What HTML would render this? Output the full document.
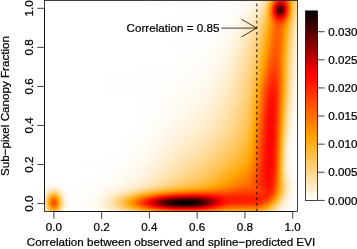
<!DOCTYPE html>
<html><head><meta charset="utf-8"><title>Density plot</title>
<style>
html,body{margin:0;padding:0;background:#fff}
#p{position:relative;width:357px;height:249px;overflow:hidden;background:#fff}
#h{position:absolute;left:44px;top:0px;width:255px;height:212px}
#h i{display:block;height:1px;width:255px}
</style></head><body>
<div id="p">
<div id="h">
<i style="background:linear-gradient(90deg,#ffffff 0.5px,#fffefe 181.5px,#fffefb 195.5px,#fffcf6 204.5px,#fff8ea 211.5px,#fff4e1 214.5px,#fff1d7 216.5px,#ffecc9 218.5px,#ffe4b4 220.5px,#ffd994 222.5px,#ffd280 223.5px,#ffca69 224.5px,#ffc04e 225.5px,#ffaa0e 227.5px,#ff9700 228.5px,#ff5000 231.5px,#ff2900 233.5px,#ff1a00 234.5px,#ff1100 235.5px,#ff0d00 236.5px,#ff0e00 237.5px,#ff1400 238.5px,#ff1e00 239.5px,#ff2d00 240.5px,#ff5200 242.5px,#ff9200 245.5px,#ffa602 246.5px,#ffbb3e 248.5px,#ffcd71 250.5px,#ffdb9a 252.5px,#ffe6b9 254.5px)"></i>
<i style="background:linear-gradient(90deg,#ffffff 0.5px,#fffefd 187.5px,#fffcf7 202.5px,#fff9ef 208.5px,#fff6e6 212.5px,#fff2da 215.5px,#ffeece 217.5px,#ffe7bb 219.5px,#ffe3af 220.5px,#ffd78e 222.5px,#ffd079 223.5px,#ffc760 224.5px,#ffbd43 225.5px,#ffa500 227.5px,#ff4000 231.5px,#ff2a00 232.5px,#ff1600 233.5px,#ff0800 234.5px,#fc0000 235.5px,#f60000 236.5px,#f90000 237.5px,#ff0300 238.5px,#ff0f00 239.5px,#ff1f00 240.5px,#ff3300 241.5px,#ffa400 246.5px,#ffbb3d 248.5px,#ffcd71 250.5px,#ffdc9b 252.5px,#ffe7bb 254.5px)"></i>
<i style="background:linear-gradient(90deg,#ffffff 0.5px,#fffefd 186.5px,#fffdfb 195.5px,#fffcf6 202.5px,#fff9ed 208.5px,#fff5e4 212.5px,#fff1d7 215.5px,#ffecca 217.5px,#ffe6b7 219.5px,#ffe1aa 220.5px,#ffdc9b 221.5px,#ffd588 222.5px,#ffcd71 223.5px,#ffc457 224.5px,#ffb939 225.5px,#ffad16 226.5px,#ff9b00 227.5px,#ff3000 231.5px,#ff1800 232.5px,#ff0300 233.5px,#ec0000 234.5px,#dd0000 235.5px,#d70000 236.5px,#db0000 237.5px,#e90000 238.5px,#fe0000 239.5px,#ff1100 240.5px,#ff2700 241.5px,#ffa100 246.5px,#ffaf1c 247.5px,#ffc458 249.5px,#ffcd72 250.5px,#ffdc9c 252.5px,#ffe7bc 254.5px)"></i>
<i style="background:linear-gradient(90deg,#ffffff 0.5px,#fffefd 185.5px,#fffdfb 194.5px,#fffcf6 201.5px,#fff9ee 207.5px,#fff6e4 211.5px,#fff2d9 214.5px,#ffeece 216.5px,#ffe8be 218.5px,#ffe4b3 219.5px,#ffda95 221.5px,#ffd381 222.5px,#ffca6a 223.5px,#ffc04e 224.5px,#ffb52e 225.5px,#ffa80a 226.5px,#ff9100 227.5px,#ff1f00 231.5px,#ff0600 232.5px,#e70000 233.5px,#cd0000 234.5px,#bd0000 235.5px,#b80000 236.5px,#be0000 237.5px,#cd0000 238.5px,#ff0300 240.5px,#ff1a00 241.5px,#ff9e00 246.5px,#ffae1a 247.5px,#ffba3b 248.5px,#ffc458 249.5px,#ffcd72 250.5px,#ffdc9d 252.5px,#ffe8bd 254.5px)"></i>
<i style="background:linear-gradient(90deg,#ffffff 0.5px,#fffefd 185.5px,#fffefb 193.5px,#fffcf6 200.5px,#fff9ee 206.5px,#fff5e2 211.5px,#fff1d6 214.5px,#ffedcb 216.5px,#ffe7ba 218.5px,#ffe2ae 219.5px,#ffdea0 220.5px,#ffd88f 221.5px,#ffd07a 222.5px,#ffc862 223.5px,#ffbd45 224.5px,#ffa300 226.5px,#ff6a00 228.5px,#ff0f00 231.5px,#ec0000 232.5px,#c90000 233.5px,#af0000 234.5px,#9f0000 235.5px,#9a0000 236.5px,#a10000 237.5px,#b10000 238.5px,#cc0000 239.5px,#ee0000 240.5px,#ff0f00 241.5px,#ff6500 244.5px,#ff9c00 246.5px,#ffad17 247.5px,#ffb939 248.5px,#ffc458 249.5px,#ffcd73 250.5px,#ffd68a 251.5px,#ffdd9e 252.5px,#ffe8be 254.5px)"></i>
<i style="background:linear-gradient(90deg,#ffffff 0.5px,#fffefd 185.5px,#fffdfa 193.5px,#fffcf5 200.5px,#fff8ec 206.5px,#fff4e0 211.5px,#fff0d4 214.5px,#ffebc7 216.5px,#ffe5b6 218.5px,#ffe1aa 219.5px,#ffdc9b 220.5px,#ffd589 221.5px,#ffce74 222.5px,#ffc55a 223.5px,#ffba3c 224.5px,#ffae19 225.5px,#ff9b00 226.5px,#ff5f00 228.5px,#ff0000 231.5px,#d30000 232.5px,#ae0000 233.5px,#930000 234.5px,#830000 235.5px,#7e0000 236.5px,#860000 237.5px,#980000 238.5px,#b50000 239.5px,#da0000 240.5px,#ff0400 241.5px,#ff6000 244.5px,#ff9900 246.5px,#ffac15 247.5px,#ffb939 248.5px,#ffc458 249.5px,#ffce73 250.5px,#ffd68b 251.5px,#ffdd9f 252.5px,#ffe8bf 254.5px)"></i>
<i style="background:linear-gradient(90deg,#ffffff 0.5px,#fffefd 184.5px,#fffdfa 192.5px,#fffcf5 199.5px,#fff9ed 205.5px,#fff4e1 210.5px,#fff0d5 213.5px,#ffedcb 215.5px,#ffe7bb 217.5px,#ffdfa5 219.5px,#ffda96 220.5px,#ffd384 221.5px,#ffcc6e 222.5px,#ffc253 223.5px,#ffb734 224.5px,#ffaa0f 225.5px,#ff9400 226.5px,#ff5600 228.5px,#ff1300 230.5px,#ea0000 231.5px,#bd0000 232.5px,#970000 233.5px,#7b0000 234.5px,#6a0000 235.5px,#660000 236.5px,#6e0000 237.5px,#830000 238.5px,#a10000 239.5px,#c90000 240.5px,#f60000 241.5px,#ff1a00 242.5px,#ff5b00 244.5px,#ff9700 246.5px,#ffac14 247.5px,#ffb938 248.5px,#ffc458 249.5px,#ffce74 250.5px,#ffd68c 251.5px,#ffdea0 252.5px,#ffe9c0 254.5px)"></i>
<i style="background:linear-gradient(90deg,#ffffff 0.5px,#fffefd 183.5px,#fffdfa 192.5px,#fffbf4 199.5px,#fff8eb 205.5px,#fff3de 210.5px,#ffefd2 213.5px,#ffebc7 215.5px,#ffe6b8 217.5px,#ffdea1 219.5px,#ffd891 220.5px,#ffd27e 221.5px,#ffca68 222.5px,#ffc04c 223.5px,#ffb52c 224.5px,#ffa707 225.5px,#ff8e00 226.5px,#ff6f00 227.5px,#ff0900 230.5px,#d90000 231.5px,#aa0000 232.5px,#840000 233.5px,#670000 234.5px,#560000 235.5px,#530000 236.5px,#5c0000 237.5px,#720000 238.5px,#920000 239.5px,#bb0000 240.5px,#eb0000 241.5px,#ff1400 242.5px,#ff5800 244.5px,#ff9600 246.5px,#ffac13 247.5px,#ffb938 248.5px,#ffc459 249.5px,#ffce75 250.5px,#ffd78d 251.5px,#ffdea2 252.5px,#ffe9c2 254.5px)"></i>
<i style="background:linear-gradient(90deg,#ffffff 0.5px,#fffefd 182.5px,#fffdfa 191.5px,#fffbf5 198.5px,#fff8eb 204.5px,#fff4df 209.5px,#fff0d4 212.5px,#ffecca 214.5px,#ffe8bc 216.5px,#ffe1a9 218.5px,#ffd78c 220.5px,#ffd079 221.5px,#ffc862 222.5px,#ffbe46 223.5px,#ffb225 224.5px,#ffa400 225.5px,#ff8800 226.5px,#ff6900 227.5px,#ff0100 230.5px,#cd0000 231.5px,#9e0000 232.5px,#760000 233.5px,#5a0000 234.5px,#490000 235.5px,#460000 236.5px,#500000 237.5px,#670000 238.5px,#880000 239.5px,#b30000 240.5px,#e40000 241.5px,#ff1100 242.5px,#ff5700 244.5px,#ff9600 246.5px,#ffac13 247.5px,#ffb939 248.5px,#ffc55a 249.5px,#ffcf76 250.5px,#ffd78e 251.5px,#ffdfa3 252.5px,#ffeac3 254.5px)"></i>
<i style="background:linear-gradient(90deg,#ffffff 0.5px,#fffefc 182.5px,#fffdfa 191.5px,#fffbf4 198.5px,#fff8ea 204.5px,#fff3dd 209.5px,#ffefd1 212.5px,#ffebc7 214.5px,#ffe6b9 216.5px,#ffdfa5 218.5px,#ffd588 220.5px,#ffce74 221.5px,#ffc65d 222.5px,#ffbc41 223.5px,#ffb020 224.5px,#ffa100 225.5px,#ff8400 226.5px,#ff6500 227.5px,#ff2000 229.5px,#fa0000 230.5px,#c60000 231.5px,#970000 232.5px,#6f0000 233.5px,#530000 234.5px,#430000 235.5px,#400000 236.5px,#4b0000 237.5px,#620000 238.5px,#850000 239.5px,#b00000 240.5px,#e20000 241.5px,#ff1000 242.5px,#ff5700 244.5px,#ff9700 246.5px,#ffac15 247.5px,#ffba3b 248.5px,#ffc55c 249.5px,#ffcf78 250.5px,#ffd890 251.5px,#ffdfa5 252.5px,#ffeac4 254.5px)"></i>
<i style="background:linear-gradient(90deg,#ffffff 0.5px,#fffefd 181.5px,#fffdfa 190.5px,#fffbf4 197.5px,#fff8ea 203.5px,#fff3dd 208.5px,#ffecc9 213.5px,#ffe8bd 215.5px,#ffe2ac 217.5px,#ffd993 219.5px,#ffd383 220.5px,#ffcc70 221.5px,#ffc458 222.5px,#ffba3c 223.5px,#ffaf1b 224.5px,#ff9e00 225.5px,#ff8200 226.5px,#ff6300 227.5px,#ff1e00 229.5px,#f80000 230.5px,#c40000 231.5px,#960000 232.5px,#6f0000 233.5px,#530000 234.5px,#440000 235.5px,#410000 236.5px,#4d0000 237.5px,#640000 238.5px,#870000 239.5px,#b30000 240.5px,#e50000 241.5px,#ff1200 242.5px,#ff5900 244.5px,#ff9800 246.5px,#ffad17 247.5px,#ffbb3d 248.5px,#ffc65e 249.5px,#ffd07a 250.5px,#ffd992 251.5px,#ffe0a6 252.5px,#ffebc5 254.5px)"></i>
<i style="background:linear-gradient(90deg,#ffffff 0.5px,#fffefd 180.5px,#fffdfa 189.5px,#fffbf4 196.5px,#fff8eb 202.5px,#fff3de 207.5px,#fff0d4 210.5px,#ffebc6 213.5px,#ffe6b9 215.5px,#ffe0a8 217.5px,#ffd88f 219.5px,#ffd27f 220.5px,#ffcb6c 221.5px,#ffc354 222.5px,#ffb939 223.5px,#ffad18 224.5px,#ff9c00 225.5px,#ff6200 227.5px,#ff1f00 229.5px,#fa0000 230.5px,#c80000 231.5px,#9b0000 232.5px,#760000 233.5px,#5b0000 234.5px,#4c0000 235.5px,#4a0000 236.5px,#560000 237.5px,#6e0000 238.5px,#900000 239.5px,#bc0000 240.5px,#ed0000 241.5px,#ff1700 242.5px,#ff5c00 244.5px,#ff9b00 246.5px,#ffaf1b 247.5px,#ffbc40 248.5px,#ffc761 249.5px,#ffd17d 250.5px,#ffd994 251.5px,#ffe0a8 252.5px,#ffebc7 254.5px)"></i>
<i style="background:linear-gradient(90deg,#ffffff 0.5px,#ffffff 116.5px,#fffefc 180.5px,#fffdf9 189.5px,#fffbf3 196.5px,#fff7e9 202.5px,#fff3dc 207.5px,#ffefd1 210.5px,#ffeac3 213.5px,#ffe5b6 215.5px,#ffdfa4 217.5px,#ffd68b 219.5px,#ffd17b 220.5px,#ffca68 221.5px,#ffc251 222.5px,#ffb836 223.5px,#ffad16 224.5px,#ff9b00 225.5px,#ff6300 227.5px,#ff0100 230.5px,#d10000 231.5px,#a60000 232.5px,#830000 233.5px,#690000 234.5px,#5b0000 235.5px,#5a0000 236.5px,#660000 237.5px,#7d0000 238.5px,#9f0000 239.5px,#c90000 240.5px,#fa0000 241.5px,#ff1e00 242.5px,#ff6200 244.5px,#ff9f00 246.5px,#ffb020 247.5px,#ffbd45 248.5px,#ffc864 249.5px,#ffd27f 250.5px,#ffda97 251.5px,#ffe1aa 252.5px,#ffecc8 254.5px)"></i>
<i style="background:linear-gradient(90deg,#ffffff 0.5px,#ffffff 116.5px,#fffefc 179.5px,#fffdf9 188.5px,#fffbf4 195.5px,#fff8ea 201.5px,#fff3dd 206.5px,#ffefd2 209.5px,#ffebc5 212.5px,#ffe4b2 215.5px,#ffdea0 217.5px,#ffd588 219.5px,#ffcf78 220.5px,#ffc965 221.5px,#ffc14e 222.5px,#ffb733 223.5px,#ffac14 224.5px,#ff9b00 225.5px,#ff6500 227.5px,#ff0800 230.5px,#df0000 231.5px,#b60000 232.5px,#950000 233.5px,#7d0000 234.5px,#700000 235.5px,#700000 236.5px,#7b0000 237.5px,#920000 238.5px,#b30000 239.5px,#dc0000 240.5px,#ff0700 241.5px,#ff6900 244.5px,#ffa400 246.5px,#ffb226 247.5px,#ffbf49 248.5px,#ffca68 249.5px,#ffd383 250.5px,#ffdb99 251.5px,#ffe2ac 252.5px,#ffecc9 254.5px)"></i>
<i style="background:linear-gradient(90deg,#ffffff 0.5px,#ffffff 116.5px,#fffefc 179.5px,#fffdf9 188.5px,#fffbf3 195.5px,#fff7e8 201.5px,#fff2db 206.5px,#ffeed0 209.5px,#ffe9c2 212.5px,#ffe3af 215.5px,#ffdc9d 217.5px,#ffd484 219.5px,#ffce74 220.5px,#ffc761 221.5px,#ffc04b 222.5px,#ffb732 223.5px,#ffac14 224.5px,#ff9c00 225.5px,#ff6800 227.5px,#ff1100 230.5px,#ef0000 231.5px,#ca0000 232.5px,#ab0000 233.5px,#950000 234.5px,#8a0000 235.5px,#8a0000 236.5px,#950000 237.5px,#ab0000 238.5px,#ca0000 239.5px,#f10000 240.5px,#ff1400 241.5px,#ff8e00 245.5px,#ffa707 246.5px,#ffb52d 247.5px,#ffc14f 248.5px,#ffcb6c 249.5px,#ffd486 250.5px,#ffdc9c 251.5px,#ffe3ae 252.5px,#ffedcb 254.5px)"></i>
<i style="background:linear-gradient(90deg,#ffffff 0.5px,#ffffff 116.5px,#fffefc 178.5px,#fffdf9 187.5px,#fffbf3 194.5px,#fff7e9 200.5px,#fff3dc 205.5px,#ffeac4 211.5px,#ffe4b2 214.5px,#ffdea3 216.5px,#ffd78e 218.5px,#ffcd71 220.5px,#ffc65f 221.5px,#ffbf49 222.5px,#ffb630 223.5px,#ffac14 224.5px,#ff9d00 225.5px,#ff6d00 227.5px,#ff0200 231.5px,#e00000 232.5px,#c40000 233.5px,#b00000 234.5px,#a60000 235.5px,#a70000 236.5px,#b20000 237.5px,#c70000 238.5px,#e50000 239.5px,#ff0700 240.5px,#ff9500 245.5px,#ffab10 246.5px,#ffb734 247.5px,#ffc355 248.5px,#ffcd71 249.5px,#ffd68a 250.5px,#ffdd9f 251.5px,#ffe3b0 252.5px,#ffedcc 254.5px)"></i>
<i style="background:linear-gradient(90deg,#ffffff 0.5px,#ffffff 115.5px,#fffefc 177.5px,#fffdf9 186.5px,#fffbf3 193.5px,#fff7ea 199.5px,#fff3dd 204.5px,#ffeecf 208.5px,#ffe9c1 211.5px,#ffe3af 214.5px,#ffdd9f 216.5px,#ffd68a 218.5px,#ffcc6d 220.5px,#ffbe47 222.5px,#ffb62f 223.5px,#ffac14 224.5px,#ff9e00 225.5px,#ff7100 227.5px,#ff0f00 231.5px,#f80000 232.5px,#de0000 233.5px,#cd0000 234.5px,#c50000 235.5px,#c60000 236.5px,#d10000 237.5px,#e40000 238.5px,#ff0100 239.5px,#ff1700 240.5px,#ff3000 241.5px,#ff9d00 245.5px,#ffae19 246.5px,#ffba3c 247.5px,#ffc55a 248.5px,#ffcf76 249.5px,#ffd78d 250.5px,#ffdea1 251.5px,#ffe4b3 252.5px,#ffedcd 254.5px)"></i>
<i style="background:linear-gradient(90deg,#ffffff 0.5px,#ffffff 116.5px,#fffefc 177.5px,#fffdf9 186.5px,#fffbf3 193.5px,#fff7e8 199.5px,#fff2db 204.5px,#ffedcc 208.5px,#ffe8be 211.5px,#ffe2ac 214.5px,#ffdc9b 216.5px,#ffd486 218.5px,#ffcb6a 220.5px,#ffbd45 222.5px,#ffb52e 223.5px,#ffac15 224.5px,#ffa000 225.5px,#ff7600 227.5px,#ff1d00 231.5px,#ff0b00 232.5px,#f90000 233.5px,#ea0000 234.5px,#e30000 235.5px,#e50000 236.5px,#ef0000 237.5px,#ff0200 238.5px,#ff1300 239.5px,#ff2800 240.5px,#ffa400 245.5px,#ffbd43 247.5px,#ffc760 248.5px,#ffd07a 249.5px,#ffd891 250.5px,#ffdfa4 251.5px,#ffe5b5 252.5px,#ffeecf 254.5px)"></i>
<i style="background:linear-gradient(90deg,#ffffff 0.5px,#ffffff 115.5px,#fffefc 176.5px,#fffdf9 185.5px,#fffbf3 192.5px,#fff7e9 198.5px,#fff3dc 203.5px,#ffeece 207.5px,#ffe9c0 210.5px,#ffe3af 213.5px,#ffdea1 215.5px,#ffd78e 217.5px,#ffcf76 219.5px,#ffc356 221.5px,#ffbd43 222.5px,#ffac15 224.5px,#ffa100 225.5px,#ff3c00 230.5px,#ff1a00 232.5px,#ff0d00 233.5px,#ff0500 234.5px,#ff0100 235.5px,#ff0200 236.5px,#ff0900 237.5px,#ff1500 238.5px,#ff2400 239.5px,#ff4d00 241.5px,#ff9500 244.5px,#ffa90a 245.5px,#ffbf4a 247.5px,#ffc966 248.5px,#ffd27f 249.5px,#ffe0a7 251.5px,#ffe6b7 252.5px,#ffeed0 254.5px)"></i>
<i style="background:linear-gradient(90deg,#ffffff 0.5px,#fffefd 166.5px,#fffdfb 181.5px,#fffbf5 190.5px,#fff9ee 195.5px,#fff5e3 200.5px,#fff0d3 205.5px,#ffeac2 209.5px,#ffe4b2 212.5px,#ffdc9d 215.5px,#ffd27f 218.5px,#ffc864 220.5px,#ffbc41 222.5px,#ffac15 224.5px,#ffa200 225.5px,#ff4600 230.5px,#ff3600 231.5px,#ff2700 232.5px,#ff1c00 233.5px,#ff1500 234.5px,#ff1300 235.5px,#ff1400 236.5px,#ff1b00 237.5px,#ff2600 238.5px,#ff3500 239.5px,#ff5b00 241.5px,#ff9d00 244.5px,#ffac15 245.5px,#ffc251 247.5px,#ffd383 249.5px,#ffe1aa 251.5px,#ffe6b9 252.5px,#ffefd1 254.5px)"></i>
<i style="background:linear-gradient(90deg,#ffffff 0.5px,#fffefd 166.5px,#fffdfa 181.5px,#fffbf4 190.5px,#fff7e9 197.5px,#fff1d8 203.5px,#ffeac5 208.5px,#ffe1a9 213.5px,#ffd891 216.5px,#ffcc6f 219.5px,#ffc251 221.5px,#ffbb3f 222.5px,#ffa300 225.5px,#ff4f00 230.5px,#ff3400 232.5px,#ff2a00 233.5px,#ff2400 234.5px,#ff2200 235.5px,#ff2500 236.5px,#ff2b00 237.5px,#ff3600 238.5px,#ff4300 239.5px,#ff6700 241.5px,#ffa500 244.5px,#ffba3c 246.5px,#ffc458 247.5px,#ffd587 249.5px,#ffe2ac 251.5px,#ffe7bb 252.5px,#ffefd3 254.5px)"></i>
<i style="background:linear-gradient(90deg,#ffffff 0.5px,#fffefd 164.5px,#fffdfb 179.5px,#fffbf4 189.5px,#fff7e9 196.5px,#fff2da 202.5px,#ffe9c2 208.5px,#ffe0a6 213.5px,#ffd78e 216.5px,#ffcb6c 219.5px,#ffc14e 221.5px,#ffba3d 222.5px,#ffa400 225.5px,#ff5700 230.5px,#ff3f00 232.5px,#ff3700 233.5px,#ff3200 234.5px,#ff3000 235.5px,#ff3300 236.5px,#ff3900 237.5px,#ff4300 238.5px,#ff5000 239.5px,#ff7200 241.5px,#ff9800 243.5px,#ffa90a 244.5px,#ffbd43 246.5px,#ffc65d 247.5px,#ffd68b 249.5px,#ffe3ae 251.5px,#ffe8bd 252.5px,#fff0d4 254.5px)"></i>
<i style="background:linear-gradient(90deg,#ffffff 0.5px,#fffefd 164.5px,#fffdfa 179.5px,#fffbf4 189.5px,#fff7e8 196.5px,#fff1d8 202.5px,#ffe9c0 208.5px,#ffdea3 213.5px,#ffd68a 216.5px,#ffca69 219.5px,#ffc04b 221.5px,#ffba3a 222.5px,#ffa400 225.5px,#ff6a00 229.5px,#ff5100 231.5px,#ff4100 233.5px,#ff3d00 234.5px,#ff3c00 235.5px,#ff3f00 236.5px,#ff4500 237.5px,#ff4f00 238.5px,#ff6a00 240.5px,#ff9f00 243.5px,#ffac14 244.5px,#ffbf4a 246.5px,#ffc863 247.5px,#ffd78e 249.5px,#ffe3b1 251.5px,#ffe8bf 252.5px,#fff0d5 254.5px)"></i>
<i style="background:linear-gradient(90deg,#ffffff 0.5px,#fffefd 163.5px,#fffdfb 178.5px,#fffbf4 188.5px,#fff7e9 195.5px,#fff2d9 201.5px,#ffe9c2 207.5px,#ffe0a7 212.5px,#ffdb98 214.5px,#ffd587 216.5px,#ffc965 219.5px,#ffb938 222.5px,#ffa400 225.5px,#ff6e00 229.5px,#ff5700 231.5px,#ff4900 233.5px,#ff4600 234.5px,#ff4600 235.5px,#ff4900 236.5px,#ff5900 238.5px,#ff7300 240.5px,#ffa501 243.5px,#ffc150 246.5px,#ffd17d 248.5px,#ffd891 249.5px,#ffe4b3 251.5px,#ffe9c0 252.5px,#fff1d6 254.5px)"></i>
<i style="background:linear-gradient(90deg,#ffffff 0.5px,#fffefd 163.5px,#fffdfa 178.5px,#fffbf3 188.5px,#fff7e8 195.5px,#fff1d7 201.5px,#ffe9c0 207.5px,#ffdfa4 212.5px,#ffd484 216.5px,#ffc862 219.5px,#ffbe45 221.5px,#ffa300 225.5px,#ff7c00 228.5px,#ff6500 230.5px,#ff5500 232.5px,#ff4d00 234.5px,#ff4e00 235.5px,#ff5100 236.5px,#ff6100 238.5px,#ff7a00 240.5px,#ff9a00 242.5px,#ffa809 243.5px,#ffc354 246.5px,#ffd281 248.5px,#ffd994 249.5px,#ffe5b5 251.5px,#ffe9c2 252.5px,#fff1d7 254.5px)"></i>
<i style="background:linear-gradient(90deg,#ffffff 0.5px,#fffefd 161.5px,#fffdfa 177.5px,#fffbf4 187.5px,#fff7e9 194.5px,#fff2d9 200.5px,#ffe9c2 206.5px,#ffe0a7 211.5px,#ffd68a 215.5px,#ffcb6b 218.5px,#ffbc42 221.5px,#ffaa0f 224.5px,#ffa200 225.5px,#ff7d00 228.5px,#ff6800 230.5px,#ff5900 232.5px,#ff5300 234.5px,#ff5800 236.5px,#ff6700 238.5px,#ff8000 240.5px,#ff9f00 242.5px,#ffaa0f 243.5px,#ffc459 246.5px,#ffd384 248.5px,#ffda96 249.5px,#ffe5b6 251.5px,#ffeac3 252.5px,#fff1d8 254.5px)"></i>
<i style="background:linear-gradient(90deg,#ffffff 0.5px,#fffefd 161.5px,#fffdfa 177.5px,#fffbf3 187.5px,#fff7e8 194.5px,#fff1d7 200.5px,#ffe9c0 206.5px,#ffdfa5 211.5px,#ffd587 215.5px,#ffca68 218.5px,#ffbb3f 221.5px,#ffa90d 224.5px,#ffa100 225.5px,#ff7e00 228.5px,#ff6a00 230.5px,#ff5c00 232.5px,#ff5700 234.5px,#ff5d00 236.5px,#ff6d00 238.5px,#ff8500 240.5px,#ffa300 242.5px,#ffac15 243.5px,#ffc65c 246.5px,#ffd486 248.5px,#ffdb99 249.5px,#ffe6b8 251.5px,#ffeac5 252.5px,#fff2d9 254.5px)"></i>
<i style="background:linear-gradient(90deg,#ffffff 0.5px,#fffefd 160.5px,#fffdfa 176.5px,#fffbf4 186.5px,#fff7e9 193.5px,#fff2d9 199.5px,#ffeac2 205.5px,#ffdea2 211.5px,#ffd484 215.5px,#ffc965 218.5px,#ffba3c 221.5px,#ffa90a 224.5px,#ffa000 225.5px,#ff7e00 228.5px,#ff6b00 230.5px,#ff5f00 232.5px,#ff5a00 234.5px,#ff6000 236.5px,#ff7100 238.5px,#ff8900 240.5px,#ffa602 242.5px,#ffc760 246.5px,#ffd589 248.5px,#ffdc9b 249.5px,#ffe6b9 251.5px,#ffebc6 252.5px,#fff2da 254.5px)"></i>
<i style="background:linear-gradient(90deg,#ffffff 0.5px,#ffffff 110.5px,#fffefd 160.5px,#fffdfa 176.5px,#fffbf3 186.5px,#fff7e8 193.5px,#fff1d8 199.5px,#ffe9c0 205.5px,#ffdda0 211.5px,#ffd381 215.5px,#ffc862 218.5px,#ffb939 221.5px,#ffa808 224.5px,#ff9f00 225.5px,#ff7e00 228.5px,#ff6c00 230.5px,#ff6000 232.5px,#ff5d00 234.5px,#ff5f00 235.5px,#ff6a00 237.5px,#ff7f00 239.5px,#ff9a00 241.5px,#ffa706 242.5px,#ffc863 246.5px,#ffd68b 248.5px,#ffdc9d 249.5px,#ffe7bb 251.5px,#ffebc7 252.5px,#fff2db 254.5px)"></i>
<i style="background:linear-gradient(90deg,#ffffff 0.5px,#fffefd 158.5px,#fffdfa 175.5px,#fffbf3 185.5px,#fff7e9 192.5px,#fff2d9 198.5px,#ffeac3 204.5px,#ffdfa4 210.5px,#ffd587 214.5px,#ffcb6b 217.5px,#ffbd45 220.5px,#ffb327 222.5px,#ffa705 224.5px,#ff9d00 225.5px,#ff7d00 228.5px,#ff6c00 230.5px,#ff6100 232.5px,#ff5e00 234.5px,#ff6100 235.5px,#ff6d00 237.5px,#ff8200 239.5px,#ff9d00 241.5px,#ffa80a 242.5px,#ffc965 246.5px,#ffd78d 248.5px,#ffdd9f 249.5px,#ffe7bc 251.5px,#ffecc8 252.5px,#fff2dc 254.5px)"></i>
<i style="background:linear-gradient(90deg,#ffffff 0.5px,#ffffff 110.5px,#fffefd 158.5px,#fffdfa 175.5px,#fffbf3 185.5px,#fff7e8 192.5px,#fff1d8 198.5px,#ffe9c1 204.5px,#ffdea1 210.5px,#ffd485 214.5px,#ffca68 217.5px,#ffbc42 220.5px,#ffb224 222.5px,#ffa603 224.5px,#ff9c00 225.5px,#ff7c00 228.5px,#ff6c00 230.5px,#ff6100 232.5px,#ff5f00 234.5px,#ff6200 235.5px,#ff6f00 237.5px,#ff8400 239.5px,#ff9f00 241.5px,#ffaa0d 242.5px,#ffca68 246.5px,#ffd88f 248.5px,#ffdea0 249.5px,#ffe8be 251.5px,#ffecc9 252.5px,#fff3dc 254.5px)"></i>
<i style="background:linear-gradient(90deg,#ffffff 0.5px,#ffffff 110.5px,#fffefd 158.5px,#fffdfa 175.5px,#fffaf2 185.5px,#fff6e7 192.5px,#fff1d6 198.5px,#ffe8bf 204.5px,#ffdd9f 210.5px,#ffd382 214.5px,#ffc965 217.5px,#ffbb3f 220.5px,#ffa500 224.5px,#ff8500 227.5px,#ff7200 229.5px,#ff6500 231.5px,#ff6000 233.5px,#ff6300 235.5px,#ff7000 237.5px,#ff8500 239.5px,#ffa000 241.5px,#ffab10 242.5px,#ffc355 245.5px,#ffd27e 247.5px,#ffdea2 249.5px,#ffe8bf 251.5px,#ffeccb 252.5px,#fff3dd 254.5px)"></i>
<i style="background:linear-gradient(90deg,#ffffff 0.5px,#ffffff 109.5px,#fffefd 156.5px,#fffdfa 173.5px,#fffbf3 184.5px,#fff7e8 191.5px,#fff1d8 197.5px,#ffe9c1 203.5px,#ffdfa3 209.5px,#ffd588 213.5px,#ffcf77 215.5px,#ffc863 217.5px,#ffba3d 220.5px,#ffa300 224.5px,#ff8300 227.5px,#ff7200 229.5px,#ff6500 231.5px,#ff6000 233.5px,#ff6400 235.5px,#ff7100 237.5px,#ff8700 239.5px,#ffa200 241.5px,#ffab12 242.5px,#ffcb6c 246.5px,#ffd993 248.5px,#ffe4b3 250.5px,#ffe9c0 251.5px,#ffedcc 252.5px,#fff3de 254.5px)"></i>
<i style="background:linear-gradient(90deg,#ffffff 0.5px,#ffffff 109.5px,#fffefd 156.5px,#fffdfa 173.5px,#fffaf2 184.5px,#fff6e7 191.5px,#fff1d7 197.5px,#ffe9c0 203.5px,#ffdea1 209.5px,#ffd486 213.5px,#ffce74 215.5px,#ffc760 217.5px,#ffbe48 219.5px,#ffb42b 221.5px,#ffa90b 223.5px,#ffa200 224.5px,#ff8200 227.5px,#ff7100 229.5px,#ff6500 231.5px,#ff6000 233.5px,#ff6400 235.5px,#ff7200 237.5px,#ff8800 239.5px,#ffa400 241.5px,#ffcc6e 246.5px,#ffd995 248.5px,#ffe5b4 250.5px,#ffe9c1 251.5px,#ffedcd 252.5px,#fff4df 254.5px)"></i>
<i style="background:linear-gradient(90deg,#ffffff 0.5px,#ffffff 109.5px,#fffefd 154.5px,#fffdfa 172.5px,#fffbf3 183.5px,#fff7e8 190.5px,#fff0d5 197.5px,#ffe8be 203.5px,#ffdd9f 209.5px,#ffd383 213.5px,#ffca68 216.5px,#ffbd45 219.5px,#ffb328 221.5px,#ffa809 223.5px,#ffa000 224.5px,#ff8100 227.5px,#ff7000 229.5px,#ff6400 231.5px,#ff6000 233.5px,#ff6500 235.5px,#ff7300 237.5px,#ff8a00 239.5px,#ffa500 241.5px,#ffc55b 245.5px,#ffd484 247.5px,#ffda96 248.5px,#ffe5b5 250.5px,#ffeac2 251.5px,#ffeece 252.5px,#fff4df 254.5px)"></i>
<i style="background:linear-gradient(90deg,#ffffff 0.5px,#ffffff 109.5px,#fffefc 154.5px,#fffdfa 172.5px,#fffaf2 183.5px,#fff6e7 190.5px,#fff0d4 197.5px,#ffe7bc 203.5px,#ffdc9d 209.5px,#ffd381 213.5px,#ffc966 216.5px,#ffbc42 219.5px,#ffb226 221.5px,#ffa706 223.5px,#ff9e00 224.5px,#ff7f00 227.5px,#ff6f00 229.5px,#ff6400 231.5px,#ff6000 233.5px,#ff6500 235.5px,#ff7400 237.5px,#ff8b00 239.5px,#ffa602 241.5px,#ffc65d 245.5px,#ffd486 247.5px,#ffdb98 248.5px,#ffe0a8 249.5px,#ffeac4 251.5px,#ffeecf 252.5px,#fff4e0 254.5px)"></i>
<i style="background:linear-gradient(90deg,#ffffff 0.5px,#ffffff 108.5px,#fffefd 150.5px,#fffdfa 170.5px,#fffbf3 182.5px,#fff7e8 189.5px,#fff0d6 196.5px,#ffe8bf 202.5px,#ffdea1 208.5px,#ffd587 212.5px,#ffc863 216.5px,#ffbc40 219.5px,#ffb123 221.5px,#ffa603 223.5px,#ff9d00 224.5px,#ff7e00 227.5px,#ff6e00 229.5px,#ff6300 231.5px,#ff6000 233.5px,#ff6500 235.5px,#ff7500 237.5px,#ff9900 240.5px,#ffa604 241.5px,#ffc75f 245.5px,#ffd587 247.5px,#ffdb99 248.5px,#ffe1aa 249.5px,#ffeac5 251.5px,#ffeed0 252.5px,#fff4e1 254.5px)"></i>
<i style="background:linear-gradient(90deg,#ffffff 0.5px,#ffffff 108.5px,#fffefd 151.5px,#fffdf9 171.5px,#fffaf2 182.5px,#fff7e7 189.5px,#fff0d4 196.5px,#ffe8bd 202.5px,#ffdd9f 208.5px,#ffd485 212.5px,#ffcb6b 215.5px,#ffc356 217.5px,#ffbb3d 219.5px,#ffa501 223.5px,#ff9b00 224.5px,#ff7d00 227.5px,#ff6d00 229.5px,#ff6200 231.5px,#ff5f00 233.5px,#ff6100 234.5px,#ff6d00 236.5px,#ff8000 238.5px,#ff9a00 240.5px,#ffa706 241.5px,#ffc761 245.5px,#ffd589 247.5px,#ffdc9b 248.5px,#ffe1ab 249.5px,#ffebc6 251.5px,#ffefd0 252.5px,#fff5e1 254.5px)"></i>
<i style="background:linear-gradient(90deg,#ffffff 0.5px,#ffffff 108.5px,#fffefc 151.5px,#fffdf9 171.5px,#fffaf1 182.5px,#fff6e6 189.5px,#fff1d6 195.5px,#ffe7bc 202.5px,#ffdc9d 208.5px,#ffd383 212.5px,#ffcd72 214.5px,#ffc65f 216.5px,#ffba3b 219.5px,#ffa400 223.5px,#ff8500 226.5px,#ff7300 228.5px,#ff6600 230.5px,#ff5f00 232.5px,#ff6100 234.5px,#ff6d00 236.5px,#ff8100 238.5px,#ff9c00 240.5px,#ffa808 241.5px,#ffc863 245.5px,#ffd68b 247.5px,#ffdc9c 248.5px,#ffe2ac 249.5px,#ffebc7 251.5px,#ffefd1 252.5px,#fff5e2 254.5px)"></i>
<i style="background:linear-gradient(90deg,#ffffff 0.5px,#fffefd 137.5px,#fffdfa 167.5px,#fffaf2 181.5px,#fff7e7 188.5px,#fff0d5 195.5px,#ffe7ba 202.5px,#ffdc9b 208.5px,#ffd281 212.5px,#ffcd70 214.5px,#ffc65d 216.5px,#ffb938 219.5px,#ffa90c 222.5px,#ffa200 223.5px,#ff8300 226.5px,#ff7200 228.5px,#ff6500 230.5px,#ff5f00 232.5px,#ff6100 234.5px,#ff6e00 236.5px,#ff8200 238.5px,#ff9d00 240.5px,#ffa80a 241.5px,#ffc965 245.5px,#ffd78c 247.5px,#ffdd9e 248.5px,#ffe2ae 249.5px,#ffecc8 251.5px,#ffefd2 252.5px,#fff5e3 254.5px)"></i>
<i style="background:linear-gradient(90deg,#ffffff 0.5px,#fffefd 144.5px,#fffdfa 168.5px,#fffaf1 181.5px,#fff6e6 188.5px,#fff1d7 194.5px,#ffe8bd 201.5px,#ffdd9f 207.5px,#ffd486 211.5px,#ffc965 215.5px,#ffbd43 218.5px,#ffb328 220.5px,#ffa809 222.5px,#ffa100 223.5px,#ff8200 226.5px,#ff7100 228.5px,#ff6400 230.5px,#ff5f00 232.5px,#ff6100 234.5px,#ff6e00 236.5px,#ff8300 238.5px,#ff9e00 240.5px,#ffa90c 241.5px,#ffc966 245.5px,#ffd78e 247.5px,#ffdd9f 248.5px,#ffe3af 249.5px,#ffecc9 251.5px,#ffefd3 252.5px,#fff5e3 254.5px)"></i>
<i style="background:linear-gradient(90deg,#ffffff 0.5px,#ffffff 106.5px,#fffefd 146.5px,#fffdf9 169.5px,#fffaf1 181.5px,#fff6e5 188.5px,#fff0d6 194.5px,#ffe7bb 201.5px,#ffdd9e 207.5px,#ffd484 211.5px,#ffc863 215.5px,#ffbc41 218.5px,#ffb225 220.5px,#ffa707 222.5px,#ff9f00 223.5px,#ff8000 226.5px,#ff6f00 228.5px,#ff6300 230.5px,#ff5e00 232.5px,#ff6100 234.5px,#ff6e00 236.5px,#ff8400 238.5px,#ff9f00 240.5px,#ffaa0d 241.5px,#ffca68 245.5px,#ffd890 247.5px,#ffdea1 248.5px,#ffe3b0 249.5px,#ffecca 251.5px,#fff0d4 252.5px,#fff5e4 254.5px)"></i>
<i style="background:linear-gradient(90deg,#ffffff 0.5px,#fffefe 133.5px,#fffdfa 166.5px,#fffaf1 180.5px,#fff6e7 187.5px,#fff0d5 194.5px,#ffe7ba 201.5px,#ffdc9c 207.5px,#ffd382 211.5px,#ffc761 215.5px,#ffbb3e 218.5px,#ffb123 220.5px,#ffa604 222.5px,#ff9d00 223.5px,#ff7f00 226.5px,#ff6e00 228.5px,#ff6200 230.5px,#ff5e00 232.5px,#ff6100 234.5px,#ff6f00 236.5px,#ff8500 238.5px,#ffa000 240.5px,#ffaa0f 241.5px,#ffca6a 245.5px,#ffd891 247.5px,#ffdea2 248.5px,#ffe4b1 249.5px,#ffedcb 251.5px,#fff0d5 252.5px,#fff6e4 254.5px)"></i>
<i style="background:linear-gradient(90deg,#ffffff 0.5px,#fffefd 134.5px,#fffdfa 166.5px,#fffcf6 174.5px,#fffaf1 180.5px,#fff6e6 187.5px,#fff0d3 194.5px,#ffe6b8 201.5px,#ffdb9a 207.5px,#ffd281 211.5px,#ffc65f 215.5px,#ffba3c 218.5px,#ffb020 220.5px,#ffa602 222.5px,#ff9c00 223.5px,#ff7e00 226.5px,#ff6d00 228.5px,#ff6100 230.5px,#ff5d00 232.5px,#ff6100 234.5px,#ff6f00 236.5px,#ff8500 238.5px,#ffa100 240.5px,#ffab11 241.5px,#ffcb6c 245.5px,#ffd992 247.5px,#ffdfa3 248.5px,#ffe4b3 249.5px,#ffedcc 251.5px,#fff6e5 254.5px)"></i>
<i style="background:linear-gradient(90deg,#ffffff 0.5px,#fffffe 130.5px,#fffdfa 164.5px,#fffcf7 172.5px,#fffaf1 179.5px,#fff6e7 186.5px,#fff0d5 193.5px,#ffe7bb 200.5px,#ffdb99 207.5px,#ffd27f 211.5px,#ffc65d 215.5px,#ffb93a 218.5px,#ffa400 222.5px,#ff7c00 226.5px,#ff6c00 228.5px,#ff6100 230.5px,#ff5c00 232.5px,#ff6100 234.5px,#ff7000 236.5px,#ff8600 238.5px,#ffa200 240.5px,#ffab12 241.5px,#ffcc6d 245.5px,#ffd994 247.5px,#ffdfa5 248.5px,#ffe4b4 249.5px,#ffedcc 251.5px,#fff6e5 254.5px)"></i>
<i style="background:linear-gradient(90deg,#ffffff 0.5px,#fffffe 131.5px,#fffdfa 164.5px,#fffcf7 172.5px,#fffaf1 179.5px,#fff6e6 186.5px,#fff0d4 193.5px,#ffe7ba 200.5px,#ffdc9d 206.5px,#ffd484 210.5px,#ffc864 214.5px,#ffbd44 217.5px,#ffa300 222.5px,#ff7b00 226.5px,#ff6a00 228.5px,#ff6000 230.5px,#ff5c00 232.5px,#ff6100 234.5px,#ff7000 236.5px,#ff8700 238.5px,#ffa300 240.5px,#ffac14 241.5px,#ffcc6f 245.5px,#ffda95 247.5px,#ffe0a6 248.5px,#ffe5b5 249.5px,#ffedcd 251.5px,#fff6e6 254.5px)"></i>
<i style="background:linear-gradient(90deg,#ffffff 0.5px,#fffefe 131.5px,#fffdfa 164.5px,#fffcf6 172.5px,#fffaf0 179.5px,#fff6e5 186.5px,#ffefd3 193.5px,#ffe6b9 200.5px,#ffdc9b 206.5px,#ffd383 210.5px,#ffc862 214.5px,#ffbc42 217.5px,#ffb328 219.5px,#ffa90a 221.5px,#ffa100 222.5px,#ff7900 226.5px,#ff6900 228.5px,#ff5f00 230.5px,#ff5b00 232.5px,#ff6100 234.5px,#ff7000 236.5px,#ff8800 238.5px,#ffa400 240.5px,#ffcd70 245.5px,#ffda97 247.5px,#ffe0a7 248.5px,#ffe5b6 249.5px,#ffeece 251.5px,#fff6e6 254.5px)"></i>
<i style="background:linear-gradient(90deg,#ffffff 0.5px,#fffffe 128.5px,#fffdfa 163.5px,#fffcf6 171.5px,#fffaf1 178.5px,#fff6e6 185.5px,#fff0d5 192.5px,#ffe7bb 199.5px,#ffdb9a 206.5px,#ffd381 210.5px,#ffc761 214.5px,#ffbc40 217.5px,#ffb225 219.5px,#ffa807 221.5px,#ffa000 222.5px,#ff7800 226.5px,#ff6800 228.5px,#ff5e00 230.5px,#ff5b00 232.5px,#ff6100 234.5px,#ff7100 236.5px,#ff8800 238.5px,#ffa500 240.5px,#ffc65d 244.5px,#ffd486 246.5px,#ffdb98 247.5px,#ffe0a8 248.5px,#ffeac4 250.5px,#fff1d8 252.5px,#fff7e7 254.5px)"></i>
<i style="background:linear-gradient(90deg,#ffffff 0.5px,#fffffe 129.5px,#fffdf9 163.5px,#fffcf6 171.5px,#fffaf0 178.5px,#fff6e5 185.5px,#fff0d4 192.5px,#ffe7ba 199.5px,#ffdb98 206.5px,#ffd27f 210.5px,#ffc65f 214.5px,#ffbb3e 217.5px,#ffb123 219.5px,#ffa705 221.5px,#ff9e00 222.5px,#ff7600 226.5px,#ff6700 228.5px,#ff5d00 230.5px,#ff5a00 232.5px,#ff6100 234.5px,#ff7100 236.5px,#ff8900 238.5px,#ffa501 240.5px,#ffc65e 244.5px,#ffd587 246.5px,#ffdb99 247.5px,#ffe1aa 248.5px,#ffeac5 250.5px,#fff2d9 252.5px,#fff7e7 254.5px)"></i>
<i style="background:linear-gradient(90deg,#ffffff 0.5px,#fffefe 129.5px,#fffdf9 163.5px,#fffcf6 171.5px,#fffaef 178.5px,#fff6e4 185.5px,#ffefd3 192.5px,#ffe6b9 199.5px,#ffdc9c 205.5px,#ffd485 209.5px,#ffc966 213.5px,#ffc253 215.5px,#ffba3c 217.5px,#ffb021 219.5px,#ffa602 221.5px,#ff9c00 222.5px,#ff7500 226.5px,#ff6500 228.5px,#ff5c00 230.5px,#ff5900 232.5px,#ff6100 234.5px,#ff7100 236.5px,#ff8a00 238.5px,#ffa602 240.5px,#ffc760 244.5px,#ffd589 246.5px,#ffdc9b 247.5px,#ffe1ab 248.5px,#ffebc6 250.5px,#fff2da 252.5px,#fff7e8 254.5px)"></i>
<i style="background:linear-gradient(90deg,#ffffff 0.5px,#fffffe 127.5px,#fffdf9 162.5px,#fffcf6 170.5px,#fffaf0 177.5px,#fff6e6 184.5px,#fff0d4 191.5px,#ffe7bc 198.5px,#ffdc9b 205.5px,#ffd17c 210.5px,#ffc55b 214.5px,#ffb939 217.5px,#ffa500 221.5px,#ff7c00 225.5px,#ff6400 228.5px,#ff5b00 230.5px,#ff5900 232.5px,#ff6000 234.5px,#ff7200 236.5px,#ff9800 239.5px,#ffa604 240.5px,#ffc761 244.5px,#ffd68a 246.5px,#ffdc9c 247.5px,#ffe2ac 248.5px,#ffebc7 250.5px,#fff2da 252.5px,#fff7e8 254.5px)"></i>
<i style="background:linear-gradient(90deg,#ffffff 0.5px,#fffffe 127.5px,#fffdf9 162.5px,#fffcf6 170.5px,#fffaef 177.5px,#fff6e5 184.5px,#fff0d3 191.5px,#ffe7ba 198.5px,#ffdb99 205.5px,#ffd07b 210.5px,#ffc459 214.5px,#ffb837 217.5px,#ffa300 221.5px,#ff7a00 225.5px,#ff6900 227.5px,#ff5d00 229.5px,#ff5800 231.5px,#ff5b00 233.5px,#ff6800 235.5px,#ff7e00 237.5px,#ff9900 239.5px,#ffa705 240.5px,#ffc862 244.5px,#ffd68b 246.5px,#ffdc9d 247.5px,#ffe2ad 248.5px,#ffebc8 250.5px,#fff2db 252.5px,#fff7e9 254.5px)"></i>
<i style="background:linear-gradient(90deg,#ffffff 0.5px,#fffffe 127.5px,#fffdf9 162.5px,#fffcf5 170.5px,#fff9ef 177.5px,#fff5e4 184.5px,#ffefd2 191.5px,#ffe6b9 198.5px,#ffdb98 205.5px,#ffd280 209.5px,#ffc761 213.5px,#ffbc41 216.5px,#ffb328 218.5px,#ffa90a 220.5px,#ffa100 221.5px,#ff7900 225.5px,#ff6800 227.5px,#ff5c00 229.5px,#ff5700 231.5px,#ff5a00 233.5px,#ff6800 235.5px,#ff7e00 237.5px,#ff9a00 239.5px,#ffa706 240.5px,#ffc864 244.5px,#ffd78c 246.5px,#ffdd9e 247.5px,#ffe2ae 248.5px,#ffecc8 250.5px,#fff3dc 252.5px,#fff7e9 254.5px)"></i>
<i style="background:linear-gradient(90deg,#ffffff 0.5px,#fffffe 125.5px,#fffdf9 161.5px,#fffcf5 169.5px,#fffaef 176.5px,#fff5e3 184.5px,#ffefd1 191.5px,#ffe6b8 198.5px,#ffda97 205.5px,#ffd27f 209.5px,#ffc75f 213.5px,#ffbb3f 216.5px,#ffb225 218.5px,#ffa808 220.5px,#ffa000 221.5px,#ff7700 225.5px,#ff6600 227.5px,#ff5b00 229.5px,#ff5600 231.5px,#ff5a00 233.5px,#ff6800 235.5px,#ff7e00 237.5px,#ff9a00 239.5px,#ffa807 240.5px,#ffc14f 243.5px,#ffd07a 245.5px,#ffdd9f 247.5px,#ffe3af 248.5px,#ffe8bd 249.5px,#fff0d4 251.5px,#fff7ea 254.5px)"></i>
<i style="background:linear-gradient(90deg,#ffffff 0.5px,#fffffe 125.5px,#fffdf9 160.5px,#fffbf5 169.5px,#fff9ef 176.5px,#fff5e2 184.5px,#ffeed0 191.5px,#ffe5b6 198.5px,#ffda95 205.5px,#ffd17d 209.5px,#ffc65d 213.5px,#ffbb3d 216.5px,#ffb123 218.5px,#ffa705 220.5px,#ff9e00 221.5px,#ff7500 225.5px,#ff6500 227.5px,#ff5900 229.5px,#ff5500 231.5px,#ff5900 233.5px,#ff6800 235.5px,#ff7f00 237.5px,#ff9b00 239.5px,#ffa808 240.5px,#ffc150 243.5px,#ffd17b 245.5px,#ffdea0 247.5px,#ffe3b0 248.5px,#ffe8be 249.5px,#fff0d4 251.5px,#fff8ea 254.5px)"></i>
<i style="background:linear-gradient(90deg,#ffffff 0.5px,#fffefe 126.5px,#fffdf9 160.5px,#fffbf5 169.5px,#fff9ee 176.5px,#fff5e3 183.5px,#ffefd2 190.5px,#ffe6b9 197.5px,#ffdb99 204.5px,#ffd382 208.5px,#ffc965 212.5px,#ffc252 214.5px,#ffba3b 216.5px,#ffb020 218.5px,#ffa602 220.5px,#ff9c00 221.5px,#ff7300 225.5px,#ff6300 227.5px,#ff5800 229.5px,#ff5400 231.5px,#ff5900 233.5px,#ff6800 235.5px,#ff7f00 237.5px,#ff9c00 239.5px,#ffa809 240.5px,#ffca68 244.5px,#ffd890 246.5px,#ffdea1 247.5px,#ffe3b1 248.5px,#ffedcb 250.5px,#fff3dd 252.5px,#fff8ea 254.5px)"></i>
<i style="background:linear-gradient(90deg,#ffffff 0.5px,#fffffe 124.5px,#fffdf9 159.5px,#fffbf5 168.5px,#fff9ef 175.5px,#fff5e3 183.5px,#ffefd1 190.5px,#ffe6b8 197.5px,#ffdb98 204.5px,#ffd07a 209.5px,#ffc55a 213.5px,#ffb939 216.5px,#ffa500 220.5px,#ff7b00 224.5px,#ff6100 227.5px,#ff5600 229.5px,#ff5300 231.5px,#ff5800 233.5px,#ff6700 235.5px,#ff7f00 237.5px,#ff9c00 239.5px,#ffa90a 240.5px,#ffca69 244.5px,#ffd891 246.5px,#ffdea2 247.5px,#ffe4b2 248.5px,#ffedcb 250.5px,#fff3de 252.5px,#fff8eb 254.5px)"></i>
<i style="background:linear-gradient(90deg,#ffffff 0.5px,#fffffe 124.5px,#fffdf8 159.5px,#fffbf4 168.5px,#fff9ee 175.5px,#fff5e2 183.5px,#ffeed0 190.5px,#ffe6b7 197.5px,#ffda97 204.5px,#ffd079 209.5px,#ffc458 213.5px,#ffb836 216.5px,#ffa300 220.5px,#ff7900 224.5px,#ff5f00 227.5px,#ff5500 229.5px,#ff5100 231.5px,#ff5700 233.5px,#ff6700 235.5px,#ff7f00 237.5px,#ff9d00 239.5px,#ffa90b 240.5px,#ffca6a 244.5px,#ffd992 246.5px,#ffdfa3 247.5px,#ffe4b3 248.5px,#ffedcc 250.5px,#fff4de 252.5px,#fff8eb 254.5px)"></i>
<i style="background:linear-gradient(90deg,#ffffff 0.5px,#fffffe 124.5px,#fffdf8 159.5px,#fffbf4 168.5px,#fff9ee 175.5px,#fff4e1 183.5px,#ffeecf 190.5px,#ffe5b6 197.5px,#ffda95 204.5px,#ffd17e 208.5px,#ffc760 212.5px,#ffbc41 215.5px,#ffb327 217.5px,#ffa80a 219.5px,#ffa100 220.5px,#ff7700 224.5px,#ff5e00 227.5px,#ff5300 229.5px,#ff5000 231.5px,#ff5600 233.5px,#ff6700 235.5px,#ff7f00 237.5px,#ff9d00 239.5px,#ffa90c 240.5px,#ffbb3d 242.5px,#ffcb6b 244.5px,#ffd993 246.5px,#ffdfa4 247.5px,#ffe4b4 248.5px,#ffedcd 250.5px,#fff4df 252.5px,#fff8eb 254.5px)"></i>
<i style="background:linear-gradient(90deg,#ffffff 0.5px,#fffffe 123.5px,#fffdf8 158.5px,#fffbf4 167.5px,#fff9ee 174.5px,#fff5e2 182.5px,#ffefd1 189.5px,#ffe5b4 197.5px,#ffd994 204.5px,#ffd17d 208.5px,#ffc65e 212.5px,#ffbb3e 215.5px,#ffb224 217.5px,#ffa707 219.5px,#ff9f00 220.5px,#ff7500 224.5px,#ff5c00 227.5px,#ff5200 229.5px,#ff4f00 231.5px,#ff5600 233.5px,#ff6700 235.5px,#ff7f00 237.5px,#ff9e00 239.5px,#ffaa0d 240.5px,#ffbb3e 242.5px,#ffcb6c 244.5px,#ffd994 246.5px,#ffdfa5 247.5px,#ffe5b5 248.5px,#ffeece 250.5px,#fff4e0 252.5px,#fff8ec 254.5px)"></i>
<i style="background:linear-gradient(90deg,#ffffff 0.5px,#fffffe 123.5px,#fffdf8 158.5px,#fffbf4 167.5px,#fff9ee 174.5px,#fff4e1 182.5px,#ffeed0 189.5px,#ffe4b3 197.5px,#ffd993 204.5px,#ffd17b 208.5px,#ffc55c 212.5px,#ffba3c 215.5px,#ffb122 217.5px,#ffa604 219.5px,#ff9d00 220.5px,#ff7300 224.5px,#ff6100 226.5px,#ff5400 228.5px,#ff5000 229.5px,#ff4e00 231.5px,#ff5500 233.5px,#ff6600 235.5px,#ff8000 237.5px,#ff9e00 239.5px,#ffaa0e 240.5px,#ffbb3f 242.5px,#ffcc6d 244.5px,#ffda95 246.5px,#ffe0a6 247.5px,#ffe5b5 248.5px,#ffeece 250.5px,#fff4e0 252.5px,#fff8ec 254.5px)"></i>
<i style="background:linear-gradient(90deg,#ffffff 0.5px,#fffefe 123.5px,#fffcf8 158.5px,#fffbf3 167.5px,#fff9ed 174.5px,#fff4e0 182.5px,#ffeecf 189.5px,#ffe5b6 196.5px,#ffda97 203.5px,#ffd280 207.5px,#ffc863 211.5px,#ffc151 213.5px,#ffb93a 215.5px,#ffb01f 217.5px,#ffa501 219.5px,#ff9b00 220.5px,#ff7100 224.5px,#ff5f00 226.5px,#ff5200 228.5px,#ff4e00 229.5px,#ff4c00 231.5px,#ff5400 233.5px,#ff6600 235.5px,#ff8000 237.5px,#ff9e00 239.5px,#ffaa0f 240.5px,#ffbc40 242.5px,#ffcc6e 244.5px,#ffda96 246.5px,#ffe0a7 247.5px,#ffe5b6 248.5px,#ffeecf 250.5px,#fff4e0 252.5px,#fff8ec 254.5px)"></i>
<i style="background:linear-gradient(90deg,#ffffff 0.5px,#fffffe 121.5px,#fffcf8 157.5px,#fffbf4 166.5px,#fff9ee 173.5px,#fff5e2 181.5px,#ffefd1 188.5px,#ffe5b5 196.5px,#ffda95 203.5px,#ffd079 208.5px,#ffc459 212.5px,#ffb938 215.5px,#ffa400 219.5px,#ff6f00 224.5px,#ff5d00 226.5px,#ff5000 228.5px,#ff4b00 230.5px,#ff4e00 232.5px,#ff5b00 234.5px,#ff7200 236.5px,#ff9f00 239.5px,#ffaa0f 240.5px,#ffbc41 242.5px,#ffcc6f 244.5px,#ffda97 246.5px,#ffe0a8 247.5px,#ffe6b7 248.5px,#ffeecf 250.5px,#fff4e1 252.5px,#fff9ed 254.5px)"></i>
<i style="background:linear-gradient(90deg,#ffffff 0.5px,#fffffe 121.5px,#fffcf8 157.5px,#fffbf3 166.5px,#fff9ed 173.5px,#fff4e1 181.5px,#ffeed0 188.5px,#ffe4b4 196.5px,#ffd994 203.5px,#ffcf77 208.5px,#ffc457 212.5px,#ffb835 215.5px,#ffa90b 218.5px,#ffa200 219.5px,#ff6d00 224.5px,#ff5b00 226.5px,#ff4f00 228.5px,#ff4900 230.5px,#ff4c00 232.5px,#ff5a00 234.5px,#ff7100 236.5px,#ff9f00 239.5px,#ffab10 240.5px,#ffbc42 242.5px,#ffcd70 244.5px,#ffdb98 246.5px,#ffe1a9 247.5px,#ffe6b8 248.5px,#ffeed0 250.5px,#fff5e1 252.5px,#fff9ed 254.5px)"></i>
<i style="background:linear-gradient(90deg,#ffffff 0.5px,#fffffe 121.5px,#fffcf7 157.5px,#fffbf3 166.5px,#fff8ed 173.5px,#fff4e0 181.5px,#ffeecf 188.5px,#ffe4b3 196.5px,#ffd993 203.5px,#ffd17c 207.5px,#ffc65e 211.5px,#ffbb3f 214.5px,#ffb226 216.5px,#ffa808 218.5px,#ffa000 219.5px,#ff7400 223.5px,#ff5900 226.5px,#ff4d00 228.5px,#ff4700 230.5px,#ff4b00 232.5px,#ff5a00 234.5px,#ff7100 236.5px,#ff9f00 239.5px,#ffab11 240.5px,#ffbd43 242.5px,#ffcd71 244.5px,#ffdb99 246.5px,#ffe1aa 247.5px,#ffe6b9 248.5px,#ffefd1 250.5px,#fff5e2 252.5px,#fff9ed 254.5px)"></i>
<i style="background:linear-gradient(90deg,#ffffff 0.5px,#fffffe 120.5px,#fffcf7 156.5px,#fffbf3 165.5px,#fff9ed 172.5px,#fff4e1 180.5px,#ffeece 188.5px,#ffe4b1 196.5px,#ffd892 203.5px,#ffd07b 207.5px,#ffc65d 211.5px,#ffbf49 213.5px,#ffb631 215.5px,#ffa705 218.5px,#ff9e00 219.5px,#ff7200 223.5px,#ff5700 226.5px,#ff4b00 228.5px,#ff4600 230.5px,#ff4a00 232.5px,#ff5900 234.5px,#ff7100 236.5px,#ff9f00 239.5px,#ffab11 240.5px,#ffbd44 242.5px,#ffcd72 244.5px,#ffdb9a 246.5px,#ffe1aa 247.5px,#ffe6b9 248.5px,#ffefd1 250.5px,#fff5e2 252.5px,#fff9ee 254.5px)"></i>
<i style="background:linear-gradient(90deg,#ffffff 0.5px,#fffffe 120.5px,#fffcf7 156.5px,#fffbf3 165.5px,#fff8ec 172.5px,#fff4e0 180.5px,#ffedcc 188.5px,#ffe3b0 196.5px,#ffd891 203.5px,#ffd07a 207.5px,#ffc55b 211.5px,#ffba3b 214.5px,#ffb121 216.5px,#ffa602 218.5px,#ff9c00 219.5px,#ff7000 223.5px,#ff5400 226.5px,#ff4900 228.5px,#ff4400 230.5px,#ff4900 232.5px,#ff5800 234.5px,#ff7100 236.5px,#ffa000 239.5px,#ffab12 240.5px,#ffbd45 242.5px,#ffce73 244.5px,#ffdc9a 246.5px,#ffe1ab 247.5px,#ffe7ba 248.5px,#ffefd2 250.5px,#fff5e3 252.5px,#fff9ee 254.5px)"></i>
<i style="background:linear-gradient(90deg,#ffffff 0.5px,#fffefe 120.5px,#fffcf7 156.5px,#fffbf2 165.5px,#fff8ec 172.5px,#fff4df 180.5px,#ffedcb 188.5px,#ffe3af 196.5px,#ffd890 203.5px,#ffd078 207.5px,#ffc459 211.5px,#ffb939 214.5px,#ffb01e 216.5px,#ffa400 218.5px,#ff6d00 223.5px,#ff5a00 225.5px,#ff4b00 227.5px,#ff4600 228.5px,#ff4200 230.5px,#ff4700 232.5px,#ff5700 234.5px,#ff7000 236.5px,#ffa000 239.5px,#ffab12 240.5px,#ffbd45 242.5px,#ffce74 244.5px,#ffdc9b 246.5px,#ffe2ac 247.5px,#ffe7bb 248.5px,#ffefd2 250.5px,#fff5e3 252.5px,#fff9ee 254.5px)"></i>
<i style="background:linear-gradient(90deg,#ffffff 0.5px,#fffefd 120.5px,#fffcf7 155.5px,#fffbf3 164.5px,#fff8eb 172.5px,#fff4df 180.5px,#ffecca 188.5px,#ffe2ae 196.5px,#ffd78e 203.5px,#ffcf77 207.5px,#ffc457 211.5px,#ffb837 214.5px,#ffa90c 217.5px,#ffa200 218.5px,#ff6b00 223.5px,#ff5800 225.5px,#ff4900 227.5px,#ff4400 228.5px,#ff4000 230.5px,#ff4600 232.5px,#ff5600 234.5px,#ff7000 236.5px,#ffa000 239.5px,#ffac13 240.5px,#ffbe46 242.5px,#ffce75 244.5px,#ffdc9c 246.5px,#ffe2ad 247.5px,#ffe7bb 248.5px,#ffefd3 250.5px,#fff5e3 252.5px,#fff9ef 254.5px)"></i>
<i style="background:linear-gradient(90deg,#ffffff 0.5px,#fffefe 119.5px,#fffcf7 154.5px,#fffbf3 163.5px,#fff8ec 171.5px,#fff4e0 179.5px,#ffedcc 187.5px,#ffe3b1 195.5px,#ffd992 202.5px,#ffd17c 206.5px,#ffc65f 210.5px,#ffbc40 213.5px,#ffb327 215.5px,#ffa809 217.5px,#ffa000 218.5px,#ff6900 223.5px,#ff5500 225.5px,#ff4700 227.5px,#ff4200 228.5px,#ff3e00 230.5px,#ff4500 232.5px,#ff5600 234.5px,#ff6f00 236.5px,#ffa000 239.5px,#ffac13 240.5px,#ffbe47 242.5px,#ffce75 244.5px,#ffdc9d 246.5px,#ffe2ad 247.5px,#ffe7bc 248.5px,#fff0d3 250.5px,#fff5e4 252.5px,#fff9ef 254.5px)"></i>
<i style="background:linear-gradient(90deg,#ffffff 0.5px,#fffefd 119.5px,#fffcf7 154.5px,#fffbf2 163.5px,#fff8eb 171.5px,#fff4df 179.5px,#ffedcb 187.5px,#ffe3b0 195.5px,#ffd891 202.5px,#ffd07b 206.5px,#ffc65d 210.5px,#ffbf4a 212.5px,#ffb732 214.5px,#ffa706 217.5px,#ff9e00 218.5px,#ff6600 223.5px,#ff5300 225.5px,#ff4500 227.5px,#ff4000 228.5px,#ff3d00 230.5px,#ff4300 232.5px,#ff5500 234.5px,#ff6f00 236.5px,#ffa000 239.5px,#ffac14 240.5px,#ffbe47 242.5px,#ffcf76 244.5px,#ffdd9e 246.5px,#ffe2ae 247.5px,#ffe8bd 248.5px,#fff0d4 250.5px,#fff6e4 252.5px,#fff9ef 254.5px)"></i>
<i style="background:linear-gradient(90deg,#ffffff 0.5px,#fffefd 119.5px,#fffcf6 154.5px,#fffaf2 163.5px,#fff8eb 171.5px,#fff3de 179.5px,#ffecca 187.5px,#ffe3af 195.5px,#ffd890 202.5px,#ffd07a 206.5px,#ffc55c 210.5px,#ffbe48 212.5px,#ffb62f 214.5px,#ffa603 217.5px,#ff9c00 218.5px,#ff6400 223.5px,#ff5000 225.5px,#ff4200 227.5px,#ff3e00 228.5px,#ff3b00 230.5px,#ff4200 232.5px,#ff5400 234.5px,#ff6f00 236.5px,#ffa000 239.5px,#ffac14 240.5px,#ffbe48 242.5px,#ffcf77 244.5px,#ffdd9e 246.5px,#ffe3af 247.5px,#ffe8bd 248.5px,#fff0d4 250.5px,#fff6e5 252.5px,#fff9ef 254.5px)"></i>
<i style="background:linear-gradient(90deg,#ffffff 0.5px,#fffefd 118.5px,#fffcf6 153.5px,#fffaf2 162.5px,#fff8eb 170.5px,#fff4df 178.5px,#ffedcc 186.5px,#ffe4b2 194.5px,#ffd78f 202.5px,#ffd079 206.5px,#ffc55a 210.5px,#ffbe46 212.5px,#ffb52d 214.5px,#ffa500 217.5px,#ff6100 223.5px,#ff4e00 225.5px,#ff4000 227.5px,#ff3c00 228.5px,#ff3900 230.5px,#ff4000 232.5px,#ff5300 234.5px,#ff6e00 236.5px,#ffa100 239.5px,#ffac14 240.5px,#ffbf49 242.5px,#ffcf78 244.5px,#ffdd9f 246.5px,#ffe3b0 247.5px,#ffe8be 248.5px,#fff0d5 250.5px,#fff6e5 252.5px,#fffaf0 254.5px)"></i>
<i style="background:linear-gradient(90deg,#ffffff 0.5px,#fffefd 118.5px,#fffcf6 153.5px,#fffaf2 162.5px,#fff8eb 170.5px,#fff3de 178.5px,#ffedcb 186.5px,#ffe3b1 194.5px,#ffd78e 202.5px,#ffcf77 206.5px,#ffc458 210.5px,#ffb938 213.5px,#ffa300 217.5px,#ff6900 222.5px,#ff4b00 225.5px,#ff3e00 227.5px,#ff3900 228.5px,#ff3700 230.5px,#ff3f00 232.5px,#ff5200 234.5px,#ff6e00 236.5px,#ffa100 239.5px,#ffac15 240.5px,#ffbf49 242.5px,#ffd078 244.5px,#ffdda0 246.5px,#ffe3b0 247.5px,#ffe8bf 248.5px,#fff0d5 250.5px,#fff6e5 252.5px,#fffaf0 254.5px)"></i>
<i style="background:linear-gradient(90deg,#ffffff 0.5px,#fffefd 118.5px,#fffcf6 153.5px,#fffaf1 162.5px,#fff8ea 170.5px,#fff3de 178.5px,#ffecca 186.5px,#ffe3af 194.5px,#ffd78d 202.5px,#ffcf76 206.5px,#ffc457 210.5px,#ffb835 213.5px,#ffa90a 216.5px,#ffa100 217.5px,#ff6700 222.5px,#ff4900 225.5px,#ff3b00 227.5px,#ff3700 228.5px,#ff3500 230.5px,#ff3e00 232.5px,#ff5100 234.5px,#ff6d00 236.5px,#ffa100 239.5px,#ffac15 240.5px,#ffbf4a 242.5px,#ffd079 244.5px,#ffdea1 246.5px,#ffe3b1 247.5px,#ffe9bf 248.5px,#fff0d6 250.5px,#fff6e6 252.5px,#fffaf0 254.5px)"></i>
<i style="background:linear-gradient(90deg,#ffffff 0.5px,#fffefd 118.5px,#fffcf5 153.5px,#fffaf1 162.5px,#fff7e9 170.5px,#fff3dd 178.5px,#ffecc9 186.5px,#ffe3ae 194.5px,#ffd68c 202.5px,#ffce75 206.5px,#ffc966 208.5px,#ffc355 210.5px,#ffb733 213.5px,#ffa807 216.5px,#ff9f00 217.5px,#ff6400 222.5px,#ff4f00 224.5px,#ff3f00 226.5px,#ff3900 227.5px,#ff3300 229.5px,#ff3600 231.5px,#ff4500 233.5px,#ff5000 234.5px,#ff6d00 236.5px,#ffa100 239.5px,#ffad16 240.5px,#ffbf4b 242.5px,#ffd07a 244.5px,#ffdea1 246.5px,#ffe4b2 247.5px,#ffe9c0 248.5px,#fff1d6 250.5px,#fff6e6 252.5px,#fffaf0 254.5px)"></i>
<i style="background:linear-gradient(90deg,#ffffff 0.5px,#fffefd 117.5px,#fffcf6 152.5px,#fffaf1 161.5px,#fff8ea 169.5px,#fff3de 177.5px,#ffedcb 185.5px,#ffe4b1 193.5px,#ffd890 201.5px,#ffd07a 205.5px,#ffc65c 209.5px,#ffbf49 211.5px,#ffb631 213.5px,#ffa704 216.5px,#ff9d00 217.5px,#ff6200 222.5px,#ff4d00 224.5px,#ff3c00 226.5px,#ff3700 227.5px,#ff3100 229.5px,#ff3500 231.5px,#ff4400 233.5px,#ff4f00 234.5px,#ff6d00 236.5px,#ffa100 239.5px,#ffad16 240.5px,#ffc04b 242.5px,#ffd07b 244.5px,#ffdea2 246.5px,#ffe4b2 247.5px,#ffe9c1 248.5px,#fff1d7 250.5px,#fff6e6 252.5px,#fffaf1 254.5px)"></i>
<i style="background:linear-gradient(90deg,#ffffff 0.5px,#fffefd 116.5px,#fffcf5 152.5px,#fffaf1 161.5px,#fff7e9 169.5px,#fff3dd 177.5px,#ffecca 185.5px,#ffe3b0 193.5px,#ffd78f 201.5px,#ffd079 205.5px,#ffc55b 209.5px,#ffbe47 211.5px,#ffb52f 213.5px,#ffa501 216.5px,#ff9b00 217.5px,#ff5f00 222.5px,#ff4a00 224.5px,#ff3a00 226.5px,#ff3400 227.5px,#ff2f00 229.5px,#ff3300 231.5px,#ff4300 233.5px,#ff4f00 234.5px,#ff6c00 236.5px,#ffa100 239.5px,#ffad17 240.5px,#ffb732 241.5px,#ffc965 243.5px,#ffd17c 244.5px,#ffdea3 246.5px,#ffe4b3 247.5px,#ffe9c1 248.5px,#fff1d7 250.5px,#fff6e7 252.5px,#fffaf1 254.5px)"></i>
<i style="background:linear-gradient(90deg,#ffffff 0.5px,#fffefd 116.5px,#fffbf5 152.5px,#fffaf0 161.5px,#fff7e9 169.5px,#fff3dc 177.5px,#ffecc9 185.5px,#ffe3af 193.5px,#ffd78e 201.5px,#ffcf78 205.5px,#ffc459 209.5px,#ffb939 212.5px,#ffa400 216.5px,#ff5d00 222.5px,#ff3f00 225.5px,#ff3200 227.5px,#ff2e00 228.5px,#ff2e00 230.5px,#ff3800 232.5px,#ff4e00 234.5px,#ff6c00 236.5px,#ffa200 239.5px,#ffad17 240.5px,#ffb733 241.5px,#ffc966 243.5px,#ffd17c 244.5px,#ffdfa4 246.5px,#ffe4b4 247.5px,#ffe9c2 248.5px,#fff1d8 250.5px,#fff7e7 252.5px,#fffaf1 254.5px)"></i>
<i style="background:linear-gradient(90deg,#ffffff 0.5px,#fffefd 115.5px,#fffbf5 151.5px,#fffaf0 160.5px,#fff7e9 168.5px,#fff2db 177.5px,#ffecc8 185.5px,#ffe2ae 193.5px,#ffd78c 201.5px,#ffcf76 205.5px,#ffc458 209.5px,#ffb837 212.5px,#ffa90c 215.5px,#ffa200 216.5px,#ff5a00 222.5px,#ff3c00 225.5px,#ff3000 227.5px,#ff2c00 228.5px,#ff2c00 230.5px,#ff3700 232.5px,#ff4d00 234.5px,#ff6c00 236.5px,#ffa200 239.5px,#ffad18 240.5px,#ffc04e 242.5px,#ffd17d 244.5px,#ffdfa4 246.5px,#ffe5b4 247.5px,#ffeac2 248.5px,#fff1d8 250.5px,#fff7e8 252.5px,#fffaf1 254.5px)"></i>
<i style="background:linear-gradient(90deg,#ffffff 0.5px,#fffefd 115.5px,#fffbf5 150.5px,#fffaf0 160.5px,#fff7e9 168.5px,#fff2db 177.5px,#ffebc7 185.5px,#ffe2ad 193.5px,#ffd68b 201.5px,#ffce75 205.5px,#ffc967 207.5px,#ffc356 209.5px,#ffbc41 211.5px,#ffb328 213.5px,#ffa809 215.5px,#ffa000 216.5px,#ff5800 222.5px,#ff3a00 225.5px,#ff2e00 227.5px,#ff2a00 228.5px,#ff2a00 230.5px,#ff2e00 231.5px,#ff3600 232.5px,#ff4c00 234.5px,#ff6c00 236.5px,#ffa200 239.5px,#ffae18 240.5px,#ffc14e 242.5px,#ffd17e 244.5px,#ffdfa5 246.5px,#ffe5b5 247.5px,#ffeac3 248.5px,#fff2d9 250.5px,#fff7e8 252.5px,#fffaf2 254.5px)"></i>
<i style="background:linear-gradient(90deg,#ffffff 0.5px,#fffefd 115.5px,#fffbf5 150.5px,#fff9ef 160.5px,#fff7e8 168.5px,#fff2da 177.5px,#ffebc6 185.5px,#ffe2ac 193.5px,#ffd68a 201.5px,#ffce74 205.5px,#ffc966 207.5px,#ffc354 209.5px,#ffb733 212.5px,#ffa706 215.5px,#ff9e00 216.5px,#ff5500 222.5px,#ff3800 225.5px,#ff2b00 227.5px,#ff2800 228.5px,#ff2800 230.5px,#ff2d00 231.5px,#ff3500 232.5px,#ff4c00 234.5px,#ff6b00 236.5px,#ffa200 239.5px,#ffae19 240.5px,#ffb835 241.5px,#ffca68 243.5px,#ffd994 245.5px,#ffe0a6 246.5px,#ffeac4 248.5px,#fff2da 250.5px,#fff7e8 252.5px,#fffaf2 254.5px)"></i>
<i style="background:linear-gradient(90deg,#ffffff 0.5px,#fffefd 115.5px,#fffbf4 150.5px,#fff9ef 160.5px,#fff7e7 168.5px,#fff2d9 177.5px,#ffebc5 185.5px,#ffe1ab 193.5px,#ffd589 201.5px,#ffce73 205.5px,#ffc55c 208.5px,#ffbf49 210.5px,#ffb631 212.5px,#ffa604 215.5px,#ff9c00 216.5px,#ff5300 222.5px,#ff3500 225.5px,#ff2900 227.5px,#ff2600 228.5px,#ff2700 230.5px,#ff2c00 231.5px,#ff3300 232.5px,#ff4b00 234.5px,#ff6b00 236.5px,#ffa300 239.5px,#ffca69 243.5px,#ffd994 245.5px,#ffe0a7 246.5px,#ffeac5 248.5px,#fff2da 250.5px,#fff7e9 252.5px,#fffaf2 254.5px)"></i>
<i style="background:linear-gradient(90deg,#ffffff 0.5px,#fffefd 114.5px,#fffbf4 149.5px,#fff9ef 159.5px,#fff7e8 167.5px,#fff2da 176.5px,#ffebc7 184.5px,#ffe2ae 192.5px,#ffd78d 200.5px,#ffcf78 204.5px,#ffc55b 208.5px,#ffbe47 210.5px,#ffb52e 212.5px,#ffa501 215.5px,#ff9a00 216.5px,#ff5000 222.5px,#ff3300 225.5px,#ff2700 227.5px,#ff2400 228.5px,#ff2500 230.5px,#ff2a00 231.5px,#ff3200 232.5px,#ff4b00 234.5px,#ff6b00 236.5px,#ffa300 239.5px,#ffc251 242.5px,#ffca6a 243.5px,#ffda95 245.5px,#ffe0a8 246.5px,#ffebc5 248.5px,#fff2db 250.5px,#fff7e9 252.5px,#fffbf2 254.5px)"></i>
<i style="background:linear-gradient(90deg,#ffffff 0.5px,#fffefd 114.5px,#fffbf4 149.5px,#fff9ef 159.5px,#fff7e7 167.5px,#fff2d9 176.5px,#ffebc6 184.5px,#ffe2ad 192.5px,#ffd68c 200.5px,#ffcf77 204.5px,#ffc459 208.5px,#ffb939 211.5px,#ffb01e 213.5px,#ffa400 215.5px,#ff4e00 222.5px,#ff3900 224.5px,#ff2a00 226.5px,#ff2500 227.5px,#ff2200 229.5px,#ff2400 230.5px,#ff2900 231.5px,#ff3100 232.5px,#ff4a00 234.5px,#ff6b00 236.5px,#ffa300 239.5px,#ffc252 242.5px,#ffcb6b 243.5px,#ffda96 245.5px,#ffe0a8 246.5px,#ffebc6 248.5px,#fff2db 250.5px,#fff7e9 252.5px,#fffbf3 254.5px)"></i>
<i style="background:linear-gradient(90deg,#ffffff 0.5px,#fffefd 114.5px,#fffbf4 149.5px,#fff9ee 159.5px,#fff6e6 167.5px,#fff1d8 176.5px,#ffebc5 184.5px,#ffe2ac 192.5px,#ffd68b 200.5px,#ffcf76 204.5px,#ffc458 208.5px,#ffb937 211.5px,#ffa90c 214.5px,#ffa200 215.5px,#ff5800 221.5px,#ff3700 224.5px,#ff2800 226.5px,#ff2300 227.5px,#ff2000 229.5px,#ff2200 230.5px,#ff2800 231.5px,#ff3c00 233.5px,#ff5900 235.5px,#ffa400 239.5px,#ffb938 241.5px,#ffcb6c 243.5px,#ffda97 245.5px,#ffe1a9 246.5px,#ffebc7 248.5px,#fff3dc 250.5px,#fff8ea 252.5px,#fffbf3 254.5px)"></i>
<i style="background:linear-gradient(90deg,#ffffff 0.5px,#fffefd 113.5px,#fffbf4 148.5px,#fff9ee 158.5px,#fff7e7 166.5px,#fff2d9 175.5px,#ffebc7 183.5px,#ffe1ab 192.5px,#ffd68a 200.5px,#ffce75 204.5px,#ffc967 206.5px,#ffc356 208.5px,#ffb835 211.5px,#ffa80a 214.5px,#ffa000 215.5px,#ff5500 221.5px,#ff3500 224.5px,#ff2600 226.5px,#ff2100 227.5px,#ff1f00 229.5px,#ff2100 230.5px,#ff2700 231.5px,#ff3b00 233.5px,#ff5900 235.5px,#ffa400 239.5px,#ffb939 241.5px,#ffcb6d 243.5px,#ffdb98 245.5px,#ffe1aa 246.5px,#ffebc7 248.5px,#fff3dc 250.5px,#fff8ea 252.5px,#fffbf3 254.5px)"></i>
<i style="background:linear-gradient(90deg,#ffffff 0.5px,#fffefd 113.5px,#fffbf3 148.5px,#fff9ee 158.5px,#fff6e6 166.5px,#fff1d8 175.5px,#ffebc6 183.5px,#ffe1aa 192.5px,#ffd589 200.5px,#ffce74 204.5px,#ffc966 206.5px,#ffc355 208.5px,#ffb733 211.5px,#ffa807 214.5px,#ff9f00 215.5px,#ff5300 221.5px,#ff3300 224.5px,#ff2400 226.5px,#ff2000 227.5px,#ff1d00 229.5px,#ff2000 230.5px,#ff2600 231.5px,#ff3b00 233.5px,#ff5900 235.5px,#ffa500 239.5px,#ffb93a 241.5px,#ffcc6e 243.5px,#ffdb99 245.5px,#ffe1ab 246.5px,#ffecc8 248.5px,#fff3dd 250.5px,#fff8eb 252.5px,#fffbf4 254.5px)"></i>
<i style="background:linear-gradient(90deg,#ffffff 0.5px,#fffefd 113.5px,#fffbf3 148.5px,#fff9ed 158.5px,#fff6e6 166.5px,#fff1d8 175.5px,#ffebc5 183.5px,#ffe1a9 192.5px,#ffd588 200.5px,#ffcd72 204.5px,#ffc864 206.5px,#ffc253 208.5px,#ffb632 211.5px,#ffa705 214.5px,#ff9d00 215.5px,#ff5100 221.5px,#ff3100 224.5px,#ff2200 226.5px,#ff1e00 227.5px,#ff1c00 229.5px,#ff1f00 230.5px,#ff2500 231.5px,#ff3a00 233.5px,#ff5900 235.5px,#ffa501 239.5px,#ffba3b 241.5px,#ffcc6f 243.5px,#ffdb9a 245.5px,#ffe2ac 246.5px,#ffecc9 248.5px,#fff3dd 250.5px,#fff8eb 252.5px,#fffbf4 254.5px)"></i>
<i style="background:linear-gradient(90deg,#ffffff 0.5px,#fffefd 113.5px,#fffbf3 148.5px,#fff9ed 158.5px,#fff6e5 166.5px,#fff1d7 175.5px,#ffeac4 183.5px,#ffe0a8 192.5px,#ffd587 200.5px,#ffcd71 204.5px,#ffc55b 207.5px,#ffbe48 209.5px,#ffb630 211.5px,#ffa602 214.5px,#ff9b00 215.5px,#ff4f00 221.5px,#ff2f00 224.5px,#ff2000 226.5px,#ff1c00 227.5px,#ff1a00 229.5px,#ff1e00 230.5px,#ff2400 231.5px,#ff3a00 233.5px,#ff5900 235.5px,#ffa602 239.5px,#ffba3c 241.5px,#ffcd70 243.5px,#ffdc9b 245.5px,#ffe2ad 246.5px,#ffecca 248.5px,#fff3de 250.5px,#fff8ec 252.5px,#fffbf4 254.5px)"></i>
<i style="background:linear-gradient(90deg,#ffffff 0.5px,#fffefd 112.5px,#fffbf3 146.5px,#fff9ed 157.5px,#fff6e5 165.5px,#fff1d8 174.5px,#ffeac3 183.5px,#ffe0a7 192.5px,#ffd486 200.5px,#ffcd70 204.5px,#ffc862 206.5px,#ffc150 208.5px,#ffb52e 211.5px,#ffa500 214.5px,#ff8d00 216.5px,#ff4d00 221.5px,#ff2d00 224.5px,#ff1f00 226.5px,#ff1b00 227.5px,#ff1900 229.5px,#ff1d00 230.5px,#ff2300 231.5px,#ff3900 233.5px,#ff5900 235.5px,#ff9300 238.5px,#ffa602 239.5px,#ffbb3d 241.5px,#ffcd71 243.5px,#ffdc9c 245.5px,#ffe2ae 246.5px,#ffeccb 248.5px,#fff4df 250.5px,#fff8ec 252.5px,#fffbf4 254.5px)"></i>
<i style="background:linear-gradient(90deg,#ffffff 0.5px,#fffefd 112.5px,#fffbf3 146.5px,#fff8ec 157.5px,#fff6e5 165.5px,#fff1d7 174.5px,#ffe9c2 183.5px,#ffdfa6 192.5px,#ffd485 200.5px,#ffcc6f 204.5px,#ffc761 206.5px,#ffc14f 208.5px,#ffb42c 211.5px,#ffa300 214.5px,#ff4b00 221.5px,#ff2b00 224.5px,#ff1d00 226.5px,#ff1900 227.5px,#ff1800 229.5px,#ff1c00 230.5px,#ff2200 231.5px,#ff3900 233.5px,#ff5900 235.5px,#ff9300 238.5px,#ffa603 239.5px,#ffbb3e 241.5px,#ffcd72 243.5px,#ffdd9d 245.5px,#ffe3af 246.5px,#ffedcb 248.5px,#fff4df 250.5px,#fff8ec 252.5px,#fffbf5 254.5px)"></i>
<i style="background:linear-gradient(90deg,#ffffff 0.5px,#fffefd 112.5px,#fffbf2 146.5px,#fff8ec 157.5px,#fff5e4 165.5px,#fff1d6 174.5px,#ffeac4 182.5px,#ffe0a8 191.5px,#ffd589 199.5px,#ffce74 203.5px,#ffc457 207.5px,#ffb837 210.5px,#ffa90c 213.5px,#ffa200 214.5px,#ff4900 221.5px,#ff2900 224.5px,#ff1c00 226.5px,#ff1800 227.5px,#ff1700 229.5px,#ff1b00 230.5px,#ff2200 231.5px,#ff3900 233.5px,#ff5900 235.5px,#ff9400 238.5px,#ffa705 239.5px,#ffbb40 241.5px,#ffce74 243.5px,#ffdd9e 245.5px,#ffe3b0 246.5px,#ffedcc 248.5px,#fff4e0 250.5px,#fff9ed 252.5px,#fffbf5 254.5px)"></i>
<i style="background:linear-gradient(90deg,#ffffff 0.5px,#fffefd 111.5px,#fffbf2 145.5px,#fff8ec 156.5px,#fff6e4 164.5px,#fff1d7 173.5px,#ffeac3 182.5px,#ffe0a7 191.5px,#ffd588 199.5px,#ffce73 203.5px,#ffc966 205.5px,#ffc356 207.5px,#ffb835 210.5px,#ffa80a 213.5px,#ffa000 214.5px,#ff4700 221.5px,#ff2700 224.5px,#ff1a00 226.5px,#ff1600 227.5px,#ff1600 229.5px,#ff1a00 230.5px,#ff2100 231.5px,#ff3900 233.5px,#ff5a00 235.5px,#ff9500 238.5px,#ffa706 239.5px,#ffbc41 241.5px,#ffce75 243.5px,#ffdda0 245.5px,#ffe4b1 246.5px,#ffedcd 248.5px,#fff4e0 250.5px,#fff9ed 252.5px,#fffcf5 254.5px)"></i>
<i style="background:linear-gradient(90deg,#ffffff 0.5px,#fffefd 111.5px,#fffaf2 145.5px,#fff8eb 156.5px,#fff5e4 164.5px,#fff1d6 173.5px,#ffe9c2 182.5px,#ffe0a6 191.5px,#ffd587 199.5px,#ffcd72 203.5px,#ffc965 205.5px,#ffc354 207.5px,#ffbb40 209.5px,#ffb326 211.5px,#ffa808 213.5px,#ff9f00 214.5px,#ff4500 221.5px,#ff2600 224.5px,#ff1900 226.5px,#ff1500 227.5px,#ff1500 229.5px,#ff1900 230.5px,#ff2100 231.5px,#ff3900 233.5px,#ff5a00 235.5px,#ff9500 238.5px,#ffa707 239.5px,#ffbc42 241.5px,#ffcf76 243.5px,#ffdea1 245.5px,#ffe4b2 246.5px,#ffeece 248.5px,#fff4e1 250.5px,#fff9ee 252.5px,#fffcf5 254.5px)"></i>
<i style="background:linear-gradient(90deg,#ffffff 0.5px,#fffefd 111.5px,#fffaf2 145.5px,#fff8eb 156.5px,#fff5e3 164.5px,#fff0d5 173.5px,#ffe9c1 182.5px,#ffdfa5 191.5px,#ffd486 199.5px,#ffcd71 203.5px,#ffc864 205.5px,#ffc253 207.5px,#ffb732 210.5px,#ffa706 213.5px,#ff9d00 214.5px,#ff4400 221.5px,#ff2d00 223.5px,#ff1d00 225.5px,#ff1700 226.5px,#ff1300 228.5px,#ff1400 229.5px,#ff1800 230.5px,#ff2000 231.5px,#ff3800 233.5px,#ff5a00 235.5px,#ff9600 238.5px,#ffa808 239.5px,#ffbd44 241.5px,#ffcf78 243.5px,#ffd78e 244.5px,#ffe4b3 246.5px,#ffeecf 248.5px,#fff5e2 250.5px,#fff9ee 252.5px,#fffcf6 254.5px)"></i>
<i style="background:linear-gradient(90deg,#ffffff 0.5px,#fffefd 110.5px,#fffaf2 144.5px,#fff8eb 155.5px,#fff5e2 164.5px,#fff0d4 173.5px,#ffe9c0 182.5px,#ffdfa4 191.5px,#ffd485 199.5px,#ffcd70 203.5px,#ffc55a 206.5px,#ffbe48 208.5px,#ffb630 210.5px,#ffa604 213.5px,#ff9c00 214.5px,#ff4200 221.5px,#ff2c00 223.5px,#ff1b00 225.5px,#ff1600 226.5px,#ff1200 228.5px,#ff1300 229.5px,#ff1800 230.5px,#ff2000 231.5px,#ff3800 233.5px,#ff5b00 235.5px,#ff9700 238.5px,#ffa809 239.5px,#ffbd45 241.5px,#ffd079 243.5px,#ffd88f 244.5px,#ffe5b4 246.5px,#ffeed0 248.5px,#fff5e2 250.5px,#fff9ef 252.5px,#fffcf6 254.5px)"></i>
<i style="background:linear-gradient(90deg,#ffffff 0.5px,#fffefd 110.5px,#fffaf2 143.5px,#fff8eb 154.5px,#fff5e3 163.5px,#fff0d5 172.5px,#ffe9c1 181.5px,#ffdfa3 191.5px,#ffd484 199.5px,#ffcc6f 203.5px,#ffc459 206.5px,#ffbe46 208.5px,#ffb52f 210.5px,#ffa602 213.5px,#ff9b00 214.5px,#ff4000 221.5px,#ff2a00 223.5px,#ff1a00 225.5px,#ff1500 226.5px,#ff1100 228.5px,#ff1200 229.5px,#ff1700 230.5px,#ff1f00 231.5px,#ff3800 233.5px,#ff5b00 235.5px,#ff9700 238.5px,#ffa90b 239.5px,#ffbe47 241.5px,#ffd07a 243.5px,#ffd891 244.5px,#ffe5b6 246.5px,#ffefd1 248.5px,#fff5e3 250.5px,#fff9ef 252.5px,#fffcf6 254.5px)"></i>
<i style="background:linear-gradient(90deg,#ffffff 0.5px,#ffffff 85.5px,#fffefd 110.5px,#fffaf1 143.5px,#fff8eb 154.5px,#fff5e2 163.5px,#fff0d4 172.5px,#ffe9c0 181.5px,#ffdea2 191.5px,#ffd383 199.5px,#ffcc6e 203.5px,#ffc760 205.5px,#ffc14f 207.5px,#ffb52d 210.5px,#ffa500 213.5px,#ff8d00 215.5px,#ff3f00 221.5px,#ff2900 223.5px,#ff1900 225.5px,#ff1400 226.5px,#ff1000 228.5px,#ff1200 229.5px,#ff1700 230.5px,#ff1f00 231.5px,#ff3900 233.5px,#ff5b00 235.5px,#ff9800 238.5px,#ffa90c 239.5px,#ffbe48 241.5px,#ffd17c 243.5px,#ffd992 244.5px,#ffe5b7 246.5px,#ffefd1 248.5px,#fff5e4 250.5px,#fffaf0 252.5px,#fffcf7 254.5px)"></i>
<i style="background:linear-gradient(90deg,#ffffff 0.5px,#fffefd 109.5px,#fffaf1 143.5px,#fff8ea 154.5px,#fff4e1 163.5px,#fff0d3 172.5px,#ffe9bf 181.5px,#ffdea1 191.5px,#ffd382 199.5px,#ffcb6d 203.5px,#ffc65f 205.5px,#ffc04e 207.5px,#ffb42b 210.5px,#ffa300 213.5px,#ff8c00 215.5px,#ff3d00 221.5px,#ff2700 223.5px,#ff1800 225.5px,#ff1300 226.5px,#ff0f00 228.5px,#ff1100 229.5px,#ff1600 230.5px,#ff1f00 231.5px,#ff3900 233.5px,#ff5c00 235.5px,#ff9900 238.5px,#ffaa0e 239.5px,#ffbf4a 241.5px,#ffd17d 243.5px,#ffd994 244.5px,#ffe6b8 246.5px,#ffefd2 248.5px,#fff6e4 250.5px,#fffaf0 252.5px,#fffcf7 254.5px)"></i>
<i style="background:linear-gradient(90deg,#ffffff 0.5px,#ffffff 84.5px,#fffefd 109.5px,#fffaf1 142.5px,#fff8ea 153.5px,#fff5e2 162.5px,#fff0d4 171.5px,#ffe9c1 180.5px,#ffdfa3 190.5px,#ffd486 198.5px,#ffcd72 202.5px,#ffc355 206.5px,#ffb836 209.5px,#ffa90c 212.5px,#ffa200 213.5px,#ff8a00 215.5px,#ff4800 220.5px,#ff2600 223.5px,#ff1600 225.5px,#ff1100 226.5px,#ff0e00 228.5px,#ff1000 229.5px,#ff1600 230.5px,#ff1f00 231.5px,#ff2a00 232.5px,#ff4a00 234.5px,#ff7000 236.5px,#ff9a00 238.5px,#ffaa0f 239.5px,#ffc04b 241.5px,#ffd27f 243.5px,#ffda95 244.5px,#ffe6b9 246.5px,#fff0d3 248.5px,#fff6e5 250.5px,#fffaf0 252.5px,#fffcf7 254.5px)"></i>
<i style="background:linear-gradient(90deg,#ffffff 0.5px,#ffffff 84.5px,#fffefd 109.5px,#fffaf0 142.5px,#fff7ea 153.5px,#fff4e1 162.5px,#fff0d3 171.5px,#ffe9c0 180.5px,#ffdea2 190.5px,#ffd485 198.5px,#ffcd71 202.5px,#ffc354 206.5px,#ffb835 209.5px,#ffa90a 212.5px,#ffa100 213.5px,#ff8900 215.5px,#ff4700 220.5px,#ff2500 223.5px,#ff1500 225.5px,#ff1100 226.5px,#ff0e00 228.5px,#ff1000 229.5px,#ff1600 230.5px,#ff1e00 231.5px,#ff2a00 232.5px,#ff4a00 234.5px,#ff9b00 238.5px,#ffab11 239.5px,#ffc04d 241.5px,#ffd280 243.5px,#ffda96 244.5px,#ffe7ba 246.5px,#fff0d4 248.5px,#fff6e6 250.5px,#fffaf1 252.5px,#fffcf8 254.5px)"></i>
<i style="background:linear-gradient(90deg,#ffffff 0.5px,#ffffff 83.5px,#fffefd 108.5px,#fffaf1 141.5px,#fff7e9 153.5px,#fff4e0 162.5px,#ffefd2 171.5px,#ffe8bf 180.5px,#ffdea1 190.5px,#ffd384 198.5px,#ffcc70 202.5px,#ffc863 204.5px,#ffc253 206.5px,#ffbb3f 208.5px,#ffb327 210.5px,#ffa809 212.5px,#ffa000 213.5px,#ff8700 215.5px,#ff4500 220.5px,#ff2300 223.5px,#ff1400 225.5px,#ff1000 226.5px,#ff0d00 228.5px,#ff0f00 229.5px,#ff1500 230.5px,#ff1e00 231.5px,#ff2a00 232.5px,#ff4b00 234.5px,#ff9c00 238.5px,#ffab12 239.5px,#ffc14e 241.5px,#ffd382 243.5px,#ffdb98 244.5px,#ffe7bc 246.5px,#fff0d5 248.5px,#fff6e7 250.5px,#fffaf1 252.5px,#fffcf8 254.5px)"></i>
<i style="background:linear-gradient(90deg,#ffffff 0.5px,#ffffff 83.5px,#fffefd 108.5px,#fffaf1 140.5px,#fff7e9 152.5px,#fff4e0 161.5px,#ffefd2 171.5px,#ffe8be 180.5px,#ffdea0 190.5px,#ffd383 198.5px,#ffcc6f 202.5px,#ffc862 204.5px,#ffc252 206.5px,#ffb732 209.5px,#ffa707 212.5px,#ff9e00 213.5px,#ff8600 215.5px,#ff4400 220.5px,#ff2200 223.5px,#ff1300 225.5px,#ff0f00 226.5px,#ff0c00 228.5px,#ff0f00 229.5px,#ff1500 230.5px,#ff1e00 231.5px,#ff2b00 232.5px,#ff4b00 234.5px,#ff9d00 238.5px,#ffac14 239.5px,#ffc150 241.5px,#ffd384 243.5px,#ffdb99 244.5px,#ffe8bd 246.5px,#fff1d6 248.5px,#fff7e7 250.5px,#fffaf2 252.5px,#fffdf8 254.5px)"></i>
<i style="background:linear-gradient(90deg,#ffffff 0.5px,#ffffff 83.5px,#fffefd 108.5px,#fffaf0 140.5px,#fff7e8 152.5px,#fff4e0 161.5px,#ffefd1 171.5px,#ffe8bd 180.5px,#ffdd9f 190.5px,#ffd382 198.5px,#ffcc6e 202.5px,#ffc761 204.5px,#ffc151 206.5px,#ffb631 209.5px,#ffa705 212.5px,#ff9d00 213.5px,#ff8500 215.5px,#ff4200 220.5px,#ff2100 223.5px,#ff1200 225.5px,#ff0e00 226.5px,#ff0c00 228.5px,#ff0f00 229.5px,#ff1500 230.5px,#ff1e00 231.5px,#ff2b00 232.5px,#ff4b00 234.5px,#ff9e00 238.5px,#ffad15 239.5px,#ffc252 241.5px,#ffd485 243.5px,#ffdc9b 244.5px,#ffe8be 246.5px,#fff1d7 248.5px,#fff7e8 250.5px,#fffbf2 252.5px,#fffdf8 254.5px)"></i>
<i style="background:linear-gradient(90deg,#ffffff 0.5px,#ffffff 82.5px,#fffefd 107.5px,#fffaf0 139.5px,#fff7e8 151.5px,#fff4df 161.5px,#ffeed0 171.5px,#ffe7bb 180.5px,#ffdd9e 190.5px,#ffd281 198.5px,#ffcb6d 202.5px,#ffc75f 204.5px,#ffc14f 206.5px,#ffb62f 209.5px,#ffa603 212.5px,#ff9c00 213.5px,#ff4100 220.5px,#ff2000 223.5px,#ff1100 225.5px,#ff0d00 226.5px,#ff0b00 228.5px,#ff0e00 229.5px,#ff1500 230.5px,#ff1e00 231.5px,#ff2b00 232.5px,#ff4c00 234.5px,#ff9f00 238.5px,#ffad17 239.5px,#ffc254 241.5px,#ffd587 243.5px,#ffdc9d 244.5px,#ffe9bf 246.5px,#fff1d8 248.5px,#fff7e9 250.5px,#fffbf3 252.5px,#fffdf9 254.5px)"></i>
<i style="background:linear-gradient(90deg,#ffffff 0.5px,#ffffff 82.5px,#fffefd 107.5px,#fffaf0 139.5px,#fff7e8 151.5px,#fff3de 161.5px,#ffefd0 170.5px,#ffe8bd 179.5px,#ffdea0 189.5px,#ffd27f 198.5px,#ffcb6b 202.5px,#ffc457 205.5px,#ffbd44 207.5px,#ffb52e 209.5px,#ffa602 212.5px,#ff9b00 213.5px,#ff4000 220.5px,#ff1f00 223.5px,#ff1100 225.5px,#ff0d00 226.5px,#ff0b00 228.5px,#ff0e00 229.5px,#ff1500 230.5px,#ff1e00 231.5px,#ff2b00 232.5px,#ff4d00 234.5px,#ffa000 238.5px,#ffae19 239.5px,#ffb938 240.5px,#ffcd70 242.5px,#ffd589 243.5px,#ffdd9e 244.5px,#ffe9c1 246.5px,#fff2d9 248.5px,#fff7e9 250.5px,#fffbf3 252.5px,#fffdf9 254.5px)"></i>
<i style="background:linear-gradient(90deg,#ffffff 0.5px,#ffffff 82.5px,#fffefc 107.5px,#fffaf0 138.5px,#fff7e8 150.5px,#fff3de 160.5px,#ffeecf 170.5px,#ffe7bc 179.5px,#ffdd9f 189.5px,#ffd27e 198.5px,#ffcb6a 202.5px,#ffc65d 204.5px,#ffc04d 206.5px,#ffb52c 209.5px,#ffa500 212.5px,#ff8100 215.5px,#ff3f00 220.5px,#ff2700 222.5px,#ff1600 224.5px,#ff1000 225.5px,#ff0a00 227.5px,#ff0a00 228.5px,#ff0e00 229.5px,#ff1500 230.5px,#ff1e00 231.5px,#ff2b00 232.5px,#ff4d00 234.5px,#ffa100 238.5px,#ffae1b 239.5px,#ffc457 241.5px,#ffcd72 242.5px,#ffdda0 244.5px,#ffeac2 246.5px,#fff2da 248.5px,#fff8ea 250.5px,#fffbf4 252.5px,#fffdf9 254.5px)"></i>
<i style="background:linear-gradient(90deg,#ffffff 0.5px,#ffffff 81.5px,#fffefd 106.5px,#fffaf0 137.5px,#fff7e7 150.5px,#fff3dd 160.5px,#ffeece 170.5px,#ffe7bb 179.5px,#ffdd9e 189.5px,#ffd17d 198.5px,#ffca69 202.5px,#ffc55c 204.5px,#ffc04c 206.5px,#ffb42b 209.5px,#ffa400 212.5px,#ff8000 215.5px,#ff3d00 220.5px,#ff2600 222.5px,#ff1500 224.5px,#ff0f00 225.5px,#ff0a00 227.5px,#ff0a00 228.5px,#ff0e00 229.5px,#ff1400 230.5px,#ff1f00 231.5px,#ff2c00 232.5px,#ff4e00 234.5px,#ffa200 238.5px,#ffc459 241.5px,#ffce74 242.5px,#ffdea1 244.5px,#ffeac3 246.5px,#fff2db 248.5px,#fff8eb 250.5px,#fffbf4 252.5px,#fffdfa 254.5px)"></i>
<i style="background:linear-gradient(90deg,#ffffff 0.5px,#ffffff 81.5px,#fffefc 106.5px,#fffaef 137.5px,#fff6e7 150.5px,#fff3dd 160.5px,#ffedcd 170.5px,#ffe6ba 179.5px,#ffdc9d 189.5px,#ffd17c 198.5px,#ffca68 202.5px,#ffc55b 204.5px,#ffbf4a 206.5px,#ffb429 209.5px,#ffa300 212.5px,#ff7e00 215.5px,#ff3c00 220.5px,#ff2500 222.5px,#ff1400 224.5px,#ff0e00 225.5px,#ff0900 227.5px,#ff0a00 228.5px,#ff0d00 229.5px,#ff1400 230.5px,#ff1f00 231.5px,#ff2c00 232.5px,#ff4e00 234.5px,#ffa300 238.5px,#ffbb3e 240.5px,#ffcf76 242.5px,#ffdfa3 244.5px,#ffe5b5 245.5px,#ffefd2 247.5px,#fff6e5 249.5px,#fffaf1 251.5px,#fffdfa 254.5px)"></i>
<i style="background:linear-gradient(90deg,#ffffff 0.5px,#ffffff 81.5px,#fffefc 106.5px,#fffaf0 136.5px,#fff6e7 149.5px,#fff3dd 159.5px,#ffeece 169.5px,#ffe7bb 178.5px,#ffdd9f 188.5px,#ffd27f 197.5px,#ffcb6d 201.5px,#ffc252 205.5px,#ffb734 208.5px,#ffa90b 211.5px,#ffa200 212.5px,#ff7d00 215.5px,#ff3b00 220.5px,#ff2400 222.5px,#ff1300 224.5px,#ff0e00 225.5px,#ff0900 227.5px,#ff0a00 228.5px,#ff0d00 229.5px,#ff1400 230.5px,#ff1f00 231.5px,#ff2c00 232.5px,#ff4f00 234.5px,#ffa400 238.5px,#ffbb3f 240.5px,#ffcf78 242.5px,#ffd890 243.5px,#ffe6b7 245.5px,#ffefd3 247.5px,#fff6e6 249.5px,#fffaf1 251.5px,#fffdfa 254.5px)"></i>
<i style="background:linear-gradient(90deg,#ffffff 0.5px,#ffffff 80.5px,#fffefc 105.5px,#fffaf0 135.5px,#fff6e6 149.5px,#fff3dc 159.5px,#ffedcd 169.5px,#ffe7ba 178.5px,#ffdd9e 188.5px,#ffd27e 197.5px,#ffcb6c 201.5px,#ffc151 205.5px,#ffb733 208.5px,#ffa809 211.5px,#ffa000 212.5px,#ff7c00 215.5px,#ff3a00 220.5px,#ff2300 222.5px,#ff1300 224.5px,#ff0d00 225.5px,#ff0800 227.5px,#ff0900 228.5px,#ff0d00 229.5px,#ff1400 230.5px,#ff1f00 231.5px,#ff2d00 232.5px,#ff5000 234.5px,#ffa501 238.5px,#ffbc41 240.5px,#ffd079 242.5px,#ffd891 243.5px,#ffe6b8 245.5px,#fff0d4 247.5px,#fff6e7 249.5px,#fffaf2 251.5px,#fffdfa 254.5px)"></i>
<i style="background:linear-gradient(90deg,#ffffff 0.5px,#ffffff 80.5px,#fffefc 105.5px,#fffcf8 119.5px,#fff9ef 135.5px,#fff6e5 149.5px,#fff2db 159.5px,#ffedcc 169.5px,#ffe6b9 178.5px,#ffdc9c 188.5px,#ffd17d 197.5px,#ffcb6b 201.5px,#ffc14f 205.5px,#ffba3c 207.5px,#ffb225 209.5px,#ffa808 211.5px,#ff9f00 212.5px,#ff7b00 215.5px,#ff3900 220.5px,#ff2300 222.5px,#ff1200 224.5px,#ff0d00 225.5px,#ff0800 227.5px,#ff0900 228.5px,#ff0d00 229.5px,#ff1500 230.5px,#ff1f00 231.5px,#ff2d00 232.5px,#ff5000 234.5px,#ff9000 237.5px,#ffa602 238.5px,#ffbd43 240.5px,#ffd17b 242.5px,#ffd993 243.5px,#ffe7ba 245.5px,#fff0d5 247.5px,#fff7e8 249.5px,#fffbf3 251.5px,#fffdfb 254.5px)"></i>
<i style="background:linear-gradient(90deg,#ffffff 0.5px,#ffffff 80.5px,#fffefc 105.5px,#fff9ef 134.5px,#fff6e5 148.5px,#fff2db 158.5px,#ffedcd 168.5px,#ffe7ba 177.5px,#ffdc9b 188.5px,#ffd17c 197.5px,#ffca69 201.5px,#ffc14e 205.5px,#ffb630 208.5px,#ffa706 211.5px,#ff9e00 212.5px,#ff8700 214.5px,#ff3800 220.5px,#ff2200 222.5px,#ff1100 224.5px,#ff0c00 225.5px,#ff0800 227.5px,#ff0900 228.5px,#ff0d00 229.5px,#ff1500 230.5px,#ff1f00 231.5px,#ff2d00 232.5px,#ff5100 234.5px,#ff9200 237.5px,#ffa704 238.5px,#ffbd45 240.5px,#ffd17d 242.5px,#ffda95 243.5px,#ffe1aa 244.5px,#ffe7bc 245.5px,#fff1d7 247.5px,#fff7e8 249.5px,#fffbf3 251.5px,#fffefb 254.5px)"></i>
<i style="background:linear-gradient(90deg,#ffffff 0.5px,#ffffff 79.5px,#fffefc 104.5px,#fffcf8 118.5px,#fff9ef 133.5px,#fff6e5 147.5px,#fff2da 158.5px,#ffedcc 168.5px,#ffe6b9 177.5px,#ffdb9a 188.5px,#ffd07b 197.5px,#ffca68 201.5px,#ffc04d 205.5px,#ffb52e 208.5px,#ffa705 211.5px,#ff9d00 212.5px,#ff8500 214.5px,#ff3700 220.5px,#ff2100 222.5px,#ff1100 224.5px,#ff0b00 225.5px,#ff0700 227.5px,#ff0900 228.5px,#ff0d00 229.5px,#ff1500 230.5px,#ff2000 231.5px,#ff2e00 232.5px,#ff5200 234.5px,#ff9300 237.5px,#ffa706 238.5px,#ffbe47 240.5px,#ffd27f 242.5px,#ffda97 243.5px,#ffe2ac 244.5px,#ffe8bd 245.5px,#fff1d8 247.5px,#fff7e9 249.5px,#fffbf4 251.5px,#fffefb 254.5px)"></i>
<i style="background:linear-gradient(90deg,#ffffff 0.5px,#ffffff 79.5px,#fffefc 104.5px,#fffaef 132.5px,#fff6e5 146.5px,#fff2db 157.5px,#ffedcc 167.5px,#ffe6b7 177.5px,#ffdb99 188.5px,#ffd07a 197.5px,#ffc967 201.5px,#ffc55b 203.5px,#ffc04c 205.5px,#ffb52d 208.5px,#ffa603 211.5px,#ff9c00 212.5px,#ff8400 214.5px,#ff3600 220.5px,#ff2000 222.5px,#ff1000 224.5px,#ff0b00 225.5px,#ff0700 227.5px,#ff0900 228.5px,#ff0d00 229.5px,#ff1500 230.5px,#ff2000 231.5px,#ff2e00 232.5px,#ff5200 234.5px,#ff9400 237.5px,#ffa808 238.5px,#ffbf49 240.5px,#ffd381 242.5px,#ffdb99 243.5px,#ffe2ad 244.5px,#ffe8bf 245.5px,#fff2d9 247.5px,#fff8ea 249.5px,#fffbf4 251.5px,#fffefc 254.5px)"></i>
<i style="background:linear-gradient(90deg,#ffffff 0.5px,#ffffff 79.5px,#fffefc 104.5px,#fff9ef 132.5px,#fff6e5 146.5px,#fff2da 157.5px,#ffedcb 167.5px,#ffe5b6 177.5px,#ffda98 188.5px,#ffd079 197.5px,#ffc966 201.5px,#ffc252 204.5px,#ffbc41 206.5px,#ffb42c 208.5px,#ffa601 211.5px,#ff9b00 212.5px,#ff8300 214.5px,#ff4100 219.5px,#ff1f00 222.5px,#ff0f00 224.5px,#ff0a00 225.5px,#ff0700 227.5px,#ff0800 228.5px,#ff0d00 229.5px,#ff1500 230.5px,#ff2000 231.5px,#ff2e00 232.5px,#ff5300 234.5px,#ff9500 237.5px,#ffa80a 238.5px,#ffc04b 240.5px,#ffd383 242.5px,#ffdc9b 243.5px,#ffe3af 244.5px,#ffe9c0 245.5px,#fff2da 247.5px,#fff8eb 249.5px,#fffbf5 251.5px,#fffefc 254.5px)"></i>
<i style="background:linear-gradient(90deg,#ffffff 0.5px,#ffffff 79.5px,#fffefc 104.5px,#fffcf7 117.5px,#fff9ee 132.5px,#fff5e4 146.5px,#fff1d9 157.5px,#ffecca 167.5px,#ffe5b5 177.5px,#ffda96 188.5px,#ffcf77 197.5px,#ffc965 201.5px,#ffc458 203.5px,#ffbf49 205.5px,#ffb42a 208.5px,#ffa500 211.5px,#ff8200 214.5px,#ff3400 220.5px,#ff1e00 222.5px,#ff0f00 224.5px,#ff0a00 225.5px,#ff0700 227.5px,#ff0800 228.5px,#ff0d00 229.5px,#ff1500 230.5px,#ff2000 231.5px,#ff2f00 232.5px,#ff5400 234.5px,#ff9600 237.5px,#ffa90c 238.5px,#ffc04e 240.5px,#ffd485 242.5px,#ffdc9d 243.5px,#ffe3b1 244.5px,#ffeac2 245.5px,#fff3dc 247.5px,#fff8ec 249.5px,#fffcf5 251.5px,#fffefc 254.5px)"></i>
<i style="background:linear-gradient(90deg,#ffffff 0.5px,#ffffff 78.5px,#fffefc 103.5px,#fff9ef 130.5px,#fff5e4 145.5px,#fff2d9 156.5px,#ffeccb 166.5px,#ffe5b6 176.5px,#ffdb98 187.5px,#ffcf76 197.5px,#ffc863 201.5px,#ffc457 203.5px,#ffbe48 205.5px,#ffb329 208.5px,#ffa400 211.5px,#ff8100 214.5px,#ff3300 220.5px,#ff1e00 222.5px,#ff0e00 224.5px,#ff0a00 225.5px,#ff0600 227.5px,#ff0800 228.5px,#ff0d00 229.5px,#ff1500 230.5px,#ff2100 231.5px,#ff2f00 232.5px,#ff5400 234.5px,#ff9700 237.5px,#ffaa0e 238.5px,#ffc150 240.5px,#ffd588 242.5px,#ffdd9f 243.5px,#ffe4b3 244.5px,#ffeac4 245.5px,#fff3dd 247.5px,#fff9ed 249.5px,#fffcf6 251.5px,#fffefc 254.5px)"></i>
<i style="background:linear-gradient(90deg,#ffffff 0.5px,#ffffff 78.5px,#fffefc 103.5px,#fff9ef 129.5px,#fff5e3 145.5px,#fff1d8 156.5px,#ffecc9 166.5px,#ffe5b5 176.5px,#ffda97 187.5px,#ffce75 197.5px,#ffc862 201.5px,#ffc356 203.5px,#ffbe46 205.5px,#ffb327 208.5px,#ffa300 211.5px,#ff8000 214.5px,#ff3200 220.5px,#ff1d00 222.5px,#ff0e00 224.5px,#ff0900 225.5px,#ff0600 227.5px,#ff0800 228.5px,#ff0d00 229.5px,#ff1500 230.5px,#ff2100 231.5px,#ff3000 232.5px,#ff5500 234.5px,#ff9800 237.5px,#ffab10 238.5px,#ffc252 240.5px,#ffcc6f 241.5px,#ffd68a 242.5px,#ffdea1 243.5px,#ffe5b5 244.5px,#ffebc5 245.5px,#fff3de 247.5px,#fff9ee 249.5px,#fffcf6 251.5px,#fffefc 254.5px)"></i>
<i style="background:linear-gradient(90deg,#ffffff 0.5px,#ffffff 78.5px,#fffefc 103.5px,#fff9ef 129.5px,#fff5e2 145.5px,#fff1d7 156.5px,#ffecc8 166.5px,#ffe4b3 176.5px,#ffda95 187.5px,#ffcf78 196.5px,#ffc966 200.5px,#ffc04d 204.5px,#ffb631 207.5px,#ffa90b 210.5px,#ffa200 211.5px,#ff7f00 214.5px,#ff3d00 219.5px,#ff1c00 222.5px,#ff0d00 224.5px,#ff0900 225.5px,#ff0600 227.5px,#ff0800 228.5px,#ff0d00 229.5px,#ff1500 230.5px,#ff2100 231.5px,#ff3000 232.5px,#ff5600 234.5px,#ff9900 237.5px,#ffab12 238.5px,#ffc354 240.5px,#ffcd71 241.5px,#ffd68c 242.5px,#ffdea3 243.5px,#ffe5b7 244.5px,#ffebc7 245.5px,#fff4df 247.5px,#fff9ee 249.5px,#fffcf7 251.5px,#fffefd 254.5px)"></i>
<i style="background:linear-gradient(90deg,#ffffff 0.5px,#ffffff 77.5px,#fffefc 102.5px,#fffaf0 127.5px,#fff5e3 143.5px,#fff1d7 155.5px,#ffecc9 165.5px,#ffe5b4 175.5px,#ffda97 186.5px,#ffcf76 196.5px,#ffc965 200.5px,#ffc04c 204.5px,#ffb630 207.5px,#ffa809 210.5px,#ffa100 211.5px,#ff7e00 214.5px,#ff3c00 219.5px,#ff1c00 222.5px,#ff0d00 224.5px,#ff0900 225.5px,#ff0600 227.5px,#ff0800 228.5px,#ff0d00 229.5px,#ff1600 230.5px,#ff2100 231.5px,#ff3000 232.5px,#ff5600 234.5px,#ff9b00 237.5px,#ffac14 238.5px,#ffc356 240.5px,#ffce74 241.5px,#ffd78e 242.5px,#ffdfa5 243.5px,#ffe6b8 244.5px,#ffecc9 245.5px,#fff4e1 247.5px,#fff9ef 249.5px,#fffcf7 251.5px,#fffefd 254.5px)"></i>
<i style="background:linear-gradient(90deg,#ffffff 0.5px,#ffffff 77.5px,#fffefc 102.5px,#fff9ef 127.5px,#fff5e2 143.5px,#fff1d6 155.5px,#ffebc7 165.5px,#ffe4b3 175.5px,#ffda96 186.5px,#ffce75 196.5px,#ffc864 200.5px,#ffbf4a 204.5px,#ffb939 206.5px,#ffb123 208.5px,#ffa808 210.5px,#ffa000 211.5px,#ff7d00 214.5px,#ff3c00 219.5px,#ff1b00 222.5px,#ff0d00 224.5px,#ff0800 225.5px,#ff0600 227.5px,#ff0800 228.5px,#ff0d00 229.5px,#ff1600 230.5px,#ff2200 231.5px,#ff3100 232.5px,#ff5700 234.5px,#ff9c00 237.5px,#ffad16 238.5px,#ffc458 240.5px,#ffcf76 241.5px,#ffd890 242.5px,#ffe0a7 243.5px,#ffe7ba 244.5px,#ffecca 245.5px,#fff5e2 247.5px,#fffaf0 249.5px,#fffdf8 251.5px,#fffefd 254.5px)"></i>
<i style="background:linear-gradient(90deg,#ffffff 0.5px,#ffffff 76.5px,#fffefc 101.5px,#fff9ef 126.5px,#fff5e2 142.5px,#fff1d6 154.5px,#ffebc6 165.5px,#ffe4b2 175.5px,#ffd994 186.5px,#ffce74 196.5px,#ffc862 200.5px,#ffbf49 204.5px,#ffb52d 207.5px,#ffa706 210.5px,#ff9f00 211.5px,#ff7c00 214.5px,#ff3b00 219.5px,#ff1a00 222.5px,#ff0c00 224.5px,#ff0800 225.5px,#ff0600 227.5px,#ff0800 228.5px,#ff0d00 229.5px,#ff1600 230.5px,#ff2200 231.5px,#ff3100 232.5px,#ff5800 234.5px,#ff9d00 237.5px,#ffad18 238.5px,#ffc55b 240.5px,#ffcf78 241.5px,#ffd992 242.5px,#ffe1a9 243.5px,#ffe7bc 244.5px,#ffedcc 245.5px,#fff5e3 247.5px,#fffaf1 249.5px,#fffdf8 251.5px,#fffefd 254.5px)"></i>
<i style="background:linear-gradient(90deg,#ffffff 0.5px,#ffffff 76.5px,#fffefc 101.5px,#fff9ef 125.5px,#fff5e2 142.5px,#fff0d5 154.5px,#ffebc5 165.5px,#ffe3b0 175.5px,#ffd993 186.5px,#ffcd72 196.5px,#ffc761 200.5px,#ffbe48 204.5px,#ffb42c 207.5px,#ffa704 210.5px,#ff9e00 211.5px,#ff7b00 214.5px,#ff3a00 219.5px,#ff2300 221.5px,#ff1200 223.5px,#ff0c00 224.5px,#ff0800 225.5px,#ff0600 227.5px,#ff0800 228.5px,#ff0d00 229.5px,#ff1600 230.5px,#ff2200 231.5px,#ff3200 232.5px,#ff5900 234.5px,#ff9e00 237.5px,#ffae1a 238.5px,#ffba3c 239.5px,#ffd07a 241.5px,#ffd994 242.5px,#ffe1ab 243.5px,#ffe8be 244.5px,#ffeece 245.5px,#fff6e4 247.5px,#fffaf2 249.5px,#fffdf9 251.5px,#fffefd 254.5px)"></i>
<i style="background:linear-gradient(90deg,#ffffff 0.5px,#ffffff 76.5px,#fffefb 101.5px,#fff9ef 125.5px,#fff0d5 153.5px,#ffebc5 164.5px,#ffe4b1 174.5px,#ffd994 185.5px,#ffce75 195.5px,#ffc760 200.5px,#ffc04e 203.5px,#ffbb3e 205.5px,#ffb42a 207.5px,#ffa603 210.5px,#ff9d00 211.5px,#ff7a00 214.5px,#ff3900 219.5px,#ff2200 221.5px,#ff1100 223.5px,#ff0b00 224.5px,#ff0700 225.5px,#ff0600 227.5px,#ff0800 228.5px,#ff0d00 229.5px,#ff1600 230.5px,#ff2300 231.5px,#ff3200 232.5px,#ff5900 234.5px,#ff9f00 237.5px,#ffaf1c 238.5px,#ffc75f 240.5px,#ffd17c 241.5px,#ffda96 242.5px,#ffe2ad 243.5px,#ffe9c0 244.5px,#ffeecf 245.5px,#fff6e6 247.5px,#fffbf2 249.5px,#fffdf9 251.5px,#fffefe 254.5px)"></i>
<i style="background:linear-gradient(90deg,#ffffff 0.5px,#ffffff 75.5px,#fffefc 100.5px,#fff9ef 124.5px,#fff4e1 141.5px,#fff0d4 153.5px,#ffeac4 164.5px,#ffe3b0 174.5px,#ffd993 185.5px,#ffce73 195.5px,#ffc65e 200.5px,#ffc04c 203.5px,#ffba3c 205.5px,#ffb329 207.5px,#ffa501 210.5px,#ff9c00 211.5px,#ff7900 214.5px,#ff3800 219.5px,#ff2200 221.5px,#ff1100 223.5px,#ff0b00 224.5px,#ff0700 225.5px,#ff0600 227.5px,#ff0800 228.5px,#ff0e00 229.5px,#ff1600 230.5px,#ff2300 231.5px,#ff4500 233.5px,#ff7100 235.5px,#ffa100 237.5px,#ffb01e 238.5px,#ffbc41 239.5px,#ffc761 240.5px,#ffd27f 241.5px,#ffdb99 242.5px,#ffe3af 243.5px,#ffe9c2 244.5px,#ffefd1 245.5px,#fff6e7 247.5px,#fffbf3 249.5px,#fffdfa 251.5px,#fffffe 254.5px)"></i>
<i style="background:linear-gradient(90deg,#ffffff 0.5px,#ffffff 75.5px,#fffefb 100.5px,#fff9ef 123.5px,#fff0d4 152.5px,#ffeac4 163.5px,#ffe3b1 173.5px,#ffd994 184.5px,#ffcd72 195.5px,#ffc65d 200.5px,#ffbd43 204.5px,#ffb327 207.5px,#ffa500 210.5px,#ff8400 213.5px,#ff3700 219.5px,#ff2100 221.5px,#ff1000 223.5px,#ff0b00 224.5px,#ff0700 225.5px,#ff0500 227.5px,#ff0800 228.5px,#ff0e00 229.5px,#ff1700 230.5px,#ff2300 231.5px,#ff4600 233.5px,#ff7200 235.5px,#ffa200 237.5px,#ffb020 238.5px,#ffc864 240.5px,#ffd381 241.5px,#ffdc9b 242.5px,#ffe3b1 243.5px,#ffeac3 244.5px,#ffefd3 245.5px,#fff7e8 247.5px,#fffbf4 249.5px,#fffdfa 251.5px,#fffffe 254.5px)"></i>
<i style="background:linear-gradient(90deg,#ffffff 0.5px,#ffffff 75.5px,#fffefb 100.5px,#fff9ef 123.5px,#ffefd3 152.5px,#ffeac3 163.5px,#ffe3af 173.5px,#ffd993 184.5px,#ffcd70 195.5px,#ffc55b 200.5px,#ffbc42 204.5px,#ffb225 207.5px,#ffa400 210.5px,#ff8300 213.5px,#ff3600 219.5px,#ff2000 221.5px,#ff1000 223.5px,#ff0a00 224.5px,#ff0700 225.5px,#ff0500 227.5px,#ff0800 228.5px,#ff0e00 229.5px,#ff1700 230.5px,#ff2300 231.5px,#ff4600 233.5px,#ff7300 235.5px,#ffa300 237.5px,#ffbd45 239.5px,#ffc966 240.5px,#ffd383 241.5px,#ffdc9d 242.5px,#ffe4b3 243.5px,#ffebc5 244.5px,#fff0d4 245.5px,#fff4e0 246.5px,#fffaf0 248.5px,#fffdfb 251.5px,#fffffe 254.5px)"></i>
<i style="background:linear-gradient(90deg,#ffffff 0.5px,#ffffff 74.5px,#fffefb 99.5px,#fff9ef 122.5px,#ffefd3 151.5px,#ffe9c2 163.5px,#ffe2ae 173.5px,#ffd891 184.5px,#ffcc6f 195.5px,#ffc55a 200.5px,#ffbe48 203.5px,#ffb52f 206.5px,#ffa300 210.5px,#ff8200 213.5px,#ff3600 219.5px,#ff2000 221.5px,#ff1000 223.5px,#ff0a00 224.5px,#ff0600 225.5px,#ff0500 227.5px,#ff0800 228.5px,#ff0e00 229.5px,#ff1700 230.5px,#ff2400 231.5px,#ff3400 232.5px,#ff4700 233.5px,#ff7300 235.5px,#ffa400 237.5px,#ffbe47 239.5px,#ffca68 240.5px,#ffd485 241.5px,#ffdd9f 242.5px,#ffe5b5 243.5px,#ffebc7 244.5px,#fff0d6 245.5px,#fff4e1 246.5px,#fffaf1 248.5px,#fffefb 251.5px,#fffffe 254.5px)"></i>
<i style="background:linear-gradient(90deg,#ffffff 0.5px,#fffffe 74.5px,#fffefb 99.5px,#fff9ef 121.5px,#ffefd3 150.5px,#ffe9c2 162.5px,#ffe3ae 172.5px,#ffd992 183.5px,#ffcc6d 195.5px,#ffc458 200.5px,#ffbe46 203.5px,#ffb52d 206.5px,#ffa809 209.5px,#ffa200 210.5px,#ff8100 213.5px,#ff3500 219.5px,#ff1f00 221.5px,#ff0f00 223.5px,#ff0a00 224.5px,#ff0600 225.5px,#ff0500 227.5px,#ff0800 228.5px,#ff0e00 229.5px,#ff1700 230.5px,#ff2400 231.5px,#ff3400 232.5px,#ff4700 233.5px,#ff7400 235.5px,#ffa501 237.5px,#ffbf4a 239.5px,#ffcb6a 240.5px,#ffd588 241.5px,#ffdea1 242.5px,#ffe6b7 243.5px,#ffecc9 244.5px,#fff1d7 245.5px,#fff5e3 246.5px,#fffaf1 248.5px,#fffefb 251.5px,#fffffe 254.5px)"></i>
<i style="background:linear-gradient(90deg,#ffffff 0.5px,#fffffe 73.5px,#fffefb 98.5px,#fff9ef 120.5px,#ffefd2 150.5px,#ffe9c1 162.5px,#ffe2ad 172.5px,#ffd891 183.5px,#ffcb6c 195.5px,#ffc457 200.5px,#ffbd45 203.5px,#ffb42b 206.5px,#ffa808 209.5px,#ffa100 210.5px,#ff8000 213.5px,#ff4000 218.5px,#ff1f00 221.5px,#ff0f00 223.5px,#ff0900 224.5px,#ff0600 225.5px,#ff0500 227.5px,#ff0800 228.5px,#ff0e00 229.5px,#ff1700 230.5px,#ff2400 231.5px,#ff3400 232.5px,#ff4800 233.5px,#ff5e00 234.5px,#ff8e00 236.5px,#ffa603 237.5px,#ffc04c 239.5px,#ffcb6d 240.5px,#ffd68a 241.5px,#ffdfa3 242.5px,#ffe6b9 243.5px,#ffedcb 244.5px,#fff2d9 245.5px,#fff5e4 246.5px,#fffaf2 248.5px,#fffefc 251.5px,#fffffe 254.5px)"></i>
<i style="background:linear-gradient(90deg,#ffffff 0.5px,#fffffe 73.5px,#fffefb 98.5px,#fff9ef 120.5px,#ffefd2 149.5px,#ffe9c1 161.5px,#ffe2ad 171.5px,#ffd892 182.5px,#ffcc6e 194.5px,#ffc55a 199.5px,#ffbd43 203.5px,#ffb733 205.5px,#ffb01f 207.5px,#ffa706 209.5px,#ffa000 210.5px,#ff7f00 213.5px,#ff3f00 218.5px,#ff1e00 221.5px,#ff0e00 223.5px,#ff0900 224.5px,#ff0600 225.5px,#ff0500 227.5px,#ff0800 228.5px,#ff0e00 229.5px,#ff1800 230.5px,#ff2500 231.5px,#ff3500 232.5px,#ff4800 233.5px,#ff5e00 234.5px,#ff8f00 236.5px,#ffa705 237.5px,#ffc14e 239.5px,#ffcc6f 240.5px,#ffd78c 241.5px,#ffdfa6 242.5px,#ffe7bb 243.5px,#ffedcc 244.5px,#fff2da 245.5px,#fff6e5 246.5px,#fffbf3 248.5px,#fffefc 251.5px,#fffffe 254.5px)"></i>
<i style="background:linear-gradient(90deg,#ffffff 0.5px,#fffffe 73.5px,#fffefb 98.5px,#fff9ef 119.5px,#ffefd2 148.5px,#ffe9c1 160.5px,#ffe2ac 171.5px,#ffd890 182.5px,#ffcb6c 194.5px,#ffc459 199.5px,#ffbc42 203.5px,#ffb328 206.5px,#ffa704 209.5px,#ff9e00 210.5px,#ff7e00 213.5px,#ff3300 219.5px,#ff1d00 221.5px,#ff0e00 223.5px,#ff0900 224.5px,#ff0600 225.5px,#ff0500 227.5px,#ff0800 228.5px,#ff0e00 229.5px,#ff1800 230.5px,#ff2500 231.5px,#ff3500 232.5px,#ff4900 233.5px,#ff5f00 234.5px,#ff9000 236.5px,#ffa707 237.5px,#ffc150 239.5px,#ffcd71 240.5px,#ffd78e 241.5px,#ffe0a8 242.5px,#ffe8bd 243.5px,#ffeece 244.5px,#fff3dc 245.5px,#fff6e6 246.5px,#fffbf4 248.5px,#fffdfa 250.5px,#fffffe 254.5px)"></i>
<i style="background:linear-gradient(90deg,#ffffff 0.5px,#fffffe 72.5px,#fffefb 97.5px,#fff9ef 118.5px,#ffefd2 147.5px,#ffe9c1 159.5px,#ffe2ac 170.5px,#ffd891 181.5px,#ffcb6a 194.5px,#ffc457 199.5px,#ffbe47 202.5px,#ffb938 204.5px,#ffb326 206.5px,#ffa603 209.5px,#ff9d00 210.5px,#ff7d00 213.5px,#ff3200 219.5px,#ff1d00 221.5px,#ff0e00 223.5px,#ff0900 224.5px,#ff0600 225.5px,#ff0500 227.5px,#ff0800 228.5px,#ff0e00 229.5px,#ff1800 230.5px,#ff2500 231.5px,#ff3600 232.5px,#ff4900 233.5px,#ff6000 234.5px,#ff9100 236.5px,#ffa809 237.5px,#ffc253 239.5px,#ffce74 240.5px,#ffd891 241.5px,#ffe1aa 242.5px,#ffe8bf 243.5px,#ffeed0 244.5px,#fff3dd 245.5px,#fff7e7 246.5px,#fffbf4 248.5px,#fffdfb 250.5px,#ffffff 254.5px)"></i>
<i style="background:linear-gradient(90deg,#ffffff 0.5px,#fffffe 72.5px,#fffefb 97.5px,#fff9ee 118.5px,#ffefd2 146.5px,#ffe9c1 158.5px,#ffe2ad 169.5px,#ffd992 180.5px,#ffcb6c 193.5px,#ffc55a 198.5px,#ffbd45 202.5px,#ffb837 204.5px,#ffb225 206.5px,#ffa501 209.5px,#ff9c00 210.5px,#ff7c00 213.5px,#ff3100 219.5px,#ff1c00 221.5px,#ff0d00 223.5px,#ff0800 224.5px,#ff0500 225.5px,#ff0500 227.5px,#ff0800 228.5px,#ff0f00 229.5px,#ff1800 230.5px,#ff2500 231.5px,#ff3600 232.5px,#ff4a00 233.5px,#ff6100 234.5px,#ff9200 236.5px,#ffa90b 237.5px,#ffc355 239.5px,#ffcf76 240.5px,#ffd993 241.5px,#ffe2ac 242.5px,#ffe9c1 243.5px,#ffefd1 244.5px,#fff4df 245.5px,#fff7e8 246.5px,#fffbf5 248.5px,#fffefb 250.5px,#ffffff 254.5px)"></i>
<i style="background:linear-gradient(90deg,#ffffff 0.5px,#fffffe 71.5px,#fffefb 96.5px,#fff9ef 117.5px,#ffefd0 146.5px,#ffe8be 159.5px,#ffe1a9 170.5px,#ffd78e 181.5px,#ffc967 194.5px,#ffc354 199.5px,#ffba3d 203.5px,#ffb123 206.5px,#ffa500 209.5px,#ff8600 212.5px,#ff3c00 218.5px,#ff1c00 221.5px,#ff0d00 223.5px,#ff0800 224.5px,#ff0500 225.5px,#ff0500 227.5px,#ff0800 228.5px,#ff0f00 229.5px,#ff1800 230.5px,#ff2600 231.5px,#ff3700 232.5px,#ff4b00 233.5px,#ff6100 234.5px,#ff9300 236.5px,#ffa90c 237.5px,#ffc457 239.5px,#ffcf78 240.5px,#ffda95 241.5px,#ffe2ae 242.5px,#ffeac2 243.5px,#ffefd3 244.5px,#fff4e0 245.5px,#fff7ea 246.5px,#fffcf6 248.5px,#fffefb 250.5px,#ffffff 254.5px)"></i>
<i style="background:linear-gradient(90deg,#ffffff 0.5px,#fffffe 70.5px,#fffdfb 96.5px,#fff9ee 117.5px,#ffefd0 145.5px,#ffe8be 158.5px,#ffe1a9 169.5px,#ffd78f 180.5px,#ffca69 193.5px,#ffc356 198.5px,#ffbc42 202.5px,#ffb42b 205.5px,#ffa300 209.5px,#ff8500 212.5px,#ff3b00 218.5px,#ff1b00 221.5px,#ff0d00 223.5px,#ff0800 224.5px,#ff0500 225.5px,#ff0500 227.5px,#ff0800 228.5px,#ff0f00 229.5px,#ff1900 230.5px,#ff2600 231.5px,#ff3700 232.5px,#ff4b00 233.5px,#ff6200 234.5px,#ff9500 236.5px,#ffaa0e 237.5px,#ffc559 239.5px,#ffd07a 240.5px,#ffda97 241.5px,#ffe3b0 242.5px,#ffeac4 243.5px,#fff0d5 244.5px,#fff4e1 245.5px,#fff8eb 246.5px,#fffcf6 248.5px,#fffefc 250.5px,#ffffff 254.5px)"></i>
<i style="background:linear-gradient(90deg,#ffffff 0.5px,#fffffe 70.5px,#fffefb 95.5px,#fff9ef 115.5px,#ffefd1 143.5px,#ffe8be 157.5px,#ffe1aa 168.5px,#ffd88f 179.5px,#ffca6a 192.5px,#ffc355 198.5px,#ffbc40 202.5px,#ffb429 205.5px,#ffa809 208.5px,#ffa200 209.5px,#ff8400 212.5px,#ff3b00 218.5px,#ff1b00 221.5px,#ff0c00 223.5px,#ff0800 224.5px,#ff0500 225.5px,#ff0500 227.5px,#ff0900 228.5px,#ff0f00 229.5px,#ff1900 230.5px,#ff2600 231.5px,#ff3700 232.5px,#ff4c00 233.5px,#ff6300 234.5px,#ff9600 236.5px,#ffab10 237.5px,#ffc55c 239.5px,#ffd17d 240.5px,#ffdb99 241.5px,#ffe4b2 242.5px,#ffebc6 243.5px,#fff1d6 244.5px,#fff5e2 245.5px,#fff8ec 246.5px,#fffcf7 248.5px,#fffefc 250.5px,#ffffff 254.5px)"></i>
<i style="background:linear-gradient(90deg,#ffffff 0.5px,#fffffe 69.5px,#fffdfb 95.5px,#fff9ef 115.5px,#ffefd1 142.5px,#ffe8be 156.5px,#ffe1aa 167.5px,#ffd890 178.5px,#ffca68 192.5px,#ffc253 198.5px,#ffbb3e 202.5px,#ffb327 205.5px,#ffa807 208.5px,#ffa100 209.5px,#ff8300 212.5px,#ff3a00 218.5px,#ff1a00 221.5px,#ff0c00 223.5px,#ff0700 224.5px,#ff0500 225.5px,#ff0500 227.5px,#ff0900 228.5px,#ff0f00 229.5px,#ff1900 230.5px,#ff2700 231.5px,#ff3800 232.5px,#ff4c00 233.5px,#ff6400 234.5px,#ff9700 236.5px,#ffab12 237.5px,#ffc65e 239.5px,#ffd27f 240.5px,#ffdc9b 241.5px,#ffe4b4 242.5px,#ffecc8 243.5px,#fff1d8 244.5px,#fff5e4 245.5px,#fff8ed 246.5px,#fffbf3 247.5px,#fffdfa 249.5px,#ffffff 254.5px)"></i>
<i style="background:linear-gradient(90deg,#ffffff 0.5px,#fffffe 69.5px,#fffdfb 94.5px,#fff9ef 114.5px,#ffefd2 140.5px,#ffe8be 155.5px,#ffe1aa 166.5px,#ffd891 177.5px,#ffca69 191.5px,#ffc355 197.5px,#ffbc42 201.5px,#ffb52e 204.5px,#ffaf1c 206.5px,#ffa705 208.5px,#ffa000 209.5px,#ff8200 212.5px,#ff3900 218.5px,#ff1a00 221.5px,#ff0c00 223.5px,#ff0700 224.5px,#ff0500 225.5px,#ff0500 227.5px,#ff0900 228.5px,#ff0f00 229.5px,#ff1900 230.5px,#ff2700 231.5px,#ff3800 232.5px,#ff4d00 233.5px,#ff6400 234.5px,#ff9800 236.5px,#ffac14 237.5px,#ffc760 239.5px,#ffd281 240.5px,#ffdd9e 241.5px,#ffe5b6 242.5px,#ffecc9 243.5px,#fff2d9 244.5px,#fff6e5 245.5px,#fff9ed 246.5px,#fffbf4 247.5px,#fffdfb 249.5px,#ffffff 254.5px)"></i>
<i style="background:linear-gradient(90deg,#ffffff 0.5px,#fffffe 68.5px,#fffefb 93.5px,#fffaf0 112.5px,#fff0d5 137.5px,#ffe9c0 153.5px,#ffe1ab 165.5px,#ffd891 176.5px,#ffcc6d 189.5px,#ffc457 196.5px,#ffbc40 201.5px,#ffb52c 204.5px,#ffae1a 206.5px,#ffa604 208.5px,#ff9f00 209.5px,#ff8100 212.5px,#ff3800 218.5px,#ff1900 221.5px,#ff0b00 223.5px,#ff0700 224.5px,#ff0500 225.5px,#ff0500 227.5px,#ff0900 228.5px,#ff0f00 229.5px,#ff1900 230.5px,#ff2700 231.5px,#ff3900 232.5px,#ff4e00 233.5px,#ff6500 234.5px,#ff9900 236.5px,#ffad16 237.5px,#ffc862 239.5px,#ffd383 240.5px,#ffdda0 241.5px,#ffe6b8 242.5px,#ffedcb 243.5px,#fff2da 244.5px,#fff6e6 245.5px,#fff9ee 246.5px,#fffbf4 247.5px,#fffefb 249.5px,#ffffff 254.5px)"></i>
<i style="background:linear-gradient(90deg,#ffffff 0.5px,#fffffe 67.5px,#fffefb 92.5px,#fffaf0 111.5px,#fff1d7 134.5px,#ffeac2 150.5px,#ffe3af 162.5px,#ffda97 173.5px,#ffce74 186.5px,#ffc459 195.5px,#ffbd44 200.5px,#ffb42a 204.5px,#ffae18 206.5px,#ffa602 208.5px,#ff9e00 209.5px,#ff7f00 212.5px,#ff3800 218.5px,#ff1900 221.5px,#ff0b00 223.5px,#ff0700 224.5px,#ff0500 225.5px,#ff0500 227.5px,#ff0900 228.5px,#ff0f00 229.5px,#ff1a00 230.5px,#ff2700 231.5px,#ff3900 232.5px,#ff4e00 233.5px,#ff6600 234.5px,#ff9a00 236.5px,#ffad18 237.5px,#ffc864 239.5px,#ffd485 240.5px,#ffdea2 241.5px,#ffe6b9 242.5px,#ffedcd 243.5px,#fff3dc 244.5px,#fff7e7 245.5px,#fff9ef 246.5px,#fffbf5 247.5px,#fffefb 249.5px,#ffffff 254.5px)"></i>
<i style="background:linear-gradient(90deg,#ffffff 0.5px,#fffffe 65.5px,#fffefb 90.5px,#fffaf1 109.5px,#fff2da 131.5px,#ffeac2 149.5px,#ffe3af 161.5px,#ffda97 172.5px,#ffcf78 184.5px,#ffc55a 194.5px,#ffbc42 200.5px,#ffb328 204.5px,#ffad16 206.5px,#ffa500 208.5px,#ff9300 210.5px,#ff7e00 212.5px,#ff3700 218.5px,#ff1800 221.5px,#ff0b00 223.5px,#ff0700 224.5px,#ff0500 225.5px,#ff0500 227.5px,#ff0900 228.5px,#ff1000 229.5px,#ff1a00 230.5px,#ff2800 231.5px,#ff3a00 232.5px,#ff4f00 233.5px,#ff6700 234.5px,#ff9b00 236.5px,#ffae1a 237.5px,#ffc966 239.5px,#ffd587 240.5px,#ffdfa3 241.5px,#ffe7bb 242.5px,#ffeece 243.5px,#fff3dd 244.5px,#fff7e8 245.5px,#fffaf0 246.5px,#fffcf5 247.5px,#fffefc 249.5px,#ffffff 254.5px)"></i>
<i style="background:linear-gradient(90deg,#ffffff 0.5px,#fffffe 64.5px,#fffefb 89.5px,#fffbf2 107.5px,#fff3dd 127.5px,#ffeac5 146.5px,#ffe4b2 158.5px,#ffdc9c 169.5px,#ffd281 180.5px,#ffc55b 193.5px,#ffbd45 199.5px,#ffb835 202.5px,#ffb326 204.5px,#ffa400 208.5px,#ff9200 210.5px,#ff7d00 212.5px,#ff3600 218.5px,#ff1800 221.5px,#ff0b00 223.5px,#ff0700 224.5px,#ff0500 225.5px,#ff0500 227.5px,#ff0900 228.5px,#ff1000 229.5px,#ff1a00 230.5px,#ff2800 231.5px,#ff3a00 232.5px,#ff4f00 233.5px,#ff6700 234.5px,#ff9c00 236.5px,#ffaf1c 237.5px,#ffbd44 238.5px,#ffca68 239.5px,#ffd589 240.5px,#ffdfa5 241.5px,#ffe8bd 242.5px,#ffeed0 243.5px,#fff3de 244.5px,#fff7e9 245.5px,#fffaf1 246.5px,#fffcf6 247.5px,#fffefc 249.5px,#ffffff 254.5px)"></i>
<i style="background:linear-gradient(90deg,#ffffff 0.5px,#fffffe 63.5px,#fffefb 88.5px,#fffbf2 106.5px,#fff4df 125.5px,#ffeac5 145.5px,#ffe4b2 157.5px,#ffdc9d 168.5px,#ffd381 179.5px,#ffc459 193.5px,#ffbd43 199.5px,#ffb42c 203.5px,#ffac12 206.5px,#ffa200 208.5px,#ff8700 211.5px,#ff3500 218.5px,#ff1800 221.5px,#ff0a00 223.5px,#ff0600 224.5px,#ff0400 225.5px,#ff0500 227.5px,#ff0900 228.5px,#ff1000 229.5px,#ff1a00 230.5px,#ff2800 231.5px,#ff3a00 232.5px,#ff5000 233.5px,#ff6800 234.5px,#ff9d00 236.5px,#ffaf1e 237.5px,#ffbe45 238.5px,#ffcb6a 239.5px,#ffd68b 240.5px,#ffe0a7 241.5px,#ffe8be 242.5px,#ffefd1 243.5px,#fff4df 244.5px,#fff8ea 245.5px,#fffaf1 246.5px,#fffcf7 247.5px,#fffefc 249.5px,#ffffff 254.5px)"></i>
<i style="background:linear-gradient(90deg,#ffffff 0.5px,#fffffe 61.5px,#fffefc 86.5px,#fffbf3 104.5px,#fff5e1 122.5px,#ffebc6 143.5px,#ffe4b2 156.5px,#ffdc9d 167.5px,#ffd485 177.5px,#ffc65d 191.5px,#ffbd45 198.5px,#ffb836 201.5px,#ffb42a 203.5px,#ffae1a 205.5px,#ffa706 207.5px,#ffa100 208.5px,#ff8600 211.5px,#ff3500 218.5px,#ff1700 221.5px,#ff0a00 223.5px,#ff0600 224.5px,#ff0400 225.5px,#ff0600 227.5px,#ff0900 228.5px,#ff1000 229.5px,#ff1a00 230.5px,#ff2900 231.5px,#ff3b00 232.5px,#ff5100 233.5px,#ff6900 234.5px,#ff9e00 236.5px,#ffb01f 237.5px,#ffbe47 238.5px,#ffcb6c 239.5px,#ffd78d 240.5px,#ffe1a9 241.5px,#ffe9c0 242.5px,#ffefd2 243.5px,#fff4e0 244.5px,#fff8eb 245.5px,#fffaf2 246.5px,#fffcf7 247.5px,#fffefc 249.5px,#ffffff 254.5px)"></i>
<i style="background:linear-gradient(90deg,#ffffff 0.5px,#fffffe 60.5px,#fffefc 85.5px,#fffbf4 103.5px,#fff5e3 120.5px,#ffe4b3 154.5px,#ffdd9f 165.5px,#ffd588 175.5px,#ffc65e 190.5px,#ffbd43 198.5px,#ffb734 201.5px,#ffb328 203.5px,#ffad18 205.5px,#ffa604 207.5px,#ffa000 208.5px,#ff8400 211.5px,#ff3400 218.5px,#ff1700 221.5px,#ff0a00 223.5px,#ff0600 224.5px,#ff0400 225.5px,#ff0600 227.5px,#ff0900 228.5px,#ff1000 229.5px,#ff1b00 230.5px,#ff2900 231.5px,#ff3b00 232.5px,#ff5100 233.5px,#ff6a00 234.5px,#ff9f00 236.5px,#ffb121 237.5px,#ffbf49 238.5px,#ffcc6e 239.5px,#ffd78f 240.5px,#ffe1ab 241.5px,#ffe9c2 242.5px,#fff0d4 243.5px,#fff5e1 244.5px,#fffbf3 246.5px,#fffcf7 247.5px,#fffefc 249.5px,#ffffff 254.5px)"></i>
<i style="background:linear-gradient(90deg,#ffffff 0.5px,#fffffe 59.5px,#fffefc 84.5px,#fffbf4 102.5px,#fff5e3 119.5px,#ffe4b3 153.5px,#ffdd9f 164.5px,#ffd588 174.5px,#ffc65e 189.5px,#ffbd45 197.5px,#ffb52c 202.5px,#ffad16 205.5px,#ffa602 207.5px,#ff9e00 208.5px,#ff8300 211.5px,#ff3300 218.5px,#ff1600 221.5px,#ff0a00 223.5px,#ff0600 224.5px,#ff0400 225.5px,#ff0600 227.5px,#ff0900 228.5px,#ff1000 229.5px,#ff1b00 230.5px,#ff2a00 231.5px,#ff3c00 232.5px,#ff5200 233.5px,#ff6a00 234.5px,#ffa000 236.5px,#ffb123 237.5px,#ffc04b 238.5px,#ffcd70 239.5px,#ffd891 240.5px,#ffe2ac 241.5px,#ffeac3 242.5px,#fff0d5 243.5px,#fff5e2 244.5px,#fffbf3 246.5px,#fffefd 249.5px,#ffffff 254.5px)"></i>
<i style="background:linear-gradient(90deg,#ffffff 0.5px,#fffffe 59.5px,#fffefc 84.5px,#fffbf4 101.5px,#fff5e3 118.5px,#ffe4b1 153.5px,#ffdc9d 164.5px,#ffd486 174.5px,#ffc459 190.5px,#ffbb3e 198.5px,#ffb630 201.5px,#ffb123 203.5px,#ffac13 205.5px,#ffa500 207.5px,#ff9500 209.5px,#ff8200 211.5px,#ff3200 218.5px,#ff1600 221.5px,#ff0900 223.5px,#ff0600 224.5px,#ff0400 225.5px,#ff0600 227.5px,#ff0900 228.5px,#ff1000 229.5px,#ff1b00 230.5px,#ff2a00 231.5px,#ff3c00 232.5px,#ff5200 233.5px,#ff6b00 234.5px,#ffa200 236.5px,#ffb225 237.5px,#ffc04d 238.5px,#ffcd72 239.5px,#ffd992 240.5px,#ffe2ae 241.5px,#ffeac4 242.5px,#fff1d6 243.5px,#fff5e3 244.5px,#fffbf4 246.5px,#fffefd 249.5px,#ffffff 254.5px)"></i>
<i style="background:linear-gradient(90deg,#ffffff 0.5px,#fffffe 57.5px,#fffefc 82.5px,#fffbf4 100.5px,#fff6e5 116.5px,#ffe3b1 152.5px,#ffdc9d 163.5px,#ffd486 173.5px,#ffc65d 188.5px,#ffbc40 197.5px,#ffb328 202.5px,#ffae1a 204.5px,#ffa300 207.5px,#ff9300 209.5px,#ff8100 211.5px,#ff3200 218.5px,#ff1500 221.5px,#ff0900 223.5px,#ff0600 224.5px,#ff0400 225.5px,#ff0600 227.5px,#ff0a00 228.5px,#ff1100 229.5px,#ff1b00 230.5px,#ff2a00 231.5px,#ff3d00 232.5px,#ff5300 233.5px,#ff6c00 234.5px,#ffa300 236.5px,#ffc14f 238.5px,#ffce74 239.5px,#ffd994 240.5px,#ffe3af 241.5px,#ffebc6 242.5px,#fff1d7 243.5px,#fff6e4 244.5px,#fffbf4 246.5px,#fffefd 249.5px,#ffffff 254.5px)"></i>
<i style="background:linear-gradient(90deg,#ffffff 0.5px,#fffffe 57.5px,#fffefc 82.5px,#fffbf4 99.5px,#fff6e5 115.5px,#ffe3af 152.5px,#ffdc9c 162.5px,#ffd486 172.5px,#ffc55a 188.5px,#ffbb3d 197.5px,#ffb225 202.5px,#ffad17 204.5px,#ffa706 206.5px,#ffa200 207.5px,#ff7f00 211.5px,#ff3100 218.5px,#ff1500 221.5px,#ff0900 223.5px,#ff0600 224.5px,#ff0400 225.5px,#ff0600 227.5px,#ff0a00 228.5px,#ff1100 229.5px,#ff1c00 230.5px,#ff2b00 231.5px,#ff3d00 232.5px,#ff5400 233.5px,#ff6d00 234.5px,#ffa400 236.5px,#ffc151 238.5px,#ffce75 239.5px,#ffda96 240.5px,#ffe3b1 241.5px,#ffebc7 242.5px,#fff1d8 243.5px,#fff6e5 244.5px,#fffbf5 246.5px,#fffefd 249.5px,#ffffff 254.5px)"></i>
<i style="background:linear-gradient(90deg,#ffffff 0.5px,#fffffe 56.5px,#fffefc 81.5px,#fffbf5 98.5px,#fff6e5 114.5px,#ffe3ae 151.5px,#ffdc9c 161.5px,#ffd486 171.5px,#ffc55a 187.5px,#ffba3b 197.5px,#ffb123 202.5px,#ffac15 204.5px,#ffa603 206.5px,#ffa000 207.5px,#ff7e00 211.5px,#ff3000 218.5px,#ff1500 221.5px,#ff0900 223.5px,#ff0600 224.5px,#ff0400 225.5px,#ff0600 227.5px,#ff0a00 228.5px,#ff1100 229.5px,#ff1c00 230.5px,#ff2b00 231.5px,#ff3e00 232.5px,#ff5400 233.5px,#ff6e00 234.5px,#ffa500 236.5px,#ffc252 238.5px,#ffcf77 239.5px,#ffda97 240.5px,#ffe4b2 241.5px,#ffecc8 242.5px,#fff2d9 243.5px,#fff6e6 244.5px,#fffcf5 246.5px,#fffefd 249.5px,#ffffff 254.5px)"></i>
<i style="background:linear-gradient(90deg,#ffffff 0.5px,#fffffe 55.5px,#fffefc 80.5px,#fffbf5 97.5px,#fff6e7 112.5px,#ffe2ae 150.5px,#ffdb9a 161.5px,#ffd486 170.5px,#ffc863 183.5px,#ffba3c 196.5px,#ffb226 201.5px,#ffab12 204.5px,#ffa501 206.5px,#ff9f00 207.5px,#ff7d00 211.5px,#ff2f00 218.5px,#ff1400 221.5px,#ff0900 223.5px,#ff0500 224.5px,#ff0600 227.5px,#ff0a00 228.5px,#ff1100 229.5px,#ff1c00 230.5px,#ff2b00 231.5px,#ff3f00 232.5px,#ff5500 233.5px,#ffa501 236.5px,#ffc354 238.5px,#ffd079 239.5px,#ffdb99 240.5px,#ffe4b4 241.5px,#ffecc9 242.5px,#fff2da 243.5px,#fff6e7 244.5px,#fffcf5 246.5px,#fffefd 249.5px,#ffffff 254.5px)"></i>
<i style="background:linear-gradient(90deg,#ffffff 0.5px,#fffffe 55.5px,#fffefc 80.5px,#fffbf4 97.5px,#fff6e6 112.5px,#ffe2ac 150.5px,#ffdb98 161.5px,#ffd384 170.5px,#ffc761 183.5px,#ffb939 196.5px,#ffb224 201.5px,#ffad17 203.5px,#ffa400 206.5px,#ff9600 208.5px,#ff7b00 211.5px,#ff2f00 218.5px,#ff1400 221.5px,#ff0800 223.5px,#ff0500 224.5px,#ff0600 227.5px,#ff0a00 228.5px,#ff1100 229.5px,#ff1d00 230.5px,#ff2c00 231.5px,#ff3f00 232.5px,#ff5600 233.5px,#ff8b00 235.5px,#ffa602 236.5px,#ffc355 238.5px,#ffd07a 239.5px,#ffdb9a 240.5px,#ffe5b5 241.5px,#ffecca 242.5px,#fff2db 243.5px,#fff7e7 244.5px,#fffcf6 246.5px,#fffefd 249.5px,#ffffff 254.5px)"></i>
<i style="background:linear-gradient(90deg,#ffffff 0.5px,#fffffe 54.5px,#fffefc 79.5px,#fffbf4 96.5px,#fff6e6 111.5px,#ffe2ac 149.5px,#ffdb98 160.5px,#ffd484 169.5px,#ffc761 182.5px,#ffb837 196.5px,#ffb121 201.5px,#ffaa0d 204.5px,#ffa705 205.5px,#ffa200 206.5px,#ff9400 208.5px,#ff7a00 211.5px,#ff2e00 218.5px,#ff1300 221.5px,#ff0800 223.5px,#ff0500 224.5px,#ff0600 227.5px,#ff0a00 228.5px,#ff1200 229.5px,#ff1d00 230.5px,#ff2c00 231.5px,#ff4000 232.5px,#ff5600 233.5px,#ff8b00 235.5px,#ffa604 236.5px,#ffc457 238.5px,#ffd17b 239.5px,#ffdc9b 240.5px,#ffe5b6 241.5px,#ffedcb 242.5px,#fff3dc 243.5px,#fff7e8 244.5px,#fffcf6 246.5px,#fffefd 249.5px,#ffffff 254.5px)"></i>
<i style="background:linear-gradient(90deg,#ffffff 0.5px,#fffefd 73.5px,#fffcf7 90.5px,#fff9ee 103.5px,#fff1d7 121.5px,#ffdb9a 158.5px,#ffcf77 173.5px,#ffbb3e 193.5px,#ffb631 197.5px,#ffb224 200.5px,#ffab12 203.5px,#ffa603 205.5px,#ffa100 206.5px,#ff9300 208.5px,#ff7800 211.5px,#ff2d00 218.5px,#ff1b00 220.5px,#ff0d00 222.5px,#ff0800 223.5px,#ff0400 225.5px,#ff0600 227.5px,#ff0a00 228.5px,#ff1200 229.5px,#ff1d00 230.5px,#ff2d00 231.5px,#ff4000 232.5px,#ff5700 233.5px,#ff8c00 235.5px,#ffa705 236.5px,#ffc458 238.5px,#ffd17d 239.5px,#ffdc9c 240.5px,#ffe6b7 241.5px,#ffedcc 242.5px,#fff3dc 243.5px,#fff7e8 244.5px,#fffaf1 245.5px,#fffdfa 247.5px,#fffffe 250.5px,#ffffff 254.5px)"></i>
<i style="background:linear-gradient(90deg,#ffffff 0.5px,#fffefc 73.5px,#fffcf7 90.5px,#fff9ed 103.5px,#fff0d5 121.5px,#ffda97 158.5px,#ffce75 173.5px,#ffba3c 193.5px,#ffb52e 197.5px,#ffb121 200.5px,#ffaa0f 203.5px,#ffa500 205.5px,#ff9100 208.5px,#ff8000 210.5px,#ff6300 213.5px,#ff2c00 218.5px,#ff1a00 220.5px,#ff0d00 222.5px,#ff0800 223.5px,#ff0400 225.5px,#ff0600 227.5px,#ff0b00 228.5px,#ff1200 229.5px,#ff1e00 230.5px,#ff2d00 231.5px,#ff4100 232.5px,#ff5800 233.5px,#ff8d00 235.5px,#ffa707 236.5px,#ffc55a 238.5px,#ffd17e 239.5px,#ffdd9d 240.5px,#ffe6b8 241.5px,#ffedcd 242.5px,#fff3dd 243.5px,#fff7e9 244.5px,#fffaf1 245.5px,#fffdfa 247.5px,#fffffe 250.5px,#ffffff 254.5px)"></i>
<i style="background:linear-gradient(90deg,#ffffff 0.5px,#fffefc 72.5px,#fffcf7 89.5px,#fff9ed 102.5px,#fff0d5 120.5px,#ffda95 158.5px,#ffcd73 173.5px,#ffb939 193.5px,#ffb42b 197.5px,#ffb01e 200.5px,#ffa300 205.5px,#ff9000 208.5px,#ff7f00 210.5px,#ff6c00 212.5px,#ff2c00 218.5px,#ff1a00 220.5px,#ff0800 223.5px,#ff0400 225.5px,#ff0600 227.5px,#ff0b00 228.5px,#ff1300 229.5px,#ff1e00 230.5px,#ff2e00 231.5px,#ff4200 232.5px,#ff5900 233.5px,#ff8e00 235.5px,#ffa808 236.5px,#ffc55b 238.5px,#ffd27f 239.5px,#ffdd9e 240.5px,#ffe6b8 241.5px,#ffedcd 242.5px,#fff3dd 243.5px,#fff7e9 244.5px,#fffaf1 245.5px,#fffdfa 247.5px,#fffffe 250.5px,#ffffff 254.5px)"></i>
<i style="background:linear-gradient(90deg,#ffffff 0.5px,#fffefc 72.5px,#fffcf7 89.5px,#fff9ed 102.5px,#fff0d6 119.5px,#ffd993 158.5px,#ffcd70 173.5px,#ffb836 193.5px,#ffb020 199.5px,#ffab10 202.5px,#ffa603 204.5px,#ffa100 205.5px,#ff8e00 208.5px,#ff7d00 210.5px,#ff6a00 212.5px,#ff2b00 218.5px,#ff1900 220.5px,#ff0800 223.5px,#ff0400 225.5px,#ff0600 227.5px,#ff0b00 228.5px,#ff1300 229.5px,#ff1f00 230.5px,#ff2f00 231.5px,#ff4200 232.5px,#ff5900 233.5px,#ff8f00 235.5px,#ffa809 236.5px,#ffc55c 238.5px,#ffd280 239.5px,#ffdd9f 240.5px,#ffe6b9 241.5px,#ffeece 242.5px,#fff3de 243.5px,#fff7e9 244.5px,#fffaf1 245.5px,#fffdfa 247.5px,#fffffe 250.5px,#ffffff 254.5px)"></i>
<i style="background:linear-gradient(90deg,#ffffff 0.5px,#fffefc 72.5px,#fffcf6 89.5px,#fff8ec 102.5px,#fff0d4 119.5px,#ffd78f 159.5px,#ffcc6d 173.5px,#ffb733 193.5px,#ffb121 198.5px,#ffac13 201.5px,#ffa500 204.5px,#ffa000 205.5px,#ff8c00 208.5px,#ff7c00 210.5px,#ff2a00 218.5px,#ff1900 220.5px,#ff0800 223.5px,#ff0400 225.5px,#ff0600 227.5px,#ff0b00 228.5px,#ff1300 229.5px,#ff1f00 230.5px,#ff2f00 231.5px,#ff4300 232.5px,#ff5a00 233.5px,#ff9000 235.5px,#ffa90b 236.5px,#ffc65d 238.5px,#ffd281 239.5px,#ffdda0 240.5px,#ffe7ba 241.5px,#ffeece 242.5px,#fff3de 243.5px,#fff7e9 244.5px,#fffaf1 245.5px,#fffdfa 247.5px,#fffffe 250.5px,#ffffff 254.5px)"></i>
<i style="background:linear-gradient(90deg,#ffffff 0.5px,#fffefc 71.5px,#fffcf6 88.5px,#fff8ec 101.5px,#fff0d4 118.5px,#ffd68c 159.5px,#ffcb6b 173.5px,#ffb630 193.5px,#ffb01e 198.5px,#ffab10 201.5px,#ffa604 203.5px,#ffa300 204.5px,#ff9e00 205.5px,#ff8a00 208.5px,#ff7a00 210.5px,#ff2a00 218.5px,#ff1800 220.5px,#ff0700 223.5px,#ff0400 225.5px,#ff0700 227.5px,#ff0b00 228.5px,#ff1400 229.5px,#ff2000 230.5px,#ff3000 231.5px,#ff4400 232.5px,#ff5b00 233.5px,#ff9100 235.5px,#ffa90c 236.5px,#ffc65e 238.5px,#ffd381 239.5px,#ffdea0 240.5px,#ffe7ba 241.5px,#ffeece 242.5px,#fff3de 243.5px,#fff7e9 244.5px,#fffaf1 245.5px,#fffdfa 247.5px,#fffffe 250.5px,#ffffff 254.5px)"></i>
<i style="background:linear-gradient(90deg,#ffffff 0.5px,#fffefc 70.5px,#fffcf6 87.5px,#fff8ec 100.5px,#fff1d6 116.5px,#ffd68c 158.5px,#ffcb6b 172.5px,#ffb62f 192.5px,#ffad16 199.5px,#ffa500 203.5px,#ff9c00 205.5px,#ff8800 208.5px,#ff7800 210.5px,#ff2900 218.5px,#ff1800 220.5px,#ff0700 223.5px,#ff0400 225.5px,#ff0700 227.5px,#ff0c00 228.5px,#ff1400 229.5px,#ff2000 230.5px,#ff3100 231.5px,#ff4500 232.5px,#ff5c00 233.5px,#ff9100 235.5px,#ffaa0d 236.5px,#ffc65f 238.5px,#ffd382 239.5px,#ffdea1 240.5px,#ffe7ba 241.5px,#ffeece 242.5px,#fff3de 243.5px,#fff7e9 244.5px,#fffaf1 245.5px,#fffdfa 247.5px,#fffffe 250.5px,#ffffff 254.5px)"></i>
<i style="background:linear-gradient(90deg,#ffffff 0.5px,#fffefc 70.5px,#fffcf6 87.5px,#fff8eb 100.5px,#fff0d4 116.5px,#ffd587 159.5px,#ffc965 173.5px,#ffb52c 192.5px,#ffad17 198.5px,#ffa300 203.5px,#ff9900 205.5px,#ff8600 208.5px,#ff7700 210.5px,#ff2800 218.5px,#ff1700 220.5px,#ff0700 223.5px,#ff0400 225.5px,#ff0700 227.5px,#ff0c00 228.5px,#ff1500 229.5px,#ff2100 230.5px,#ff3100 231.5px,#ff4500 232.5px,#ff5d00 233.5px,#ff9200 235.5px,#ffaa0e 236.5px,#ffc75f 238.5px,#ffd382 239.5px,#ffdea1 240.5px,#ffe7ba 241.5px,#ffeece 242.5px,#fff3de 243.5px,#fff7e9 244.5px,#fffaf1 245.5px,#fffdfa 247.5px,#fffffe 250.5px,#ffffff 254.5px)"></i>
<i style="background:linear-gradient(90deg,#ffffff 0.5px,#fffefc 70.5px,#fffcf5 87.5px,#fff8ea 100.5px,#ffefd3 116.5px,#ffd484 159.5px,#ffc862 173.5px,#ffb328 192.5px,#ffac14 198.5px,#ffa500 202.5px,#ff9700 205.5px,#ff8500 208.5px,#ff7500 210.5px,#ff2700 218.5px,#ff1700 220.5px,#ff0700 223.5px,#ff0400 225.5px,#ff0700 227.5px,#ff0c00 228.5px,#ff1500 229.5px,#ff2200 230.5px,#ff3200 231.5px,#ff4600 232.5px,#ff5e00 233.5px,#ff9300 235.5px,#ffaa0f 236.5px,#ffc760 238.5px,#ffd383 239.5px,#ffdea1 240.5px,#ffe7ba 241.5px,#ffeece 242.5px,#fff3de 243.5px,#fff7e9 244.5px,#fffaf1 245.5px,#fffdfa 247.5px,#fffffe 250.5px,#ffffff 254.5px)"></i>
<i style="background:linear-gradient(90deg,#ffffff 0.5px,#fffefc 69.5px,#fffcf6 86.5px,#fff8eb 99.5px,#fff0d5 114.5px,#ffd484 158.5px,#ffc862 172.5px,#ffb328 191.5px,#ffac14 197.5px,#ffa602 201.5px,#ff9500 205.5px,#ff8300 208.5px,#ff7300 210.5px,#ff3000 217.5px,#ff1600 220.5px,#ff0700 223.5px,#ff0400 225.5px,#ff0700 227.5px,#ff0d00 228.5px,#ff1600 229.5px,#ff2200 230.5px,#ff3300 231.5px,#ff4700 232.5px,#ff5f00 233.5px,#ff9400 235.5px,#ffab10 236.5px,#ffc760 238.5px,#ffd383 239.5px,#ffdea1 240.5px,#ffe7ba 241.5px,#ffeece 242.5px,#fff3dd 243.5px,#fff7e9 244.5px,#fffaf1 245.5px,#fffdfa 247.5px,#fffffe 250.5px,#ffffff 254.5px)"></i>
<i style="background:linear-gradient(90deg,#ffffff 0.5px,#fffefc 68.5px,#fffcf6 85.5px,#fff8eb 98.5px,#fff0d3 114.5px,#ffd381 158.5px,#ffc65f 172.5px,#ffb327 190.5px,#ffac14 196.5px,#ffa400 201.5px,#ff9300 205.5px,#ff8000 208.5px,#ff7100 210.5px,#ff2f00 217.5px,#ff1600 220.5px,#ff0700 223.5px,#ff0400 225.5px,#ff0800 227.5px,#ff0d00 228.5px,#ff1600 229.5px,#ff2300 230.5px,#ff3400 231.5px,#ff4800 232.5px,#ff6000 233.5px,#ff9500 235.5px,#ffab11 236.5px,#ffc760 238.5px,#ffd382 239.5px,#ffdea0 240.5px,#ffe6b9 241.5px,#ffedcd 242.5px,#fff3dd 243.5px,#fff7e8 244.5px,#fffaf0 245.5px,#fffdfa 247.5px,#fffffe 250.5px,#ffffff 254.5px)"></i>
<i style="background:linear-gradient(90deg,#ffffff 0.5px,#fffefc 67.5px,#fffcf6 83.5px,#fff8ec 96.5px,#fff0d5 112.5px,#ffd484 155.5px,#ffc966 168.5px,#ffbc40 181.5px,#ffad17 194.5px,#ffa500 200.5px,#ff9a00 203.5px,#ff8b00 206.5px,#ff7700 209.5px,#ff5e00 212.5px,#ff2500 218.5px,#ff1600 220.5px,#ff0a00 222.5px,#ff0500 224.5px,#ff0500 226.5px,#ff0800 227.5px,#ff0e00 228.5px,#ff1700 229.5px,#ff2400 230.5px,#ff3500 231.5px,#ff4900 232.5px,#ff6100 233.5px,#ff9500 235.5px,#ffab12 236.5px,#ffc760 238.5px,#ffd382 239.5px,#ffdda0 240.5px,#ffe6b8 241.5px,#ffedcc 242.5px,#fff3dc 243.5px,#fff7e7 244.5px,#fffaf0 245.5px,#fffdf9 247.5px,#fffffe 250.5px,#ffffff 254.5px)"></i>
<i style="background:linear-gradient(90deg,#ffffff 0.5px,#fffefc 66.5px,#fffcf6 82.5px,#fff8ec 95.5px,#fff0d5 111.5px,#ffd384 154.5px,#ffc966 167.5px,#ffbd43 179.5px,#ffac13 194.5px,#ffa500 199.5px,#ff9700 203.5px,#ff8900 206.5px,#ff7500 209.5px,#ff5c00 212.5px,#ff2400 218.5px,#ff1500 220.5px,#ff0a00 222.5px,#ff0500 224.5px,#ff0500 226.5px,#ff0800 227.5px,#ff0e00 228.5px,#ff1800 229.5px,#ff2500 230.5px,#ff3600 231.5px,#ff4a00 232.5px,#ff6200 233.5px,#ff9600 235.5px,#ffab12 236.5px,#ffc760 238.5px,#ffd381 239.5px,#ffdd9f 240.5px,#ffe6b7 241.5px,#ffedcb 242.5px,#fff2db 243.5px,#fff6e6 244.5px,#fff9ef 245.5px,#fffdf9 247.5px,#fffffe 250.5px,#ffffff 254.5px)"></i>
<i style="background:linear-gradient(90deg,#ffffff 0.5px,#fffffe 45.5px,#fffefb 69.5px,#fffbf4 85.5px,#fff6e6 99.5px,#ffeed0 113.5px,#ffcd72 161.5px,#ffc252 173.5px,#ffa500 198.5px,#ffa200 199.5px,#ff9100 204.5px,#ff7a00 208.5px,#ff6300 211.5px,#ff2400 218.5px,#ff0f00 221.5px,#ff0700 223.5px,#ff0600 226.5px,#ff0f00 228.5px,#ff1900 229.5px,#ff2600 230.5px,#ff3700 231.5px,#ff4c00 232.5px,#ff6300 233.5px,#ff9700 235.5px,#ffac13 236.5px,#ffc75f 238.5px,#ffd281 239.5px,#ffdd9e 240.5px,#ffe5b6 241.5px,#ffecca 242.5px,#fff2da 243.5px,#fff6e5 244.5px,#fff9ee 245.5px,#fffbf4 246.5px,#fffefb 248.5px,#ffffff 254.5px)"></i>
<i style="background:linear-gradient(90deg,#ffffff 0.5px,#fffffe 44.5px,#fffdfb 68.5px,#fffbf4 84.5px,#fff6e7 98.5px,#ffeed0 112.5px,#ffcc6e 161.5px,#ffc04b 174.5px,#ffa500 197.5px,#ff9200 203.5px,#ff7e00 207.5px,#ff6100 211.5px,#ff2300 218.5px,#ff0f00 221.5px,#ff0500 224.5px,#ff0600 226.5px,#ff0900 227.5px,#ff1000 228.5px,#ff1a00 229.5px,#ff2700 230.5px,#ff3800 231.5px,#ff4d00 232.5px,#ff6400 233.5px,#ff9700 235.5px,#ffac13 236.5px,#ffc65f 238.5px,#ffd280 239.5px,#ffdc9d 240.5px,#ffe5b5 241.5px,#ffecc9 242.5px,#fff1d8 243.5px,#fff6e4 244.5px,#fff9ed 245.5px,#fffbf3 246.5px,#fffdfb 248.5px,#fffefe 250.5px,#ffffff 254.5px)"></i>
<i style="background:linear-gradient(90deg,#ffffff 0.5px,#fffffe 44.5px,#fffdfb 67.5px,#fffbf3 84.5px,#fff6e7 97.5px,#ffeed0 111.5px,#ffcc6d 160.5px,#ffbf4b 173.5px,#ffa400 196.5px,#ff9300 202.5px,#ff7c00 207.5px,#ff5f00 211.5px,#ff2300 218.5px,#ff0f00 221.5px,#ff0600 224.5px,#ff0600 226.5px,#ff0a00 227.5px,#ff1100 228.5px,#ff1b00 229.5px,#ff2800 230.5px,#ff3a00 231.5px,#ff4e00 232.5px,#ff6500 233.5px,#ff9800 235.5px,#ffac14 236.5px,#ffc65e 238.5px,#ffd27f 239.5px,#ffdc9b 240.5px,#ffe4b3 241.5px,#ffebc7 242.5px,#fff1d7 243.5px,#fff5e3 244.5px,#fff8ec 245.5px,#fffbf3 246.5px,#fffdfa 248.5px,#fffefd 250.5px,#ffffff 254.5px)"></i>
<i style="background:linear-gradient(90deg,#ffffff 0.5px,#fffffe 43.5px,#fffdfb 66.5px,#fffbf3 83.5px,#fff6e7 96.5px,#ffeed0 110.5px,#ffca6a 160.5px,#ffbf4a 172.5px,#ffa602 194.5px,#ffa400 195.5px,#ff9400 201.5px,#ff8400 205.5px,#ff7300 208.5px,#ff6500 210.5px,#ff2a00 217.5px,#ff1400 220.5px,#ff0700 223.5px,#ff0700 226.5px,#ff0b00 227.5px,#ff1100 228.5px,#ff1c00 229.5px,#ff2a00 230.5px,#ff3b00 231.5px,#ff4f00 232.5px,#ff9800 235.5px,#ffac14 236.5px,#ffc65d 238.5px,#ffd17d 239.5px,#ffdb9a 240.5px,#ffe4b2 241.5px,#ffebc5 242.5px,#fff0d5 243.5px,#fff5e2 244.5px,#fff8eb 245.5px,#fffaf1 246.5px,#fffdf9 248.5px,#fffefd 250.5px,#ffffff 254.5px)"></i>
<i style="background:linear-gradient(90deg,#ffffff 0.5px,#fffffe 43.5px,#fffdfa 66.5px,#fffbf3 83.5px,#fff6e6 96.5px,#ffeece 110.5px,#ffc967 160.5px,#ffbf49 171.5px,#ffa501 193.5px,#ffa300 194.5px,#ff9400 200.5px,#ff8200 205.5px,#ff7100 208.5px,#ff6400 210.5px,#ff2a00 217.5px,#ff1400 220.5px,#ff0800 223.5px,#ff0700 226.5px,#ff0b00 227.5px,#ff1200 228.5px,#ff1d00 229.5px,#ff2b00 230.5px,#ff5100 232.5px,#ff9900 235.5px,#ffac14 236.5px,#ffc65c 238.5px,#ffd17c 239.5px,#ffdb98 240.5px,#ffe3b0 241.5px,#ffeac4 242.5px,#fff0d3 243.5px,#fff4e0 244.5px,#fff7e9 245.5px,#fffaf0 246.5px,#fffdf9 248.5px,#fffefd 250.5px,#ffffff 254.5px)"></i>
<i style="background:linear-gradient(90deg,#ffffff 0.5px,#fffffe 42.5px,#fffdfa 65.5px,#fffbf3 82.5px,#fff6e6 95.5px,#ffeece 109.5px,#ffc863 160.5px,#ffbc43 172.5px,#ffa500 192.5px,#ff9200 200.5px,#ff7f00 205.5px,#ff6f00 208.5px,#ff6200 210.5px,#ff2900 217.5px,#ff1400 220.5px,#ff0800 223.5px,#ff0700 225.5px,#ff0c00 227.5px,#ff1300 228.5px,#ff1e00 229.5px,#ff2c00 230.5px,#ff5200 232.5px,#ff9900 235.5px,#ffac14 236.5px,#ffc55b 238.5px,#ffd07b 239.5px,#ffda96 240.5px,#ffe2ae 241.5px,#ffe9c2 242.5px,#ffefd2 243.5px,#fff7e8 245.5px,#fffbf4 247.5px,#fffefc 250.5px,#fffffe 254.5px)"></i>
<i style="background:linear-gradient(90deg,#ffffff 0.5px,#fffffe 41.5px,#fffdfa 64.5px,#fffbf3 81.5px,#fff6e6 94.5px,#ffeece 108.5px,#ffc760 160.5px,#ffbc42 171.5px,#ffa602 190.5px,#ffa400 191.5px,#ff8f00 200.5px,#ff7d00 205.5px,#ff6000 210.5px,#ff2900 217.5px,#ff1400 220.5px,#ff0900 223.5px,#ff0700 225.5px,#ff0d00 227.5px,#ff1500 228.5px,#ff1f00 229.5px,#ff2e00 230.5px,#ff5400 232.5px,#ff9a00 235.5px,#ffac14 236.5px,#ffc55a 238.5px,#ffd079 239.5px,#ffd994 240.5px,#ffe2ac 241.5px,#ffe9c0 242.5px,#ffeed0 243.5px,#fff6e6 245.5px,#fffbf3 247.5px,#fffefc 250.5px,#fffffe 254.5px)"></i>
<i style="background:linear-gradient(90deg,#ffffff 0.5px,#fffffe 40.5px,#fffdfa 63.5px,#fffbf3 80.5px,#fff6e6 93.5px,#ffeece 107.5px,#ffdb99 131.5px,#ffc65e 159.5px,#ffbc41 170.5px,#ffa500 189.5px,#ffa300 190.5px,#ff8f00 199.5px,#ff7a00 205.5px,#ff5e00 210.5px,#ff2800 217.5px,#ff1500 220.5px,#ff0900 223.5px,#ff0800 225.5px,#ff0e00 227.5px,#ff1600 228.5px,#ff2100 229.5px,#ff2f00 230.5px,#ff5500 232.5px,#ff9a00 235.5px,#ffac14 236.5px,#ffc459 238.5px,#ffcf77 239.5px,#ffd992 240.5px,#ffe1aa 241.5px,#ffe8bd 242.5px,#ffeece 243.5px,#fff6e5 245.5px,#fffaf2 247.5px,#fffefb 250.5px,#fffffe 254.5px)"></i>
<i style="background:linear-gradient(90deg,#ffffff 0.5px,#fffffe 40.5px,#fffdfa 63.5px,#fffaf2 80.5px,#fff6e4 93.5px,#ffedcc 107.5px,#ffda95 131.5px,#ffc55b 159.5px,#ffba3d 170.5px,#ffa400 188.5px,#ff8c00 199.5px,#ff7800 205.5px,#ff5c00 210.5px,#ff2800 217.5px,#ff1500 220.5px,#ff0a00 223.5px,#ff0900 225.5px,#ff0f00 227.5px,#ff1700 228.5px,#ff2200 229.5px,#ff3100 230.5px,#ff5600 232.5px,#ff9b00 235.5px,#ffac15 236.5px,#ffc458 238.5px,#ffcf76 239.5px,#ffd891 240.5px,#ffe0a8 241.5px,#ffe7bb 242.5px,#ffedcc 243.5px,#fff5e3 245.5px,#fffaf1 247.5px,#fffdfb 250.5px,#fffefd 254.5px)"></i>
<i style="background:linear-gradient(90deg,#ffffff 0.5px,#fffffe 39.5px,#fffdfa 62.5px,#fffaf2 79.5px,#fff6e4 92.5px,#ffedcc 106.5px,#ffd892 131.5px,#ffc457 159.5px,#ffba3b 169.5px,#ffa501 186.5px,#ffa300 187.5px,#ff8c00 198.5px,#ff7a00 204.5px,#ff6100 209.5px,#ff2800 217.5px,#ff1500 220.5px,#ff0b00 223.5px,#ff0900 225.5px,#ff1000 227.5px,#ff1800 228.5px,#ff2400 229.5px,#ff3200 230.5px,#ff5800 232.5px,#ff9b00 235.5px,#ffac15 236.5px,#ffc457 238.5px,#ffce75 239.5px,#ffd78f 240.5px,#ffe0a6 241.5px,#ffe6b9 242.5px,#ffecca 243.5px,#fff5e1 245.5px,#fffaf0 247.5px,#fffdfa 250.5px,#fffefc 254.5px)"></i>
<i style="background:linear-gradient(90deg,#ffffff 0.5px,#fffffe 38.5px,#fffdfa 61.5px,#fffaf2 78.5px,#fff6e4 91.5px,#ffedcb 105.5px,#ffd78e 131.5px,#ffc252 159.5px,#ffb734 170.5px,#ffa400 185.5px,#ff8900 198.5px,#ff7700 204.5px,#ff5f00 209.5px,#ff2800 217.5px,#ff1600 220.5px,#ff0c00 223.5px,#ff0a00 225.5px,#ff1200 227.5px,#ff1a00 228.5px,#ff2500 229.5px,#ff3400 230.5px,#ff5900 232.5px,#ff9c00 235.5px,#ffac15 236.5px,#ffc356 238.5px,#ffce73 239.5px,#ffd78d 240.5px,#ffdfa4 241.5px,#ffe6b7 242.5px,#fff0d5 244.5px,#fff7e8 246.5px,#fffbf3 248.5px,#fffdf9 250.5px,#fffefc 254.5px)"></i>
<i style="background:linear-gradient(90deg,#fffffe 0.5px,#fffefc 9.5px,#fffffe 36.5px,#fffdfa 60.5px,#fffaf1 77.5px,#fff5e4 90.5px,#ffedcb 104.5px,#ffd68a 131.5px,#ffc150 158.5px,#ffb835 168.5px,#ffa501 183.5px,#ffa300 184.5px,#ff8300 199.5px,#ff7500 204.5px,#ff5d00 209.5px,#ff2800 217.5px,#ff1700 220.5px,#ff0d00 223.5px,#ff0b00 225.5px,#ff1300 227.5px,#ff1b00 228.5px,#ff2700 229.5px,#ff3600 230.5px,#ff5a00 232.5px,#ff9c00 235.5px,#ffac15 236.5px,#ffc355 238.5px,#ffd68c 240.5px,#ffdea2 241.5px,#ffe5b6 242.5px,#fff0d3 244.5px,#fff6e7 246.5px,#fffaf2 248.5px,#fffcf7 250.5px,#fffdfa 254.5px)"></i>
<i style="background:linear-gradient(90deg,#fffffe 0.5px,#fffefb 9.5px,#fffffe 25.5px,#fffdfa 59.5px,#fffaf1 76.5px,#fff5e3 89.5px,#ffecca 103.5px,#ffd485 131.5px,#ffbf4b 158.5px,#ffb62f 168.5px,#ffa400 182.5px,#ff8f00 191.5px,#ff7e00 200.5px,#ff7200 204.5px,#ff5c00 209.5px,#ff2800 217.5px,#ff1800 220.5px,#ff0e00 223.5px,#ff0d00 225.5px,#ff0f00 226.5px,#ff1400 227.5px,#ff1d00 228.5px,#ff2800 229.5px,#ff3700 230.5px,#ff5c00 232.5px,#ff9d00 235.5px,#ffac15 236.5px,#ffc354 238.5px,#ffd68a 240.5px,#ffdea0 241.5px,#ffe4b4 242.5px,#ffefd2 244.5px,#fff6e5 246.5px,#fffaf0 248.5px,#fffcf5 250.5px,#fffdf9 254.5px)"></i>
<i style="background:linear-gradient(90deg,#fffffe 0.5px,#fffdf9 9.5px,#fffffe 24.5px,#fffdfa 58.5px,#fffaf2 74.5px,#fff5e3 88.5px,#ffecc9 102.5px,#ffd383 130.5px,#ffbd45 158.5px,#ffb429 168.5px,#ffa500 180.5px,#ff8b00 191.5px,#ff7800 201.5px,#ff7000 204.5px,#ff5a00 209.5px,#ff2800 217.5px,#ff1800 220.5px,#ff0f00 223.5px,#ff0e00 225.5px,#ff1000 226.5px,#ff1600 227.5px,#ff1e00 228.5px,#ff2a00 229.5px,#ff4a00 231.5px,#ff7200 233.5px,#ff9d00 235.5px,#ffad15 236.5px,#ffc354 238.5px,#ffd589 240.5px,#ffe4b2 242.5px,#ffeed0 244.5px,#fff5e3 246.5px,#fff9ee 248.5px,#fffbf5 251.5px,#fffcf7 254.5px)"></i>
<i style="background:linear-gradient(90deg,#fffefd 0.5px,#fffcf6 9.5px,#fffffe 23.5px,#fffdfa 56.5px,#fffaf2 72.5px,#fff5e3 86.5px,#fff1d8 93.5px,#ffebc7 101.5px,#ffd17c 130.5px,#ffbb3e 158.5px,#ffb225 167.5px,#ffa500 178.5px,#ff8700 191.5px,#ff7500 201.5px,#ff6d00 204.5px,#ff5800 209.5px,#ff2900 217.5px,#ff1900 220.5px,#ff1000 223.5px,#ff0f00 225.5px,#ff1100 226.5px,#ff1700 227.5px,#ff2000 228.5px,#ff2b00 229.5px,#ff4b00 231.5px,#ff7300 233.5px,#ff9e00 235.5px,#ffad15 236.5px,#ffc253 238.5px,#ffd588 240.5px,#ffe3b1 242.5px,#ffeece 244.5px,#fff4e1 246.5px,#fff8eb 248.5px,#fffaf2 251.5px,#fffbf4 254.5px)"></i>
<i style="background:linear-gradient(90deg,#fffefc 0.5px,#fffaf2 9.5px,#fffbf3 12.5px,#fffefc 19.5px,#fffffe 23.5px,#fffdfa 54.5px,#fffaf2 70.5px,#fff5e3 84.5px,#fff1d8 91.5px,#ffebc7 99.5px,#ffce75 130.5px,#ffb836 158.5px,#ffb020 166.5px,#ffa400 176.5px,#ff7f00 192.5px,#ff6a00 204.5px,#ff5700 209.5px,#ff2900 217.5px,#ff1a00 220.5px,#ff1100 223.5px,#ff1000 225.5px,#ff1300 226.5px,#ff1800 227.5px,#ff2100 228.5px,#ff2d00 229.5px,#ff4c00 231.5px,#ff7400 233.5px,#ff9e00 235.5px,#ffad16 236.5px,#ffc253 238.5px,#ffd486 240.5px,#ffe3af 242.5px,#ffedcc 244.5px,#fff3de 246.5px,#fff7e8 248.5px,#fff9ef 251.5px,#fffaf2 254.5px)"></i>
<i style="background:linear-gradient(90deg,#fffefb 0.5px,#fff8ec 9.5px,#fff9ed 11.5px,#fffdfa 18.5px,#fffefd 22.5px,#fffdfa 52.5px,#fffaf2 68.5px,#fff5e3 82.5px,#fff0d6 90.5px,#ffe9c1 99.5px,#ffce73 127.5px,#ffb52c 158.5px,#ffae19 165.5px,#ffa500 173.5px,#ff7a00 192.5px,#ff6400 205.5px,#ff5000 210.5px,#ff2a00 217.5px,#ff1b00 220.5px,#ff1300 223.5px,#ff1200 225.5px,#ff1400 226.5px,#ff1a00 227.5px,#ff2300 228.5px,#ff2e00 229.5px,#ff4e00 231.5px,#ff7500 233.5px,#ff9e00 235.5px,#ffad16 236.5px,#ffc252 238.5px,#ffd485 240.5px,#ffe2ad 242.5px,#ffe8bd 243.5px,#fff0d3 245.5px,#fff4e0 247.5px,#fff7e9 250.5px,#fff9ee 254.5px)"></i>
<i style="background:linear-gradient(90deg,#fffdfa 0.5px,#fff7e7 7.5px,#fff6e5 9.5px,#fff7e8 12.5px,#fffdfa 19.5px,#fffefd 22.5px,#fffffe 27.5px,#fffdf8 57.5px,#fffaf0 69.5px,#fff5e4 79.5px,#fff1d6 87.5px,#ffeac5 95.5px,#ffe3af 103.5px,#ffc865 128.5px,#ffc14f 137.5px,#ffb225 156.5px,#ffaa0e 165.5px,#ffa400 170.5px,#ff7200 193.5px,#ff6100 205.5px,#ff5b00 207.5px,#ff4f00 210.5px,#ff5d00 211.5px,#ff5100 212.5px,#ff4800 213.5px,#ff2d00 217.5px,#ff1a00 221.5px,#ff1300 224.5px,#ff1500 226.5px,#ff1b00 227.5px,#ff2300 228.5px,#ff2f00 229.5px,#ff4e00 231.5px,#ff7400 233.5px,#ff9e00 235.5px,#ffac15 236.5px,#ffc251 238.5px,#ffd484 240.5px,#ffe2ad 242.5px,#ffedcb 244.5px,#fff4e0 246.5px,#fff9ee 248.5px,#fffdf8 251.5px,#fffefd 254.5px)"></i>
<i style="background:linear-gradient(90deg,#fffdf8 0.5px,#fff4df 7.5px,#fff2db 9.5px,#fff4df 12.5px,#fffbf2 17.5px,#fffdf8 19.5px,#fffefc 22.5px,#fffefe 25.5px,#fffdf8 55.5px,#fffaf1 66.5px,#fff6e5 76.5px,#ffefd3 86.5px,#ffe8bd 95.5px,#ffca6a 121.5px,#ffc150 130.5px,#ffad16 156.5px,#ffa602 164.5px,#ffa500 165.5px,#ff6900 194.5px,#ff5b00 206.5px,#ff4e00 210.5px,#ff5c00 211.5px,#ff3e00 215.5px,#ff2b00 218.5px,#ff1d00 221.5px,#ff1500 224.5px,#ff1800 226.5px,#ff1d00 227.5px,#ff3100 229.5px,#ff5000 231.5px,#ff7600 233.5px,#ff9f00 235.5px,#ffad17 236.5px,#ffc252 238.5px,#ffd485 240.5px,#ffe2ae 242.5px,#ffedcc 244.5px,#fff4e0 246.5px,#fff9ee 248.5px,#fffdf8 251.5px,#fffefd 254.5px)"></i>
<i style="background:linear-gradient(90deg,#fffcf6 0.5px,#fff9ee 2.5px,#fff0d3 7.5px,#ffeece 9.5px,#ffeece 10.5px,#fff0d4 12.5px,#fff9ee 17.5px,#fffcf6 19.5px,#fffdfa 21.5px,#fffefd 24.5px,#fffdf9 53.5px,#fffaf2 63.5px,#fff6e5 73.5px,#ffefd3 83.5px,#ffe7bb 92.5px,#ffdd9f 101.5px,#ffc55c 120.5px,#ffbb3e 130.5px,#ffb328 139.5px,#ffa500 158.5px,#ff8100 179.5px,#ff5f00 196.5px,#ff5600 206.5px,#ff4c00 210.5px,#ff5700 211.5px,#ff4e00 213.5px,#ff2800 219.5px,#ff1c00 222.5px,#ff1700 224.5px,#ff1a00 226.5px,#ff2000 227.5px,#ff3400 229.5px,#ff5300 231.5px,#ffa200 235.5px,#ffae1a 236.5px,#ffc355 238.5px,#ffd587 240.5px,#ffe3af 242.5px,#ffedcc 244.5px,#fff4e1 246.5px,#fff9ee 248.5px,#fffdf9 251.5px,#fffefd 254.5px)"></i>
<i style="background:linear-gradient(90deg,#fffbf3 0.5px,#fff7e8 2.5px,#ffebc5 7.5px,#ffe8be 9.5px,#ffe8bf 10.5px,#ffebc6 12.5px,#fff7e9 17.5px,#fffbf3 19.5px,#fffdf9 21.5px,#fffefd 24.5px,#fffefc 37.5px,#fffdf9 52.5px,#fffaf1 62.5px,#fff6e4 71.5px,#ffeed0 81.5px,#ffe4b3 91.5px,#ffda97 99.5px,#ffc04d 118.5px,#ffb62f 127.5px,#ffae1a 135.5px,#ffa500 147.5px,#ff9400 160.5px,#ff7700 179.5px,#ff5700 197.5px,#ff4f00 207.5px,#ff4900 210.5px,#ff5100 211.5px,#ff4b00 213.5px,#ff2500 220.5px,#ff1d00 222.5px,#ff1900 224.5px,#ff1d00 226.5px,#ff2300 227.5px,#ff3800 229.5px,#ff5700 231.5px,#ffa500 235.5px,#ffba3c 237.5px,#ffcd72 239.5px,#ffdd9e 241.5px,#ffe9c0 243.5px,#fff1d8 245.5px,#fff5e1 246.5px,#fff9ee 248.5px,#fffdf9 251.5px,#fffefd 254.5px)"></i>
<i style="background:linear-gradient(90deg,#fff9ef 0.5px,#fff5e2 2.5px,#ffe4b4 7.5px,#ffe1ab 9.5px,#ffe2ac 10.5px,#ffe5b5 12.5px,#fff5e3 17.5px,#fffaf0 19.5px,#fffcf8 21.5px,#fffefb 23.5px,#fffefd 30.5px,#fffdf9 50.5px,#fffbf2 59.5px,#fff6e5 68.5px,#ffeed0 78.5px,#ffe5b4 87.5px,#ffd992 96.5px,#ffbe48 113.5px,#ffb42b 120.5px,#ffac13 127.5px,#ffa500 134.5px,#ff9400 146.5px,#ff6b00 180.5px,#ff4f00 197.5px,#ff4900 208.5px,#ff4600 210.5px,#ff4c00 211.5px,#ff4300 214.5px,#ff2200 221.5px,#ff1b00 224.5px,#ff2000 226.5px,#ff2700 227.5px,#ff3c00 229.5px,#ff5b00 231.5px,#ff9500 234.5px,#ffa705 235.5px,#ffbc41 237.5px,#ffc65c 238.5px,#ffd78c 240.5px,#ffe4b3 242.5px,#ffeecf 244.5px,#fff5e2 246.5px,#fff9ef 248.5px,#fffdf9 251.5px,#fffefd 254.5px)"></i>
<i style="background:linear-gradient(90deg,#fff8eb 0.5px,#fff2da 2.5px,#ffe1aa 6.5px,#ffdd9f 7.5px,#ffdb98 8.5px,#ffd995 9.5px,#ffda95 10.5px,#ffdb99 11.5px,#ffdea1 12.5px,#fff2db 17.5px,#fff8ec 19.5px,#fffcf6 21.5px,#fffdfb 23.5px,#fffefd 29.5px,#fffdf9 50.5px,#fffaf2 58.5px,#fff6e5 66.5px,#ffecca 77.5px,#ffe0a7 87.5px,#ffd27f 96.5px,#ffb121 115.5px,#ffa500 123.5px,#ff9200 132.5px,#ff8300 142.5px,#ff6c00 165.5px,#ff5f00 181.5px,#ff4700 197.5px,#ff4100 210.5px,#ff4500 211.5px,#ff4400 212.5px,#ff3c00 215.5px,#ff2200 221.5px,#ff1d00 224.5px,#ff2300 226.5px,#ff3500 228.5px,#ff4100 229.5px,#ff6100 231.5px,#ff9900 234.5px,#ffa90c 235.5px,#ffbe47 237.5px,#ffc761 238.5px,#ffd890 240.5px,#ffdfa4 241.5px,#ffeac4 243.5px,#fff2db 245.5px,#fff5e3 246.5px,#fff9ef 248.5px,#fffdf9 251.5px,#fffefd 254.5px)"></i>
<i style="background:linear-gradient(90deg,#fff6e6 0.5px,#ffefd0 2.5px,#ffd995 6.5px,#ffd588 7.5px,#ffd27f 8.5px,#ffd07a 9.5px,#ffd07b 10.5px,#ffd280 11.5px,#ffd68a 12.5px,#ffefd2 17.5px,#fff7e7 19.5px,#fffbf4 21.5px,#fffdfa 23.5px,#fffefd 29.5px,#fffdf9 50.5px,#fffaf2 57.5px,#fff7e7 63.5px,#fff2d9 69.5px,#ffeccb 74.5px,#ffdfa4 84.5px,#ffd078 93.5px,#ffac13 111.5px,#ffa603 114.5px,#ffa400 115.5px,#ff8e00 122.5px,#ff8000 128.5px,#ff7400 134.5px,#ff6b00 141.5px,#ff6100 150.5px,#ff5a00 161.5px,#ff5400 181.5px,#ff3d00 199.5px,#ff3c00 204.5px,#ff3e00 212.5px,#ff3800 215.5px,#ff2600 220.5px,#ff1e00 223.5px,#ff2200 225.5px,#ff2800 226.5px,#ff3a00 228.5px,#ff4700 229.5px,#ff6700 231.5px,#ff9f00 234.5px,#ffac15 235.5px,#ffc04d 237.5px,#ffd27f 239.5px,#ffe0a8 241.5px,#ffebc6 243.5px,#fff3dc 245.5px,#fff6e4 246.5px,#fffaf0 248.5px,#fffdf9 251.5px,#fffefd 254.5px)"></i>
<i style="background:linear-gradient(90deg,#fff4e1 0.5px,#ffebc6 2.5px,#ffd17d 6.5px,#ffcc6e 7.5px,#ffc863 8.5px,#ffc65d 9.5px,#ffc65e 10.5px,#ffc864 11.5px,#ffcd70 12.5px,#ffd280 13.5px,#ffe6b8 16.5px,#fff1d7 18.5px,#fff8eb 20.5px,#fffcf6 22.5px,#fffdfb 24.5px,#fffefd 28.5px,#fffdf8 50.5px,#fffaf0 57.5px,#fff5e1 64.5px,#ffedcc 71.5px,#ffe5b5 77.5px,#ffdb9a 83.5px,#ffce73 90.5px,#ffa500 108.5px,#ff8200 117.5px,#ff6c00 124.5px,#ff5a00 132.5px,#ff4f00 140.5px,#ff4600 149.5px,#ff4200 159.5px,#ff4200 167.5px,#ff4800 178.5px,#ff4800 182.5px,#ff3900 195.5px,#ff3500 200.5px,#ff3800 212.5px,#ff3400 215.5px,#ff2200 221.5px,#ff2000 223.5px,#ff2600 225.5px,#ff2c00 226.5px,#ff4100 228.5px,#ff5d00 230.5px,#ff9300 233.5px,#ffa501 234.5px,#ffc355 237.5px,#ffd485 239.5px,#ffe2ac 241.5px,#ffecc9 243.5px,#fff3de 245.5px,#fffaf1 248.5px,#fffdfa 251.5px,#fffefd 254.5px)"></i>
<i style="background:linear-gradient(90deg,#fff2db 0.5px,#ffedcd 1.5px,#ffe7bb 2.5px,#ffc864 6.5px,#ffc251 7.5px,#ffbd44 8.5px,#ffbb3e 9.5px,#ffbb3e 10.5px,#ffbe46 11.5px,#ffc354 12.5px,#ffc967 13.5px,#ffe1aa 16.5px,#ffe8be 17.5px,#ffeecf 18.5px,#fff3dd 19.5px,#fff9ef 21.5px,#fffcf8 23.5px,#fffefc 26.5px,#fffdfa 44.5px,#fffcf7 51.5px,#fff8ec 58.5px,#fff2da 65.5px,#ffe9c0 72.5px,#ffdfa4 78.5px,#ffd17d 85.5px,#ffc355 91.5px,#ffa705 102.5px,#ffa400 103.5px,#ff7100 114.5px,#ff5300 122.5px,#ff3d00 130.5px,#ff2f00 139.5px,#ff2700 149.5px,#ff2700 158.5px,#ff2c00 166.5px,#ff3b00 178.5px,#ff3d00 182.5px,#ff2e00 199.5px,#ff2e00 204.5px,#ff3300 211.5px,#ff3200 213.5px,#ff2100 222.5px,#ff2500 224.5px,#ff2b00 225.5px,#ff3c00 227.5px,#ff4800 228.5px,#ff6500 230.5px,#ff9a00 233.5px,#ffa90b 234.5px,#ffc65d 237.5px,#ffd68b 239.5px,#ffe3b0 241.5px,#ffedcc 243.5px,#fff4e0 245.5px,#fffaf2 248.5px,#fffdfa 251.5px,#fffefd 254.5px)"></i>
<i style="background:linear-gradient(90deg,#fff0d5 0.5px,#ffeac4 1.5px,#ffe3af 2.5px,#ffda97 3.5px,#ffbf49 6.5px,#ffb733 7.5px,#ffb224 8.5px,#ffaf1c 9.5px,#ffaf1d 10.5px,#ffb326 11.5px,#ffb837 12.5px,#ffc04d 13.5px,#ffdc9c 16.5px,#ffe4b3 17.5px,#ffebc7 18.5px,#fff1d7 19.5px,#fff5e3 20.5px,#fff8ec 21.5px,#fffcf7 23.5px,#fffefb 25.5px,#fffefb 37.5px,#fffcf7 50.5px,#fffbf4 53.5px,#fff6e5 60.5px,#ffedcd 67.5px,#ffe2ad 74.5px,#ffd484 81.5px,#ffc04b 89.5px,#ffa602 98.5px,#ffa100 99.5px,#ff5700 113.5px,#ff3d00 119.5px,#ff2b00 124.5px,#ff1d00 129.5px,#ff1300 134.5px,#ff0c00 140.5px,#ff0700 147.5px,#ff0700 154.5px,#ff0d00 161.5px,#ff1700 167.5px,#ff2f00 178.5px,#ff3300 182.5px,#ff3200 186.5px,#ff2700 200.5px,#ff2d00 213.5px,#ff2300 220.5px,#ff2300 222.5px,#ff2a00 224.5px,#ff3000 225.5px,#ff4300 227.5px,#ff5000 228.5px,#ff6e00 230.5px,#ffa200 233.5px,#ffad17 234.5px,#ffc965 237.5px,#ffd891 239.5px,#ffe5b5 241.5px,#ffeecf 243.5px,#fff5e2 245.5px,#fffbf3 248.5px,#fffdfa 251.5px,#fffefd 254.5px)"></i>
<i style="background:linear-gradient(90deg,#ffeecf 0.5px,#ffe7bb 1.5px,#ffdfa4 2.5px,#ffd588 3.5px,#ffb52e 6.5px,#ffac15 7.5px,#ffa603 8.5px,#ffa100 9.5px,#ffa200 10.5px,#ffa706 11.5px,#ffae19 12.5px,#ffb733 13.5px,#ffd78d 16.5px,#ffe0a8 17.5px,#ffe8bf 18.5px,#ffefd1 19.5px,#fff4df 20.5px,#fff8ea 21.5px,#fffcf6 23.5px,#fffdfb 25.5px,#fffefc 29.5px,#fffcf7 50.5px,#fffaf1 54.5px,#fff7e7 58.5px,#fff1d7 63.5px,#ffe8bd 69.5px,#ffdc9c 75.5px,#ffce73 81.5px,#ffc04c 86.5px,#ffa706 94.5px,#ffa300 95.5px,#ff5a00 107.5px,#ff3300 114.5px,#ff1300 121.5px,#ff0100 126.5px,#fd0000 127.5px,#ed0000 131.5px,#e00000 136.5px,#d80000 142.5px,#d50000 147.5px,#d70000 152.5px,#e00000 157.5px,#ea0000 161.5px,#ff0100 167.5px,#ff2300 178.5px,#ff2a00 183.5px,#ff2900 187.5px,#ff2200 199.5px,#ff2200 204.5px,#ff2800 212.5px,#ff2400 221.5px,#ff2a00 223.5px,#ff2f00 224.5px,#ff4000 226.5px,#ff4c00 227.5px,#ff6700 229.5px,#ff9900 232.5px,#ffa808 233.5px,#ffc457 236.5px,#ffd484 238.5px,#ffdb98 239.5px,#ffe1aa 240.5px,#ffebc7 242.5px,#fff3dc 244.5px,#fffaef 247.5px,#fffdf9 250.5px,#fffefe 254.5px)"></i>
<i style="background:linear-gradient(90deg,#ffecc9 0.5px,#ffe4b3 1.5px,#ffdb98 2.5px,#ffd079 3.5px,#ffac14 6.5px,#ffa000 7.5px,#ff9300 8.5px,#ff8c00 9.5px,#ff8d00 10.5px,#ff9500 11.5px,#ffa300 12.5px,#ffae19 13.5px,#ffd27f 16.5px,#ffdc9d 17.5px,#ffe6b7 18.5px,#ffedcc 19.5px,#fff2dc 20.5px,#fff7e7 21.5px,#fff9ef 22.5px,#fffdf8 24.5px,#fffefb 26.5px,#fffefc 29.5px,#fffcf6 50.5px,#fff7e8 57.5px,#ffefd3 63.5px,#ffe5b5 69.5px,#ffd890 75.5px,#ffc862 81.5px,#ffb837 86.5px,#ffa807 91.5px,#ffa300 92.5px,#ff3200 109.5px,#ff1400 114.5px,#fe0000 118.5px,#e20000 122.5px,#d00000 125.5px,#c20000 128.5px,#b60000 131.5px,#ae0000 134.5px,#a70000 138.5px,#a10000 146.5px,#a70000 152.5px,#b70000 158.5px,#d10000 164.5px,#ff0100 172.5px,#ff1800 178.5px,#ff2200 183.5px,#ff2300 187.5px,#ff1d00 200.5px,#ff2500 212.5px,#ff2400 220.5px,#ff2f00 223.5px,#ff3600 224.5px,#ff4900 226.5px,#ff7100 229.5px,#ffa200 232.5px,#ffad16 233.5px,#ffc761 236.5px,#ffd78d 238.5px,#ffe3b0 240.5px,#ffedcb 242.5px,#fff4df 244.5px,#fffaf1 247.5px,#fffdf9 250.5px,#fffffe 254.5px)"></i>
<i style="background:linear-gradient(90deg,#ffeac3 0.5px,#ffe1ab 1.5px,#ffd78e 2.5px,#ffcb6b 3.5px,#ffb01f 5.5px,#ffa200 6.5px,#ff8e00 7.5px,#ff8000 8.5px,#ff7900 9.5px,#ff7a00 10.5px,#ff8200 11.5px,#ff9200 12.5px,#ffa602 13.5px,#ffcd72 16.5px,#ffd993 17.5px,#ffe3af 18.5px,#ffebc6 19.5px,#fff1d8 20.5px,#fff6e5 21.5px,#fff9ee 22.5px,#fffbf4 23.5px,#fffdfa 25.5px,#fffefc 29.5px,#fffcf6 50.5px,#fff6e6 57.5px,#fff0d3 62.5px,#ffe5b4 68.5px,#ffd994 73.5px,#ffc864 79.5px,#ffb837 84.5px,#ffa604 89.5px,#ffa100 90.5px,#ff2500 107.5px,#ff0400 112.5px,#fb0000 113.5px,#d70000 117.5px,#b70000 121.5px,#9e0000 125.5px,#8f0000 128.5px,#830000 131.5px,#780000 135.5px,#730000 139.5px,#700000 144.5px,#720000 148.5px,#770000 151.5px,#7f0000 154.5px,#8f0000 158.5px,#b00000 164.5px,#cc0000 168.5px,#fb0000 174.5px,#ff0200 175.5px,#ff1600 180.5px,#ff1d00 184.5px,#ff1e00 187.5px,#ff1a00 201.5px,#ff2500 219.5px,#ff3000 222.5px,#ff3e00 224.5px,#ff4800 225.5px,#ff6d00 228.5px,#ff9c00 231.5px,#ffa90b 232.5px,#ffc355 235.5px,#ffd382 237.5px,#ffda95 238.5px,#ffe5b6 240.5px,#ffeecf 242.5px,#fff5e1 244.5px,#fffaf2 247.5px,#fffdfa 250.5px,#fffffe 254.5px)"></i>
<i style="background:linear-gradient(90deg,#ffe8be 0.5px,#ffdfa4 1.5px,#ffd484 2.5px,#ffc75f 3.5px,#ffaa0d 5.5px,#ff9400 6.5px,#ff7f00 7.5px,#ff7000 8.5px,#ff6800 9.5px,#ff6900 10.5px,#ff7200 11.5px,#ff8300 12.5px,#ff9900 13.5px,#ffac15 14.5px,#ffc966 16.5px,#ffd68a 17.5px,#ffe1a9 18.5px,#ffe9c2 19.5px,#fff0d5 20.5px,#fff5e3 21.5px,#fff8ec 22.5px,#fffbf3 23.5px,#fffdf9 25.5px,#fffefc 29.5px,#fffcf6 50.5px,#fff7e8 56.5px,#fff0d5 61.5px,#ffe5b5 67.5px,#ffd993 72.5px,#ffc761 78.5px,#ffba3b 82.5px,#ffa707 87.5px,#ffa200 88.5px,#ff0000 109.5px,#ca0000 114.5px,#a50000 118.5px,#850000 122.5px,#6c0000 126.5px,#5a0000 130.5px,#4e0000 134.5px,#470000 138.5px,#450000 143.5px,#470000 147.5px,#4f0000 151.5px,#5a0000 154.5px,#6d0000 158.5px,#800000 161.5px,#9d0000 165.5px,#fe0000 176.5px,#ff1100 180.5px,#ff1900 184.5px,#ff1b00 188.5px,#ff1800 197.5px,#ff1900 203.5px,#ff2300 216.5px,#ff2900 219.5px,#ff3800 222.5px,#ff4800 224.5px,#ff6b00 227.5px,#ff9700 230.5px,#ffa602 231.5px,#ffc862 235.5px,#ffd68b 237.5px,#ffdd9d 238.5px,#ffe7bc 240.5px,#fff0d4 242.5px,#fff6e4 244.5px,#fffbf3 247.5px,#fffdfa 250.5px,#fffffe 254.5px)"></i>
<i style="background:linear-gradient(90deg,#ffe7bb 0.5px,#ffdd9f 1.5px,#ffd17d 2.5px,#ffc356 3.5px,#ffa400 5.5px,#ff8a00 6.5px,#ff7300 7.5px,#ff6300 8.5px,#ff5b00 9.5px,#ff5c00 10.5px,#ff6500 11.5px,#ff7700 12.5px,#ff8f00 13.5px,#ffa807 14.5px,#ffc65d 16.5px,#ffd384 17.5px,#ffdfa4 18.5px,#ffe8be 19.5px,#ffefd2 20.5px,#fff4e1 21.5px,#fff8eb 22.5px,#fffcf7 24.5px,#fffdfb 26.5px,#fffefc 29.5px,#fffcf5 50.5px,#fff6e7 56.5px,#ffefd2 61.5px,#ffe6b7 66.5px,#ffd994 71.5px,#ffc761 77.5px,#ffba3a 81.5px,#ffa604 86.5px,#ffa000 87.5px,#ff7000 93.5px,#ff0500 106.5px,#fa0000 107.5px,#c00000 112.5px,#8d0000 117.5px,#6a0000 121.5px,#4f0000 125.5px,#3a0000 129.5px,#2c0000 133.5px,#250000 137.5px,#220000 142.5px,#250000 146.5px,#2d0000 150.5px,#3d0000 154.5px,#530000 158.5px,#690000 161.5px,#820000 164.5px,#9e0000 167.5px,#e40000 174.5px,#ff0000 177.5px,#ff1100 181.5px,#ff1900 185.5px,#ff1b00 204.5px,#ff2300 214.5px,#ff2b00 218.5px,#ff3a00 221.5px,#ff5300 224.5px,#ff7700 227.5px,#ffa200 230.5px,#ffac13 231.5px,#ffc459 234.5px,#ffd383 236.5px,#ffe0a6 238.5px,#ffe5b5 239.5px,#ffeece 241.5px,#fff4e0 243.5px,#fffaf1 246.5px,#fffdf9 249.5px,#fffffe 254.5px)"></i>
<i style="background:linear-gradient(90deg,#ffe6b8 0.5px,#ffdc9b 1.5px,#ffcf78 2.5px,#ffc150 3.5px,#ffb123 4.5px,#ff9e00 5.5px,#ff8300 6.5px,#ff6b00 7.5px,#ff5a00 8.5px,#ff5200 9.5px,#ff5300 10.5px,#ff5d00 11.5px,#ff6f00 12.5px,#ff8800 13.5px,#ffa400 14.5px,#ffc457 16.5px,#ffd27f 17.5px,#ffdea1 18.5px,#ffe7bc 19.5px,#ffefd1 20.5px,#fff4e0 21.5px,#fff8eb 22.5px,#fffcf6 24.5px,#fffdfa 26.5px,#fffefc 29.5px,#fffcf5 50.5px,#fff7e9 55.5px,#fff0d6 60.5px,#ffe7ba 65.5px,#ffdb98 70.5px,#ffc965 76.5px,#ffbb3d 80.5px,#ffa706 85.5px,#ffa100 86.5px,#ff7100 92.5px,#ff0100 105.5px,#b70000 111.5px,#8a0000 115.5px,#5b0000 120.5px,#3d0000 124.5px,#260000 128.5px,#170000 132.5px,#0e0000 136.5px,#0b0000 141.5px,#0d0000 145.5px,#150000 149.5px,#250000 153.5px,#3c0000 157.5px,#520000 160.5px,#760000 164.5px,#e10000 174.5px,#fe0000 177.5px,#ff1200 181.5px,#ff1b00 185.5px,#ff1d00 189.5px,#ff1f00 204.5px,#ff2400 212.5px,#ff2c00 216.5px,#ff3700 219.5px,#ff4c00 222.5px,#ff6a00 225.5px,#ff9f00 229.5px,#ffaa0e 230.5px,#ffc252 233.5px,#ffd78e 236.5px,#ffe3ae 238.5px,#ffe7bc 239.5px,#ffefd3 241.5px,#fff5e3 243.5px,#fffbf2 246.5px,#fffdfa 249.5px,#fffffe 254.5px)"></i>
<i style="background:linear-gradient(90deg,#ffe6b7 0.5px,#ffdb9a 1.5px,#ffcf76 2.5px,#ffc04d 3.5px,#ffb020 4.5px,#ff9b00 5.5px,#ff7f00 6.5px,#ff6700 7.5px,#ff5600 8.5px,#ff4e00 9.5px,#ff4f00 10.5px,#ff5900 11.5px,#ff6c00 12.5px,#ff8400 13.5px,#ffa100 14.5px,#ffb328 15.5px,#ffc355 16.5px,#ffd17d 17.5px,#ffdd9f 18.5px,#ffe7bb 19.5px,#ffeed0 20.5px,#fff4e0 21.5px,#fff8ea 22.5px,#fffcf6 24.5px,#fffdfa 26.5px,#fffefc 29.5px,#fffbf5 50.5px,#fff7e9 55.5px,#fff0d5 60.5px,#ffe6b9 65.5px,#ffda96 70.5px,#ffc862 76.5px,#ffb93a 80.5px,#ffa602 85.5px,#ff6d00 92.5px,#ff0400 104.5px,#f80000 105.5px,#ad0000 111.5px,#760000 116.5px,#510000 120.5px,#320000 124.5px,#1b0000 128.5px,#0c0000 132.5px,#030000 136.5px,#000000 141.5px,#030000 145.5px,#0c0000 149.5px,#1d0000 153.5px,#360000 157.5px,#4e0000 160.5px,#6a0000 163.5px,#950000 167.5px,#f00000 175.5px,#fa0000 176.5px,#ff0300 177.5px,#ff1600 181.5px,#ff1c00 183.5px,#ff2100 186.5px,#ff2600 204.5px,#ff2b00 212.5px,#ff3100 215.5px,#ff3c00 218.5px,#ff5000 221.5px,#ff6c00 224.5px,#ff9e00 228.5px,#ffa90b 229.5px,#ffc761 233.5px,#ffdb98 236.5px,#ffe5b6 238.5px,#ffeece 240.5px,#fff6e6 243.5px,#fffbf4 246.5px,#fffdfb 249.5px,#fffffe 254.5px)"></i>
<i style="background:linear-gradient(90deg,#ffe6b7 0.5px,#ffdb9a 1.5px,#ffcf77 2.5px,#ffc04d 3.5px,#ffb020 4.5px,#ff9c00 5.5px,#ff8000 6.5px,#ff6800 7.5px,#ff5700 8.5px,#ff4f00 9.5px,#ff5000 10.5px,#ff5a00 11.5px,#ff6c00 12.5px,#ff8500 13.5px,#ffa200 14.5px,#ffb329 15.5px,#ffc355 16.5px,#ffd17d 17.5px,#ffdda0 18.5px,#ffe7bb 19.5px,#ffefd0 20.5px,#fff4e0 21.5px,#fff8eb 22.5px,#fffcf6 24.5px,#fffdfa 26.5px,#fffefc 29.5px,#fffbf5 50.5px,#fff7e9 55.5px,#fff0d5 60.5px,#ffe7ba 65.5px,#ffda97 70.5px,#ffc863 76.5px,#ffba3b 80.5px,#ffa603 85.5px,#ff9f00 86.5px,#ff7700 91.5px,#ff0600 104.5px,#fb0000 105.5px,#b00000 111.5px,#790000 116.5px,#540000 120.5px,#3d0000 123.5px,#240000 127.5px,#130000 131.5px,#090000 135.5px,#050000 140.5px,#070000 144.5px,#0f0000 148.5px,#1e0000 152.5px,#360000 156.5px,#4d0000 159.5px,#690000 162.5px,#940000 166.5px,#fc0000 175.5px,#ff0500 176.5px,#ff1b00 180.5px,#ff2200 182.5px,#ff2900 185.5px,#ff2c00 189.5px,#ff2e00 201.5px,#ff3300 211.5px,#ff3b00 215.5px,#ff4800 218.5px,#ff5d00 221.5px,#ff7a00 224.5px,#ff9f00 227.5px,#ffa90a 228.5px,#ffc65c 232.5px,#ffd993 235.5px,#ffe8be 238.5px,#fff0d4 240.5px,#fff7e9 243.5px,#fffcf5 246.5px,#fffefb 249.5px,#fffffe 254.5px)"></i>
<i style="background:linear-gradient(90deg,#ffe6b9 0.5px,#ffdc9d 1.5px,#ffd07a 2.5px,#ffc252 3.5px,#ffb226 4.5px,#ffa000 5.5px,#ff8500 6.5px,#ff6e00 7.5px,#ff5d00 8.5px,#ff5500 9.5px,#ff5600 10.5px,#ff6000 11.5px,#ff7200 12.5px,#ff8a00 13.5px,#ffa501 14.5px,#ffc559 16.5px,#ffd281 17.5px,#ffdea2 18.5px,#ffe8bd 19.5px,#ffefd1 20.5px,#fff4e1 21.5px,#fff8eb 22.5px,#fffcf6 24.5px,#fffdfb 26.5px,#fffefc 29.5px,#fffcf5 50.5px,#fff7ea 55.5px,#fff1d6 60.5px,#ffe7bc 65.5px,#ffdb99 70.5px,#ffc967 76.5px,#ffbc40 80.5px,#ffa400 86.5px,#ff7400 92.5px,#ff0600 105.5px,#fc0000 106.5px,#b50000 112.5px,#810000 117.5px,#5f0000 121.5px,#490000 124.5px,#330000 128.5px,#240000 132.5px,#1c0000 136.5px,#1a0000 140.5px,#1c0000 144.5px,#240000 148.5px,#340000 152.5px,#4b0000 156.5px,#630000 159.5px,#880000 163.5px,#b40000 167.5px,#f90000 173.5px,#ff0300 174.5px,#ff1700 177.5px,#ff2600 180.5px,#ff2e00 182.5px,#ff3500 185.5px,#ff3900 190.5px,#ff3f00 211.5px,#ff4400 214.5px,#ff5000 217.5px,#ff6300 220.5px,#ff7f00 223.5px,#ffa000 226.5px,#ffa90c 227.5px,#ffc55a 231.5px,#ffd88f 234.5px,#ffe7ba 237.5px,#ffeed0 239.5px,#fff6e7 242.5px,#fffbf4 245.5px,#fffefc 249.5px,#fffffe 254.5px)"></i>
<i style="background:linear-gradient(90deg,#ffe7bc 0.5px,#ffdea1 1.5px,#ffd280 2.5px,#ffc559 3.5px,#ffa704 5.5px,#ff8e00 6.5px,#ff7700 7.5px,#ff6800 8.5px,#ff6000 9.5px,#ff6000 10.5px,#ff6a00 11.5px,#ff7b00 12.5px,#ff9200 13.5px,#ffa90c 14.5px,#ffc761 16.5px,#ffd486 17.5px,#ffe0a6 18.5px,#ffe9c0 19.5px,#fff0d3 20.5px,#fff5e2 21.5px,#fff8ec 22.5px,#fffbf3 23.5px,#fffdf9 25.5px,#fffefc 29.5px,#fffcf6 50.5px,#fff7e8 56.5px,#fff0d4 61.5px,#ffe6b9 66.5px,#ffda97 71.5px,#ffc966 77.5px,#ffb836 82.5px,#ffa500 87.5px,#fe0000 108.5px,#d20000 112.5px,#aa0000 116.5px,#870000 120.5px,#6b0000 124.5px,#560000 128.5px,#480000 132.5px,#410000 136.5px,#3f0000 140.5px,#410000 144.5px,#490000 148.5px,#580000 152.5px,#680000 155.5px,#7c0000 158.5px,#9e0000 162.5px,#c60000 166.5px,#fd0000 171.5px,#ff2c00 178.5px,#ff3900 181.5px,#ff4200 184.5px,#ff4800 190.5px,#ff4d00 211.5px,#ff5200 214.5px,#ff5f00 217.5px,#ff6c00 219.5px,#ff8400 222.5px,#ffa400 225.5px,#ffab10 226.5px,#ffcb6b 231.5px,#ffdc9c 234.5px,#ffeac2 237.5px,#fff0d6 239.5px,#fff8ea 242.5px,#fffcf5 245.5px,#fffefc 249.5px,#ffffff 254.5px)"></i>
<i style="background:linear-gradient(90deg,#ffe9c0 0.5px,#ffe0a7 1.5px,#ffd588 2.5px,#ffc864 3.5px,#ffac14 5.5px,#ff9a00 6.5px,#ff8500 7.5px,#ff7600 8.5px,#ff6e00 9.5px,#ff6f00 10.5px,#ff7800 11.5px,#ff8800 12.5px,#ff9e00 13.5px,#ffaf1c 14.5px,#ffcb6b 16.5px,#ffd78e 17.5px,#ffe2ac 18.5px,#ffeac4 19.5px,#fff1d6 20.5px,#fff5e4 21.5px,#fff9ed 22.5px,#fffbf3 23.5px,#fffdfa 25.5px,#fffefc 29.5px,#fffcf6 50.5px,#fff8ec 55.5px,#fff2db 60.5px,#ffeece 63.5px,#ffe6b8 67.5px,#ffd589 74.5px,#ffc456 80.5px,#ffb630 84.5px,#ffa707 88.5px,#ffa300 89.5px,#ff2c00 105.5px,#ff0200 111.5px,#f90000 112.5px,#d40000 116.5px,#bb0000 119.5px,#a00000 123.5px,#8f0000 126.5px,#830000 129.5px,#790000 132.5px,#740000 135.5px,#710000 139.5px,#710000 143.5px,#750000 146.5px,#800000 150.5px,#8c0000 153.5px,#9c0000 156.5px,#b80000 160.5px,#d10000 163.5px,#f70000 167.5px,#ff0100 168.5px,#ff3400 176.5px,#ff4300 179.5px,#ff4e00 182.5px,#ff5400 185.5px,#ff5800 189.5px,#ff5d00 211.5px,#ff6000 213.5px,#ff6600 215.5px,#ff7500 218.5px,#ff8400 220.5px,#ff9e00 223.5px,#ffa705 224.5px,#ffcb6b 230.5px,#ffdb9a 233.5px,#ffe9c0 236.5px,#fff0d3 238.5px,#fff7e8 241.5px,#fffbf4 244.5px,#fffefc 248.5px,#ffffff 254.5px)"></i>
<i style="background:linear-gradient(90deg,#ffebc5 0.5px,#ffe2ae 1.5px,#ffd892 2.5px,#ffcd71 3.5px,#ffa705 6.5px,#ff9500 7.5px,#ff8700 8.5px,#ff8000 9.5px,#ff8100 10.5px,#ff8900 11.5px,#ff9800 12.5px,#ffa90b 13.5px,#ffcf77 16.5px,#ffda97 17.5px,#ffe4b2 18.5px,#ffecc9 19.5px,#fff2da 20.5px,#fff6e6 21.5px,#fff9ef 22.5px,#fffdf8 24.5px,#fffefb 26.5px,#fffefc 29.5px,#fffcf7 50.5px,#fff8eb 56.5px,#fff2db 61.5px,#ffe6b9 68.5px,#ffdea1 72.5px,#ffd485 76.5px,#ffc04c 83.5px,#ffa500 91.5px,#ff3300 108.5px,#ff1500 113.5px,#ff0000 117.5px,#ea0000 120.5px,#d70000 123.5px,#c00000 128.5px,#b20000 133.5px,#ac0000 139.5px,#af0000 145.5px,#b40000 148.5px,#bd0000 151.5px,#d30000 156.5px,#e40000 159.5px,#f90000 162.5px,#ff0100 163.5px,#ff4a00 176.5px,#ff5e00 181.5px,#ff6700 185.5px,#ff6a00 189.5px,#ff7000 212.5px,#ff7400 214.5px,#ff8100 217.5px,#ff8d00 219.5px,#ffa501 222.5px,#ffb52d 225.5px,#ffd17c 230.5px,#ffdb99 232.5px,#ffe8be 235.5px,#fff2d9 238.5px,#fff8eb 241.5px,#fffcf6 244.5px,#fffefc 248.5px,#ffffff 254.5px)"></i>
<i style="background:linear-gradient(90deg,#ffedcb 0.5px,#ffe5b6 1.5px,#ffdc9d 2.5px,#ffd27f 3.5px,#ffb01e 6.5px,#ffa603 7.5px,#ff9b00 8.5px,#ff9500 9.5px,#ff9500 10.5px,#ff9d00 11.5px,#ffa808 12.5px,#ffb224 13.5px,#ffd485 16.5px,#ffdea2 17.5px,#ffe7ba 18.5px,#ffeece 19.5px,#fff3dd 20.5px,#fff7e9 21.5px,#fffcf5 23.5px,#fffdfb 25.5px,#fffefd 29.5px,#fffdf8 50.5px,#fff8eb 57.5px,#fff1d7 63.5px,#ffe5b7 70.5px,#ffdda0 74.5px,#ffd485 78.5px,#ffc150 85.5px,#ffa501 94.5px,#ff5800 107.5px,#ff2e00 115.5px,#ff1200 122.5px,#ff0600 126.5px,#fe0000 129.5px,#f10000 135.5px,#ef0000 141.5px,#f30000 147.5px,#ff0000 152.5px,#ff0a00 156.5px,#ff1b00 161.5px,#ff3100 166.5px,#ff6100 176.5px,#ff6d00 179.5px,#ff7600 182.5px,#ff7a00 185.5px,#ff7d00 189.5px,#ff8200 212.5px,#ff8a00 215.5px,#ff9f00 219.5px,#ffa602 220.5px,#ffaa0d 221.5px,#ffb836 224.5px,#ffdb9a 231.5px,#ffe8bd 234.5px,#fff1d8 237.5px,#fff8ea 240.5px,#fffcf7 244.5px,#fffefd 248.5px,#ffffff 254.5px)"></i>
<i style="background:linear-gradient(90deg,#ffefd1 0.5px,#ffe8bf 1.5px,#ffe0a8 2.5px,#ffd78e 3.5px,#ffb939 6.5px,#ffb121 7.5px,#ffab11 8.5px,#ffa808 9.5px,#ffa809 10.5px,#ffac13 11.5px,#ffb225 12.5px,#ffbb3e 13.5px,#ffd993 16.5px,#ffe2ad 17.5px,#ffeac2 18.5px,#fff0d4 19.5px,#fff5e1 20.5px,#fffaf2 22.5px,#fffdf9 24.5px,#fffefc 26.5px,#fffefd 30.5px,#fffdf9 50.5px,#fff9ee 57.5px,#fff2d9 64.5px,#ffe7bc 71.5px,#ffd88f 79.5px,#ffc459 87.5px,#ffa603 98.5px,#ffa100 99.5px,#ff6a00 110.5px,#ff4500 119.5px,#ff2f00 127.5px,#ff2800 131.5px,#ff2300 136.5px,#ff2400 146.5px,#ff2900 151.5px,#ff3000 155.5px,#ff3a00 159.5px,#ff4a00 164.5px,#ff8000 178.5px,#ff8c00 183.5px,#ff9200 190.5px,#ff9400 211.5px,#ff9900 214.5px,#ffa500 217.5px,#ffab12 219.5px,#ffb733 222.5px,#ffe0a7 231.5px,#ffebc6 234.5px,#fff1d7 236.5px,#fff7e9 239.5px,#fffcf6 243.5px,#fffefc 247.5px,#ffffff 254.5px)"></i>
<i style="background:linear-gradient(90deg,#fff1d8 0.5px,#ffebc8 1.5px,#ffe5b4 2.5px,#ffc354 6.5px,#ffbb40 7.5px,#ffb631 8.5px,#ffb42a 9.5px,#ffb42b 10.5px,#ffb733 11.5px,#ffbd43 12.5px,#ffc458 13.5px,#ffdea2 16.5px,#ffe6b8 17.5px,#ffedcb 18.5px,#fff2da 19.5px,#fff6e5 20.5px,#fffbf4 22.5px,#fffdfa 24.5px,#fffefd 27.5px,#fffefb 45.5px,#fffdf9 51.5px,#fff9ee 58.5px,#fff3dc 65.5px,#ffe9c2 72.5px,#ffdfa6 78.5px,#ffd27f 85.5px,#ffc252 92.5px,#ffa500 104.5px,#ff7900 115.5px,#ff6000 124.5px,#ff5300 132.5px,#ff4f00 142.5px,#ff5300 150.5px,#ff5f00 158.5px,#ff7200 166.5px,#ff9800 178.5px,#ffa100 183.5px,#ffa500 189.5px,#ffa603 206.5px,#ffa501 210.5px,#ffa90a 214.5px,#ffac15 216.5px,#ffb224 218.5px,#ffc04c 222.5px,#ffd993 228.5px,#ffe4b4 231.5px,#ffeecf 234.5px,#fff5e3 237.5px,#fffaf0 240.5px,#fffdfa 244.5px,#fffefd 248.5px,#ffffff 254.5px)"></i>
<i style="background:linear-gradient(90deg,#fff3de 0.5px,#ffefd0 1.5px,#ffe9c0 2.5px,#ffcc6e 6.5px,#ffc65d 7.5px,#ffc251 8.5px,#ffbf4b 9.5px,#ffc04b 10.5px,#ffc253 11.5px,#ffc760 12.5px,#ffcd72 13.5px,#ffe3b0 16.5px,#ffefd3 18.5px,#fff7e9 20.5px,#fffcf6 22.5px,#fffefb 24.5px,#fffefd 27.5px,#fffefb 50.5px,#fffbf3 57.5px,#fff6e7 63.5px,#fff1d6 69.5px,#ffe8bd 76.5px,#ffe0a8 81.5px,#ffd68a 87.5px,#ffb121 106.5px,#ffa602 112.5px,#ff9000 120.5px,#ff8300 127.5px,#ff7c00 134.5px,#ff7a00 142.5px,#ff7c00 150.5px,#ff8500 158.5px,#ff9200 166.5px,#ffa500 174.5px,#ffac14 180.5px,#ffaf1c 185.5px,#ffb020 205.5px,#ffb01f 208.5px,#ffaf1c 210.5px,#ffb123 213.5px,#ffb630 216.5px,#ffbe46 219.5px,#ffc863 222.5px,#ffe5b6 230.5px,#ffeecf 233.5px,#fff5e3 236.5px,#fffaf0 239.5px,#fffdf9 243.5px,#fffefd 247.5px,#ffffff 254.5px)"></i>
</div>
<svg width="357" height="249" viewBox="0 0 357 249" style="position:absolute;left:0;top:0;will-change:transform;font-family:'Liberation Sans',sans-serif;font-size:11.65px" fill="#000"><style>text{stroke:#000;stroke-width:0.24px;paint-order:stroke}</style>
<defs><linearGradient id="cb" x1="0" y1="1" x2="0" y2="0"><stop offset="0" stop-color="#fff"/><stop offset="0.3333" stop-color="#ffa500"/><stop offset="0.6667" stop-color="#f00"/><stop offset="1" stop-color="#000"/></linearGradient></defs>
<path fill="#fff" fill-rule="evenodd" d="M0 0H357V249H0Z M44.5 0.5H297.5V211.5H44.5Z"/>
<line x1="256.8" x2="256.8" y1="211.5" y2="0.5" stroke="#000" stroke-opacity="0.8" stroke-width="1.1" stroke-dasharray="2.75 2.95"/>
<rect x="44.5" y="0.5" width="253.0" height="211.0" fill="none" stroke="#000" stroke-width="0.75"/>
<path d="M53.87 211.5V218.7 M101.64 211.5V218.7 M149.40 211.5V218.7 M197.17 211.5V218.7 M244.93 211.5V218.7 M292.70 211.5V218.7 M44.5 203.60H37.3 M44.5 164.54H37.3 M44.5 125.48H37.3 M44.5 86.42H37.3 M44.5 47.36H37.3 M44.5 8.30H37.3 M53.87 211.5H292.70 M44.5 203.60V8.30 " stroke="#000" stroke-width="0.75" fill="none"/>
<text x="53.87" y="230.6" text-anchor="middle">0.0</text>
<text x="101.64" y="230.6" text-anchor="middle">0.2</text>
<text x="149.40" y="230.6" text-anchor="middle">0.4</text>
<text x="197.17" y="230.6" text-anchor="middle">0.6</text>
<text x="244.93" y="230.6" text-anchor="middle">0.8</text>
<text x="292.70" y="230.6" text-anchor="middle">1.0</text>
<text transform="translate(32.8 203.60) rotate(-90)" text-anchor="middle">0.0</text>
<text transform="translate(32.8 164.54) rotate(-90)" text-anchor="middle">0.2</text>
<text transform="translate(32.8 125.48) rotate(-90)" text-anchor="middle">0.4</text>
<text transform="translate(32.8 86.42) rotate(-90)" text-anchor="middle">0.6</text>
<text transform="translate(32.8 47.36) rotate(-90)" text-anchor="middle">0.8</text>
<text transform="translate(32.8 8.30) rotate(-90)" text-anchor="middle">1.0</text>
<text x="171.00" y="246" text-anchor="middle">Correlation between observed and spline−predicted EVI</text>
<text transform="translate(9.4 106.00) rotate(-90)" text-anchor="middle">Sub−pixel Canopy Fraction</text>
<text x="126.6" y="32.4">Correlation = 0.85</text>
<path d="M221.3 28.1H256.7 M241.4 19.2L256.7 28.1L241.4 37" stroke="#000" stroke-width="0.75" fill="none" stroke-linejoin="miter"/>
<rect x="305.55" y="10.9" width="12.050000000000011" height="189.5" fill="url(#cb)" stroke="#000" stroke-width="0.75"/>
<path d="M317.6 200.40H324.7 M317.6 172.28H324.7 M317.6 144.17H324.7 M317.6 116.05H324.7 M317.6 87.94H324.7 M317.6 59.82H324.7 M317.6 31.71H324.7 " stroke="#000" stroke-width="0.75" fill="none"/>
<text x="328.3" y="204.50">0.000</text>
<text x="328.3" y="176.38">0.005</text>
<text x="328.3" y="148.27">0.010</text>
<text x="328.3" y="120.15">0.015</text>
<text x="328.3" y="92.04">0.020</text>
<text x="328.3" y="63.92">0.025</text>
<text x="328.3" y="35.81">0.030</text>
</svg>
</div>
</body></html>
